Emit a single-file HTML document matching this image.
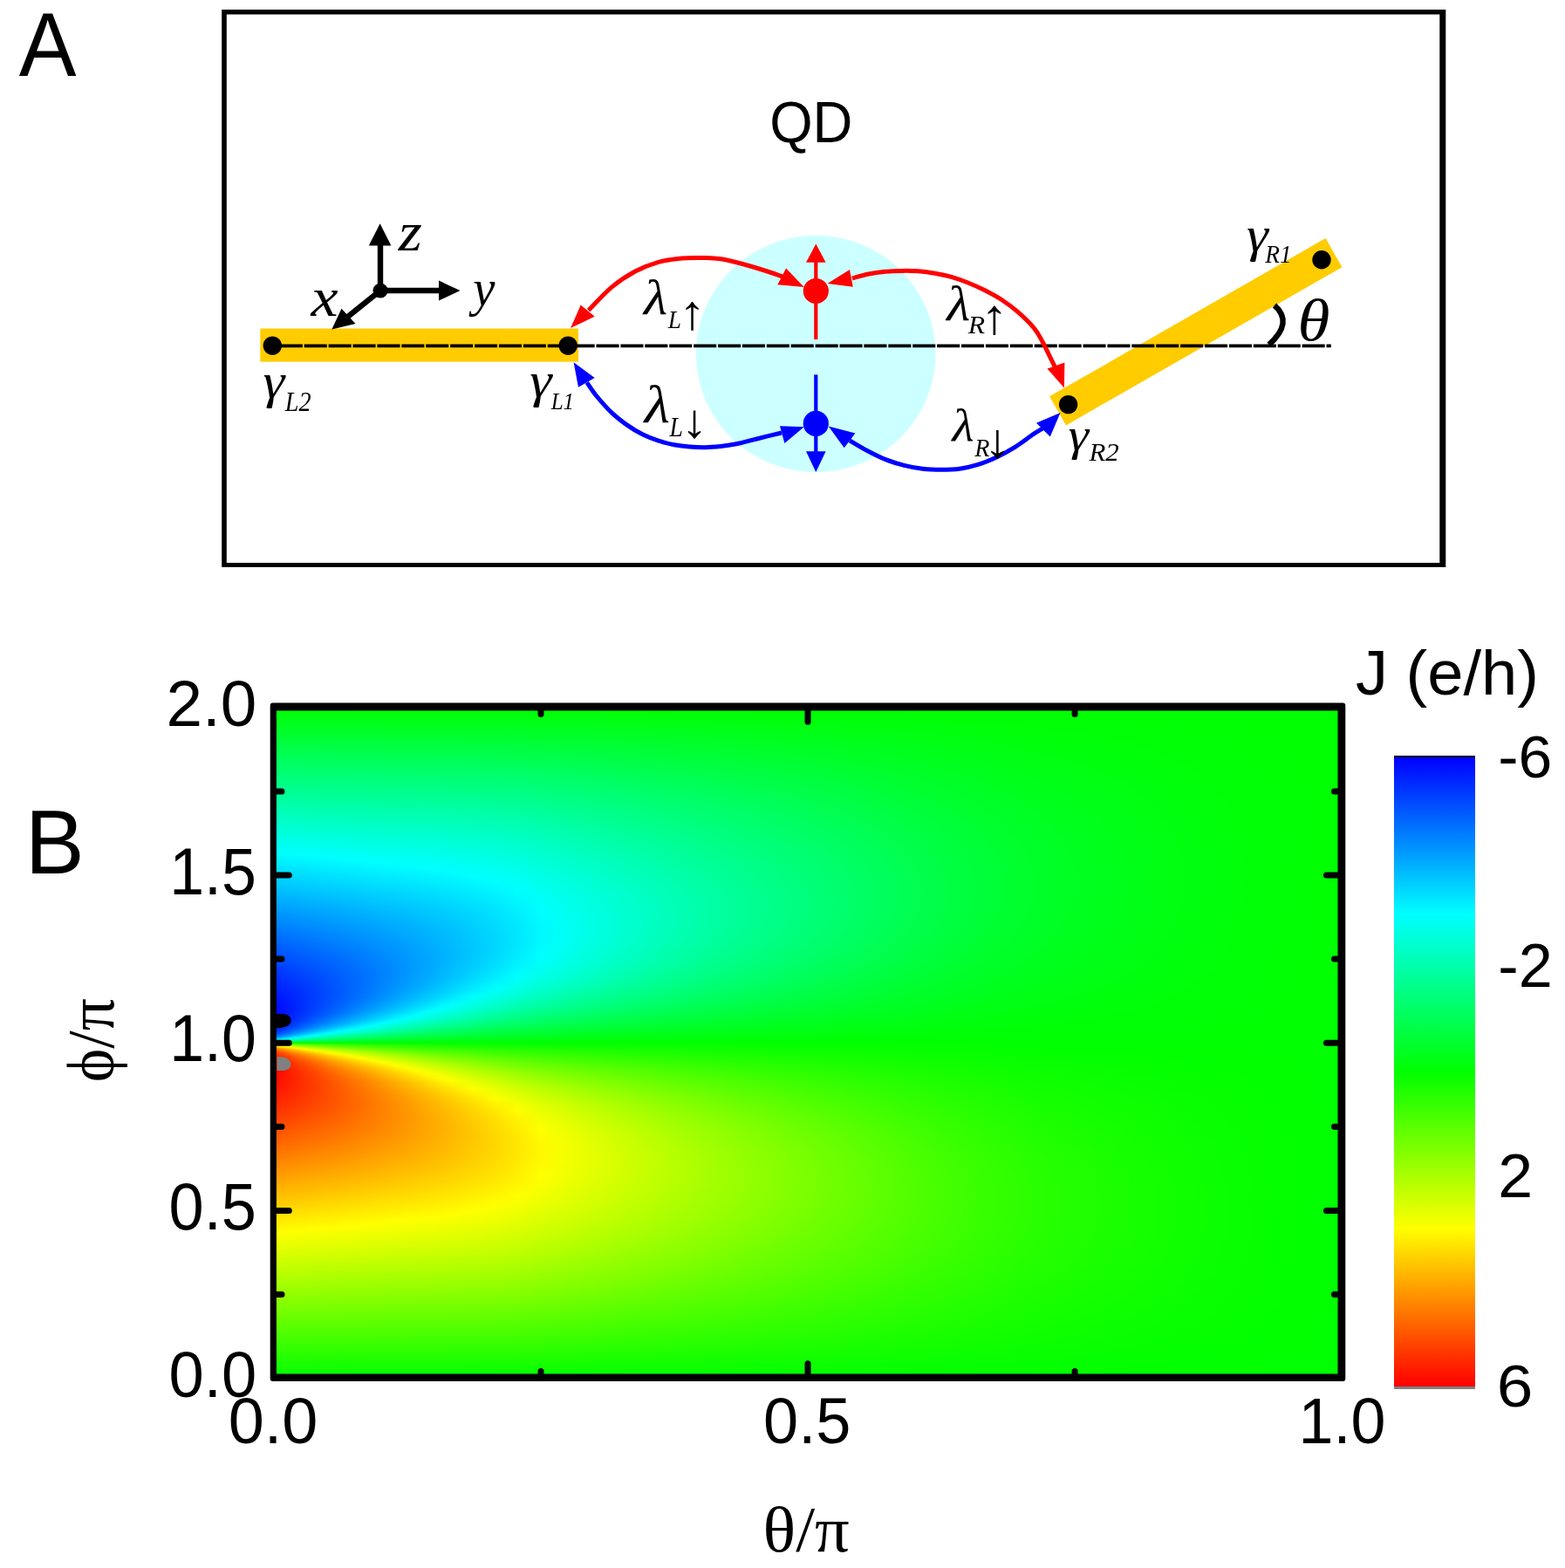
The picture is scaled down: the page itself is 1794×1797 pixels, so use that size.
<!DOCTYPE html>
<html lang="en"><head><meta charset="utf-8"><title>Figure</title>
<style>
html,body{margin:0;padding:0;background:#fff}
body{width:1794px;height:1797px;position:relative;overflow:hidden;font-family:"Liberation Sans",sans-serif}
#hm{position:absolute;overflow:hidden}
#hm i{display:block;width:100%}
#cb{position:absolute;left:1598px;top:866px;width:93px;height:726px;background:linear-gradient(180deg,#000 0,#000 2px,#0000ff 2px,#00ffff 182px,#00ff00 362px,#ffff00 542px,#ff0000 723px,#808080 723px,#808080 726px)}
svg{position:absolute;left:0;top:0}
text{font-family:"Liberation Sans",sans-serif;fill:#000}
.serif{font-family:"Liberation Serif",serif}
.si{font-family:"Liberation Serif",serif;font-style:italic}
</style></head>
<body>
<div id="hm" style="left:312px;top:810px;width:1228px;height:770px"><i style="height:3px;background:linear-gradient(90deg,#00ff01,#00ff01,#00ff01,#00ff01,#00ff01,#00ff01,#00ff01,#00ff01,#00ff01,#00ff01,#00ff01,#00ff01,#00ff01,#00ff01,#00ff01,#00ff01,#00ff01,#00ff01,#00ff01,#00ff01,#00ff01,#00ff01,#00ff01,#00ff01,#00ff01,#00ff01,#00ff00,#00ff00,#00ff00,#00ff00,#00ff00,#00ff00,#00ff00,#00ff00,#00ff00,#00ff00,#00ff00,#00ff00,#00ff00,#00ff00,#00ff00,#00ff00,#00ff00,#00ff00,#00ff00,#00ff00,#00ff00,#00ff00,#00ff00)"></i><i style="height:3px;background:linear-gradient(90deg,#00ff06,#00ff06,#00ff06,#00ff06,#00ff05,#00ff05,#00ff05,#00ff05,#00ff05,#00ff05,#00ff05,#00ff05,#00ff05,#00ff05,#00ff05,#00ff04,#00ff04,#00ff04,#00ff04,#00ff04,#00ff04,#00ff03,#00ff03,#00ff03,#00ff03,#00ff03,#00ff03,#00ff02,#00ff02,#00ff02,#00ff02,#00ff02,#00ff01,#00ff01,#00ff01,#00ff01,#00ff01,#00ff01,#00ff01,#00ff01,#00ff01,#00ff00,#00ff00,#00ff00,#00ff00,#00ff00,#00ff00,#00ff00,#00ff00)"></i><i style="height:3px;background:linear-gradient(90deg,#00ff0a,#00ff0a,#00ff0a,#00ff0a,#00ff0a,#00ff0a,#00ff0a,#00ff0a,#00ff0a,#00ff0a,#00ff09,#00ff09,#00ff09,#00ff09,#00ff08,#00ff08,#00ff08,#00ff07,#00ff07,#00ff07,#00ff06,#00ff06,#00ff06,#00ff06,#00ff05,#00ff05,#00ff05,#00ff04,#00ff04,#00ff04,#00ff03,#00ff03,#00ff03,#00ff02,#00ff02,#00ff02,#00ff02,#00ff02,#00ff01,#00ff01,#00ff01,#00ff01,#00ff01,#00ff00,#00ff00,#00ff00,#00ff00,#00ff00,#00ff00)"></i><i style="height:3px;background:linear-gradient(90deg,#00ff0f,#00ff0f,#00ff0f,#00ff0e,#00ff0e,#00ff0e,#00ff0e,#00ff0e,#00ff0e,#00ff0e,#00ff0e,#00ff0d,#00ff0d,#00ff0d,#00ff0c,#00ff0c,#00ff0b,#00ff0b,#00ff0a,#00ff0a,#00ff09,#00ff09,#00ff09,#00ff08,#00ff08,#00ff07,#00ff07,#00ff06,#00ff06,#00ff05,#00ff05,#00ff04,#00ff04,#00ff04,#00ff03,#00ff03,#00ff02,#00ff02,#00ff02,#00ff02,#00ff01,#00ff01,#00ff01,#00ff01,#00ff00,#00ff00,#00ff00,#00ff00,#00ff00)"></i><i style="height:3px;background:linear-gradient(90deg,#00ff14,#00ff13,#00ff13,#00ff13,#00ff13,#00ff13,#00ff13,#00ff12,#00ff12,#00ff12,#00ff12,#00ff12,#00ff11,#00ff10,#00ff10,#00ff0f,#00ff0f,#00ff0e,#00ff0d,#00ff0d,#00ff0c,#00ff0c,#00ff0b,#00ff0b,#00ff0a,#00ff09,#00ff09,#00ff08,#00ff08,#00ff07,#00ff06,#00ff06,#00ff05,#00ff05,#00ff04,#00ff04,#00ff03,#00ff03,#00ff03,#00ff02,#00ff02,#00ff02,#00ff01,#00ff01,#00ff01,#00ff00,#00ff00,#00ff00,#00ff00)"></i><i style="height:3px;background:linear-gradient(90deg,#00ff18,#00ff18,#00ff18,#00ff17,#00ff17,#00ff17,#00ff17,#00ff17,#00ff17,#00ff16,#00ff16,#00ff16,#00ff15,#00ff14,#00ff14,#00ff13,#00ff12,#00ff11,#00ff11,#00ff10,#00ff0f,#00ff0e,#00ff0e,#00ff0d,#00ff0c,#00ff0c,#00ff0b,#00ff0a,#00ff09,#00ff09,#00ff08,#00ff07,#00ff06,#00ff06,#00ff05,#00ff04,#00ff04,#00ff04,#00ff03,#00ff03,#00ff02,#00ff02,#00ff01,#00ff01,#00ff01,#00ff01,#00ff00,#00ff00,#00ff00)"></i><i style="height:3px;background:linear-gradient(90deg,#00ff1d,#00ff1c,#00ff1c,#00ff1c,#00ff1c,#00ff1b,#00ff1b,#00ff1b,#00ff1b,#00ff1b,#00ff1a,#00ff1a,#00ff19,#00ff18,#00ff17,#00ff16,#00ff16,#00ff15,#00ff14,#00ff13,#00ff12,#00ff11,#00ff10,#00ff10,#00ff0f,#00ff0e,#00ff0d,#00ff0c,#00ff0b,#00ff0a,#00ff09,#00ff08,#00ff08,#00ff07,#00ff06,#00ff05,#00ff05,#00ff04,#00ff04,#00ff03,#00ff03,#00ff02,#00ff02,#00ff01,#00ff01,#00ff01,#00ff00,#00ff00,#00ff00)"></i><i style="height:3px;background:linear-gradient(90deg,#00ff21,#00ff21,#00ff21,#00ff20,#00ff20,#00ff20,#00ff20,#00ff1f,#00ff1f,#00ff1f,#00ff1f,#00ff1e,#00ff1d,#00ff1c,#00ff1b,#00ff1a,#00ff19,#00ff18,#00ff17,#00ff16,#00ff15,#00ff14,#00ff13,#00ff12,#00ff11,#00ff10,#00ff0f,#00ff0e,#00ff0d,#00ff0c,#00ff0b,#00ff0a,#00ff09,#00ff08,#00ff07,#00ff06,#00ff06,#00ff05,#00ff04,#00ff04,#00ff03,#00ff03,#00ff02,#00ff02,#00ff01,#00ff01,#00ff00,#00ff00,#00ff00)"></i><i style="height:3px;background:linear-gradient(90deg,#00ff26,#00ff26,#00ff25,#00ff25,#00ff25,#00ff24,#00ff24,#00ff24,#00ff24,#00ff23,#00ff23,#00ff22,#00ff21,#00ff20,#00ff1f,#00ff1e,#00ff1c,#00ff1b,#00ff1a,#00ff19,#00ff18,#00ff17,#00ff16,#00ff15,#00ff13,#00ff12,#00ff11,#00ff10,#00ff0f,#00ff0d,#00ff0c,#00ff0b,#00ff0a,#00ff09,#00ff08,#00ff07,#00ff06,#00ff06,#00ff05,#00ff04,#00ff04,#00ff03,#00ff02,#00ff02,#00ff01,#00ff01,#00ff00,#00ff00,#00ff00)"></i><i style="height:3px;background:linear-gradient(90deg,#00ff2b,#00ff2a,#00ff2a,#00ff29,#00ff29,#00ff29,#00ff28,#00ff28,#00ff28,#00ff27,#00ff27,#00ff26,#00ff25,#00ff24,#00ff22,#00ff21,#00ff20,#00ff1f,#00ff1d,#00ff1c,#00ff1b,#00ff1a,#00ff18,#00ff17,#00ff16,#00ff14,#00ff13,#00ff12,#00ff10,#00ff0f,#00ff0e,#00ff0c,#00ff0b,#00ff0a,#00ff09,#00ff08,#00ff07,#00ff06,#00ff05,#00ff05,#00ff04,#00ff03,#00ff03,#00ff02,#00ff01,#00ff01,#00ff01,#00ff00,#00ff00)"></i><i style="height:3px;background:linear-gradient(90deg,#00ff2f,#00ff2f,#00ff2e,#00ff2e,#00ff2d,#00ff2d,#00ff2d,#00ff2c,#00ff2c,#00ff2c,#00ff2b,#00ff2a,#00ff29,#00ff28,#00ff26,#00ff25,#00ff23,#00ff22,#00ff20,#00ff1f,#00ff1e,#00ff1c,#00ff1b,#00ff19,#00ff18,#00ff17,#00ff15,#00ff14,#00ff12,#00ff11,#00ff0f,#00ff0e,#00ff0c,#00ff0b,#00ff0a,#00ff09,#00ff08,#00ff07,#00ff06,#00ff05,#00ff04,#00ff04,#00ff03,#00ff02,#00ff02,#00ff01,#00ff01,#00ff00,#00ff00)"></i><i style="height:3px;background:linear-gradient(90deg,#00ff34,#00ff33,#00ff33,#00ff32,#00ff32,#00ff31,#00ff31,#00ff31,#00ff30,#00ff30,#00ff2f,#00ff2e,#00ff2d,#00ff2b,#00ff2a,#00ff28,#00ff27,#00ff25,#00ff24,#00ff22,#00ff21,#00ff1f,#00ff1d,#00ff1c,#00ff1a,#00ff19,#00ff17,#00ff16,#00ff14,#00ff12,#00ff11,#00ff0f,#00ff0e,#00ff0c,#00ff0b,#00ff0a,#00ff09,#00ff08,#00ff07,#00ff06,#00ff05,#00ff04,#00ff03,#00ff02,#00ff02,#00ff01,#00ff01,#00ff00,#00ff00)"></i><i style="height:3px;background:linear-gradient(90deg,#00ff38,#00ff38,#00ff37,#00ff37,#00ff36,#00ff36,#00ff35,#00ff35,#00ff35,#00ff34,#00ff34,#00ff33,#00ff31,#00ff2f,#00ff2e,#00ff2c,#00ff2a,#00ff28,#00ff27,#00ff25,#00ff23,#00ff22,#00ff20,#00ff1e,#00ff1d,#00ff1b,#00ff19,#00ff17,#00ff16,#00ff14,#00ff12,#00ff10,#00ff0f,#00ff0d,#00ff0c,#00ff0a,#00ff09,#00ff08,#00ff07,#00ff06,#00ff05,#00ff04,#00ff03,#00ff03,#00ff02,#00ff01,#00ff01,#00ff00,#00ff00)"></i><i style="height:3px;background:linear-gradient(90deg,#00ff3d,#00ff3c,#00ff3c,#00ff3b,#00ff3b,#00ff3a,#00ff3a,#00ff39,#00ff39,#00ff38,#00ff38,#00ff37,#00ff35,#00ff33,#00ff31,#00ff2f,#00ff2e,#00ff2c,#00ff2a,#00ff28,#00ff26,#00ff24,#00ff23,#00ff21,#00ff1f,#00ff1d,#00ff1b,#00ff19,#00ff17,#00ff15,#00ff14,#00ff12,#00ff10,#00ff0e,#00ff0d,#00ff0b,#00ff0a,#00ff09,#00ff08,#00ff07,#00ff06,#00ff05,#00ff04,#00ff03,#00ff02,#00ff01,#00ff01,#00ff00,#00ff00)"></i><i style="height:3px;background:linear-gradient(90deg,#00ff42,#00ff41,#00ff40,#00ff40,#00ff3f,#00ff3f,#00ff3e,#00ff3e,#00ff3d,#00ff3d,#00ff3c,#00ff3b,#00ff39,#00ff37,#00ff35,#00ff33,#00ff31,#00ff2f,#00ff2d,#00ff2b,#00ff29,#00ff27,#00ff25,#00ff23,#00ff21,#00ff1f,#00ff1d,#00ff1b,#00ff19,#00ff17,#00ff15,#00ff13,#00ff11,#00ff0f,#00ff0e,#00ff0c,#00ff0b,#00ff0a,#00ff08,#00ff07,#00ff06,#00ff05,#00ff04,#00ff03,#00ff02,#00ff01,#00ff01,#00ff00,#00ff00)"></i><i style="height:3px;background:linear-gradient(90deg,#00ff46,#00ff46,#00ff45,#00ff44,#00ff44,#00ff43,#00ff43,#00ff42,#00ff42,#00ff41,#00ff40,#00ff3f,#00ff3d,#00ff3b,#00ff39,#00ff36,#00ff34,#00ff32,#00ff30,#00ff2e,#00ff2c,#00ff2a,#00ff28,#00ff26,#00ff24,#00ff22,#00ff1f,#00ff1d,#00ff1b,#00ff19,#00ff16,#00ff14,#00ff12,#00ff10,#00ff0e,#00ff0d,#00ff0b,#00ff0a,#00ff09,#00ff08,#00ff06,#00ff05,#00ff04,#00ff03,#00ff02,#00ff02,#00ff01,#00ff00,#00ff00)"></i><i style="height:3px;background:linear-gradient(90deg,#00ff4b,#00ff4a,#00ff49,#00ff49,#00ff48,#00ff47,#00ff47,#00ff46,#00ff46,#00ff45,#00ff44,#00ff43,#00ff41,#00ff3e,#00ff3c,#00ff3a,#00ff38,#00ff35,#00ff33,#00ff31,#00ff2f,#00ff2d,#00ff2a,#00ff28,#00ff26,#00ff24,#00ff21,#00ff1f,#00ff1d,#00ff1a,#00ff18,#00ff16,#00ff13,#00ff11,#00ff0f,#00ff0e,#00ff0c,#00ff0b,#00ff09,#00ff08,#00ff07,#00ff06,#00ff04,#00ff03,#00ff02,#00ff02,#00ff01,#00ff00,#00ff00)"></i><i style="height:3px;background:linear-gradient(90deg,#00ff50,#00ff4f,#00ff4e,#00ff4d,#00ff4c,#00ff4c,#00ff4b,#00ff4b,#00ff4a,#00ff49,#00ff49,#00ff47,#00ff45,#00ff42,#00ff40,#00ff3d,#00ff3b,#00ff39,#00ff36,#00ff34,#00ff32,#00ff2f,#00ff2d,#00ff2b,#00ff28,#00ff26,#00ff23,#00ff21,#00ff1e,#00ff1c,#00ff19,#00ff17,#00ff14,#00ff12,#00ff10,#00ff0e,#00ff0d,#00ff0b,#00ff0a,#00ff09,#00ff07,#00ff06,#00ff05,#00ff04,#00ff03,#00ff02,#00ff01,#00ff00,#00ff00)"></i><i style="height:3px;background:linear-gradient(90deg,#00ff54,#00ff53,#00ff52,#00ff52,#00ff51,#00ff50,#00ff50,#00ff4f,#00ff4e,#00ff4e,#00ff4d,#00ff4b,#00ff49,#00ff46,#00ff44,#00ff41,#00ff3e,#00ff3c,#00ff39,#00ff37,#00ff34,#00ff32,#00ff2f,#00ff2d,#00ff2a,#00ff28,#00ff25,#00ff23,#00ff20,#00ff1d,#00ff1b,#00ff18,#00ff16,#00ff13,#00ff11,#00ff0f,#00ff0e,#00ff0c,#00ff0b,#00ff09,#00ff08,#00ff06,#00ff05,#00ff04,#00ff03,#00ff02,#00ff01,#00ff00,#00ff00)"></i><i style="height:3px;background:linear-gradient(90deg,#00ff59,#00ff58,#00ff57,#00ff56,#00ff55,#00ff54,#00ff54,#00ff53,#00ff53,#00ff52,#00ff51,#00ff4f,#00ff4c,#00ff4a,#00ff47,#00ff44,#00ff42,#00ff3f,#00ff3c,#00ff3a,#00ff37,#00ff35,#00ff32,#00ff2f,#00ff2d,#00ff2a,#00ff27,#00ff24,#00ff22,#00ff1f,#00ff1c,#00ff19,#00ff17,#00ff14,#00ff12,#00ff10,#00ff0e,#00ff0d,#00ff0b,#00ff0a,#00ff08,#00ff07,#00ff05,#00ff04,#00ff03,#00ff02,#00ff01,#00ff00,#00ff00)"></i><i style="height:3px;background:linear-gradient(90deg,#00ff5d,#00ff5c,#00ff5b,#00ff5b,#00ff5a,#00ff59,#00ff58,#00ff58,#00ff57,#00ff56,#00ff55,#00ff53,#00ff50,#00ff4e,#00ff4b,#00ff48,#00ff45,#00ff42,#00ff40,#00ff3d,#00ff3a,#00ff37,#00ff34,#00ff32,#00ff2f,#00ff2c,#00ff29,#00ff26,#00ff23,#00ff20,#00ff1d,#00ff1b,#00ff18,#00ff15,#00ff13,#00ff11,#00ff0f,#00ff0d,#00ff0c,#00ff0a,#00ff08,#00ff07,#00ff06,#00ff04,#00ff03,#00ff02,#00ff01,#00ff00,#00ff00)"></i><i style="height:3px;background:linear-gradient(90deg,#00ff62,#00ff61,#00ff60,#00ff5f,#00ff5e,#00ff5d,#00ff5d,#00ff5c,#00ff5b,#00ff5a,#00ff59,#00ff57,#00ff54,#00ff51,#00ff4e,#00ff4b,#00ff48,#00ff46,#00ff43,#00ff40,#00ff3d,#00ff3a,#00ff37,#00ff34,#00ff31,#00ff2e,#00ff2b,#00ff28,#00ff25,#00ff22,#00ff1f,#00ff1c,#00ff19,#00ff16,#00ff14,#00ff12,#00ff10,#00ff0e,#00ff0c,#00ff0a,#00ff09,#00ff07,#00ff06,#00ff04,#00ff03,#00ff02,#00ff01,#00ff00,#00ff00)"></i><i style="height:3px;background:linear-gradient(90deg,#00ff67,#00ff65,#00ff64,#00ff63,#00ff63,#00ff62,#00ff61,#00ff60,#00ff5f,#00ff5e,#00ff5d,#00ff5b,#00ff58,#00ff55,#00ff52,#00ff4f,#00ff4c,#00ff49,#00ff46,#00ff43,#00ff3f,#00ff3c,#00ff39,#00ff36,#00ff33,#00ff30,#00ff2d,#00ff2a,#00ff27,#00ff23,#00ff20,#00ff1d,#00ff1a,#00ff17,#00ff15,#00ff12,#00ff10,#00ff0f,#00ff0d,#00ff0b,#00ff09,#00ff08,#00ff06,#00ff05,#00ff03,#00ff02,#00ff01,#00ff00,#00ff00)"></i><i style="height:3px;background:linear-gradient(90deg,#00ff6b,#00ff6a,#00ff69,#00ff68,#00ff67,#00ff66,#00ff65,#00ff65,#00ff64,#00ff63,#00ff61,#00ff5f,#00ff5c,#00ff59,#00ff56,#00ff52,#00ff4f,#00ff4c,#00ff49,#00ff45,#00ff42,#00ff3f,#00ff3c,#00ff39,#00ff36,#00ff32,#00ff2f,#00ff2c,#00ff28,#00ff25,#00ff21,#00ff1e,#00ff1b,#00ff18,#00ff16,#00ff13,#00ff11,#00ff0f,#00ff0d,#00ff0b,#00ff0a,#00ff08,#00ff06,#00ff05,#00ff03,#00ff02,#00ff01,#00ff00,#00ff00)"></i><i style="height:3px;background:linear-gradient(90deg,#00ff70,#00ff6f,#00ff6d,#00ff6c,#00ff6b,#00ff6a,#00ff6a,#00ff69,#00ff68,#00ff67,#00ff66,#00ff63,#00ff60,#00ff5d,#00ff59,#00ff56,#00ff52,#00ff4f,#00ff4c,#00ff48,#00ff45,#00ff42,#00ff3e,#00ff3b,#00ff38,#00ff34,#00ff31,#00ff2d,#00ff2a,#00ff26,#00ff23,#00ff1f,#00ff1c,#00ff19,#00ff16,#00ff14,#00ff12,#00ff10,#00ff0e,#00ff0c,#00ff0a,#00ff08,#00ff06,#00ff05,#00ff04,#00ff02,#00ff01,#00ff01,#00ff00)"></i><i style="height:3px;background:linear-gradient(90deg,#00ff74,#00ff73,#00ff72,#00ff71,#00ff70,#00ff6f,#00ff6e,#00ff6d,#00ff6c,#00ff6b,#00ff6a,#00ff67,#00ff64,#00ff60,#00ff5d,#00ff59,#00ff56,#00ff52,#00ff4f,#00ff4b,#00ff48,#00ff44,#00ff41,#00ff3d,#00ff3a,#00ff36,#00ff33,#00ff2f,#00ff2b,#00ff28,#00ff24,#00ff21,#00ff1d,#00ff1a,#00ff17,#00ff15,#00ff12,#00ff10,#00ff0e,#00ff0c,#00ff0a,#00ff08,#00ff07,#00ff05,#00ff04,#00ff02,#00ff01,#00ff01,#00ff00)"></i><i style="height:3px;background:linear-gradient(90deg,#00ff79,#00ff78,#00ff76,#00ff75,#00ff74,#00ff73,#00ff72,#00ff71,#00ff70,#00ff6f,#00ff6e,#00ff6b,#00ff68,#00ff64,#00ff60,#00ff5d,#00ff59,#00ff55,#00ff52,#00ff4e,#00ff4a,#00ff47,#00ff43,#00ff40,#00ff3c,#00ff38,#00ff35,#00ff31,#00ff2d,#00ff29,#00ff25,#00ff22,#00ff1e,#00ff1b,#00ff18,#00ff15,#00ff13,#00ff11,#00ff0f,#00ff0d,#00ff0b,#00ff09,#00ff07,#00ff05,#00ff04,#00ff02,#00ff01,#00ff01,#00ff00)"></i><i style="height:3px;background:linear-gradient(90deg,#00ff7e,#00ff7c,#00ff7b,#00ff7a,#00ff79,#00ff77,#00ff76,#00ff76,#00ff75,#00ff73,#00ff72,#00ff6f,#00ff6b,#00ff68,#00ff64,#00ff60,#00ff5c,#00ff58,#00ff55,#00ff51,#00ff4d,#00ff49,#00ff46,#00ff42,#00ff3e,#00ff3a,#00ff37,#00ff33,#00ff2f,#00ff2b,#00ff27,#00ff23,#00ff1f,#00ff1c,#00ff19,#00ff16,#00ff14,#00ff11,#00ff0f,#00ff0d,#00ff0b,#00ff09,#00ff07,#00ff05,#00ff04,#00ff03,#00ff01,#00ff01,#00ff00)"></i><i style="height:3px;background:linear-gradient(90deg,#00ff82,#00ff81,#00ff7f,#00ff7e,#00ff7d,#00ff7c,#00ff7b,#00ff7a,#00ff79,#00ff77,#00ff76,#00ff73,#00ff6f,#00ff6b,#00ff67,#00ff63,#00ff5f,#00ff5b,#00ff57,#00ff54,#00ff50,#00ff4c,#00ff48,#00ff44,#00ff40,#00ff3c,#00ff38,#00ff34,#00ff30,#00ff2c,#00ff28,#00ff24,#00ff20,#00ff1d,#00ff1a,#00ff17,#00ff14,#00ff12,#00ff10,#00ff0e,#00ff0b,#00ff09,#00ff07,#00ff06,#00ff04,#00ff03,#00ff01,#00ff01,#00ff00)"></i><i style="height:3px;background:linear-gradient(90deg,#00ff87,#00ff85,#00ff84,#00ff83,#00ff81,#00ff80,#00ff7f,#00ff7e,#00ff7d,#00ff7b,#00ff7a,#00ff77,#00ff73,#00ff6f,#00ff6b,#00ff67,#00ff63,#00ff5e,#00ff5a,#00ff56,#00ff52,#00ff4e,#00ff4a,#00ff46,#00ff42,#00ff3e,#00ff3a,#00ff36,#00ff32,#00ff2d,#00ff29,#00ff25,#00ff21,#00ff1e,#00ff1a,#00ff17,#00ff15,#00ff13,#00ff10,#00ff0e,#00ff0c,#00ff0a,#00ff08,#00ff06,#00ff04,#00ff03,#00ff02,#00ff01,#00ff00)"></i><i style="height:3px;background:linear-gradient(90deg,#00ff8c,#00ff8a,#00ff88,#00ff87,#00ff86,#00ff84,#00ff83,#00ff82,#00ff81,#00ff7f,#00ff7e,#00ff7b,#00ff77,#00ff72,#00ff6e,#00ff6a,#00ff66,#00ff61,#00ff5d,#00ff59,#00ff55,#00ff51,#00ff4d,#00ff48,#00ff44,#00ff40,#00ff3c,#00ff38,#00ff33,#00ff2f,#00ff2a,#00ff26,#00ff22,#00ff1f,#00ff1b,#00ff18,#00ff16,#00ff13,#00ff11,#00ff0e,#00ff0c,#00ff0a,#00ff08,#00ff06,#00ff04,#00ff03,#00ff02,#00ff01,#00ff00)"></i><i style="height:3px;background:linear-gradient(90deg,#00ff90,#00ff8e,#00ff8d,#00ff8c,#00ff8a,#00ff89,#00ff88,#00ff87,#00ff85,#00ff84,#00ff82,#00ff7f,#00ff7a,#00ff76,#00ff72,#00ff6d,#00ff69,#00ff65,#00ff60,#00ff5c,#00ff57,#00ff53,#00ff4f,#00ff4b,#00ff46,#00ff42,#00ff3e,#00ff39,#00ff35,#00ff30,#00ff2c,#00ff27,#00ff23,#00ff1f,#00ff1c,#00ff19,#00ff16,#00ff14,#00ff11,#00ff0f,#00ff0c,#00ff0a,#00ff08,#00ff06,#00ff04,#00ff03,#00ff02,#00ff01,#00ff00)"></i><i style="height:3px;background:linear-gradient(90deg,#00ff95,#00ff93,#00ff91,#00ff90,#00ff8e,#00ff8d,#00ff8c,#00ff8b,#00ff89,#00ff88,#00ff86,#00ff83,#00ff7e,#00ff7a,#00ff75,#00ff71,#00ff6c,#00ff67,#00ff63,#00ff5e,#00ff5a,#00ff56,#00ff51,#00ff4d,#00ff48,#00ff44,#00ff3f,#00ff3b,#00ff36,#00ff31,#00ff2d,#00ff28,#00ff24,#00ff20,#00ff1d,#00ff19,#00ff17,#00ff14,#00ff12,#00ff0f,#00ff0d,#00ff0a,#00ff08,#00ff06,#00ff04,#00ff03,#00ff02,#00ff01,#00ff00)"></i><i style="height:3px;background:linear-gradient(90deg,#00ff99,#00ff97,#00ff96,#00ff94,#00ff93,#00ff91,#00ff90,#00ff8f,#00ff8e,#00ff8c,#00ff8a,#00ff87,#00ff82,#00ff7d,#00ff79,#00ff74,#00ff6f,#00ff6a,#00ff66,#00ff61,#00ff5d,#00ff58,#00ff53,#00ff4f,#00ff4a,#00ff46,#00ff41,#00ff3c,#00ff38,#00ff33,#00ff2e,#00ff2a,#00ff25,#00ff21,#00ff1d,#00ff1a,#00ff17,#00ff15,#00ff12,#00ff0f,#00ff0d,#00ff0b,#00ff08,#00ff06,#00ff05,#00ff03,#00ff02,#00ff01,#00ff00)"></i><i style="height:3px;background:linear-gradient(90deg,#00ff9e,#00ff9c,#00ff9a,#00ff99,#00ff97,#00ff96,#00ff94,#00ff93,#00ff92,#00ff90,#00ff8e,#00ff8b,#00ff86,#00ff81,#00ff7c,#00ff77,#00ff72,#00ff6d,#00ff69,#00ff64,#00ff5f,#00ff5a,#00ff56,#00ff51,#00ff4c,#00ff48,#00ff43,#00ff3e,#00ff39,#00ff34,#00ff2f,#00ff2b,#00ff26,#00ff22,#00ff1e,#00ff1b,#00ff18,#00ff15,#00ff12,#00ff10,#00ff0d,#00ff0b,#00ff09,#00ff07,#00ff05,#00ff03,#00ff02,#00ff01,#00ff00)"></i><i style="height:3px;background:linear-gradient(90deg,#00ffa3,#00ffa1,#00ff9f,#00ff9d,#00ff9c,#00ff9a,#00ff99,#00ff97,#00ff96,#00ff94,#00ff92,#00ff8e,#00ff89,#00ff84,#00ff7f,#00ff7a,#00ff75,#00ff70,#00ff6b,#00ff66,#00ff62,#00ff5d,#00ff58,#00ff53,#00ff4e,#00ff49,#00ff45,#00ff3f,#00ff3a,#00ff35,#00ff30,#00ff2c,#00ff27,#00ff23,#00ff1f,#00ff1b,#00ff18,#00ff16,#00ff13,#00ff10,#00ff0e,#00ff0b,#00ff09,#00ff07,#00ff05,#00ff03,#00ff02,#00ff01,#00ff00)"></i><i style="height:3px;background:linear-gradient(90deg,#00ffa7,#00ffa5,#00ffa3,#00ffa2,#00ffa0,#00ff9e,#00ff9d,#00ff9c,#00ff9a,#00ff98,#00ff96,#00ff92,#00ff8d,#00ff88,#00ff83,#00ff7d,#00ff78,#00ff73,#00ff6e,#00ff69,#00ff64,#00ff5f,#00ff5a,#00ff55,#00ff50,#00ff4b,#00ff46,#00ff41,#00ff3c,#00ff37,#00ff31,#00ff2d,#00ff28,#00ff24,#00ff20,#00ff1c,#00ff19,#00ff16,#00ff13,#00ff11,#00ff0e,#00ff0b,#00ff09,#00ff07,#00ff05,#00ff03,#00ff02,#00ff01,#00ff00)"></i><i style="height:3px;background:linear-gradient(90deg,#00ffac,#00ffaa,#00ffa8,#00ffa6,#00ffa4,#00ffa2,#00ffa1,#00ffa0,#00ff9e,#00ff9c,#00ff9a,#00ff96,#00ff91,#00ff8b,#00ff86,#00ff81,#00ff7b,#00ff76,#00ff71,#00ff6c,#00ff66,#00ff61,#00ff5c,#00ff57,#00ff52,#00ff4d,#00ff48,#00ff42,#00ff3d,#00ff38,#00ff33,#00ff2e,#00ff29,#00ff24,#00ff20,#00ff1d,#00ff19,#00ff17,#00ff14,#00ff11,#00ff0e,#00ff0c,#00ff09,#00ff07,#00ff05,#00ff03,#00ff02,#00ff01,#00ff00)"></i><i style="height:3px;background:linear-gradient(90deg,#00ffb0,#00ffae,#00ffac,#00ffaa,#00ffa9,#00ffa7,#00ffa5,#00ffa4,#00ffa2,#00ffa0,#00ff9e,#00ff9a,#00ff94,#00ff8f,#00ff89,#00ff84,#00ff7e,#00ff79,#00ff74,#00ff6e,#00ff69,#00ff64,#00ff5e,#00ff59,#00ff54,#00ff4f,#00ff49,#00ff44,#00ff3e,#00ff39,#00ff34,#00ff2f,#00ff2a,#00ff25,#00ff21,#00ff1d,#00ff1a,#00ff17,#00ff14,#00ff11,#00ff0e,#00ff0c,#00ff09,#00ff07,#00ff05,#00ff03,#00ff02,#00ff01,#00ff00)"></i><i style="height:3px;background:linear-gradient(90deg,#00ffb5,#00ffb3,#00ffb1,#00ffaf,#00ffad,#00ffab,#00ffa9,#00ffa8,#00ffa6,#00ffa4,#00ffa2,#00ff9e,#00ff98,#00ff92,#00ff8d,#00ff87,#00ff81,#00ff7c,#00ff76,#00ff71,#00ff6b,#00ff66,#00ff60,#00ff5b,#00ff56,#00ff50,#00ff4b,#00ff45,#00ff40,#00ff3a,#00ff35,#00ff2f,#00ff2a,#00ff26,#00ff22,#00ff1e,#00ff1a,#00ff17,#00ff14,#00ff12,#00ff0f,#00ff0c,#00ff0a,#00ff07,#00ff05,#00ff03,#00ff02,#00ff01,#00ff00)"></i><i style="height:3px;background:linear-gradient(90deg,#00ffba,#00ffb7,#00ffb5,#00ffb3,#00ffb1,#00ffaf,#00ffae,#00ffac,#00ffaa,#00ffa8,#00ffa5,#00ffa1,#00ff9b,#00ff96,#00ff90,#00ff8a,#00ff84,#00ff7f,#00ff79,#00ff73,#00ff6e,#00ff68,#00ff62,#00ff5d,#00ff58,#00ff52,#00ff4c,#00ff47,#00ff41,#00ff3b,#00ff36,#00ff30,#00ff2b,#00ff27,#00ff22,#00ff1e,#00ff1b,#00ff18,#00ff15,#00ff12,#00ff0f,#00ff0c,#00ff0a,#00ff07,#00ff05,#00ff03,#00ff02,#00ff01,#00ff00)"></i><i style="height:3px;background:linear-gradient(90deg,#00ffbe,#00ffbc,#00ffba,#00ffb8,#00ffb6,#00ffb3,#00ffb2,#00ffb0,#00ffae,#00ffac,#00ffa9,#00ffa5,#00ff9f,#00ff99,#00ff93,#00ff8d,#00ff87,#00ff81,#00ff7b,#00ff76,#00ff70,#00ff6a,#00ff65,#00ff5f,#00ff59,#00ff54,#00ff4e,#00ff48,#00ff42,#00ff3c,#00ff37,#00ff31,#00ff2c,#00ff27,#00ff23,#00ff1f,#00ff1b,#00ff18,#00ff15,#00ff12,#00ff0f,#00ff0c,#00ff0a,#00ff08,#00ff05,#00ff04,#00ff02,#00ff01,#00ff00)"></i><i style="height:3px;background:linear-gradient(90deg,#00ffc3,#00ffc0,#00ffbe,#00ffbc,#00ffba,#00ffb8,#00ffb6,#00ffb4,#00ffb2,#00ffb0,#00ffad,#00ffa9,#00ffa2,#00ff9c,#00ff96,#00ff90,#00ff8a,#00ff84,#00ff7e,#00ff78,#00ff72,#00ff6c,#00ff67,#00ff61,#00ff5b,#00ff55,#00ff4f,#00ff49,#00ff43,#00ff3e,#00ff38,#00ff32,#00ff2d,#00ff28,#00ff23,#00ff1f,#00ff1c,#00ff19,#00ff16,#00ff12,#00ff0f,#00ff0d,#00ff0a,#00ff08,#00ff05,#00ff04,#00ff02,#00ff01,#00ff00)"></i><i style="height:3px;background:linear-gradient(90deg,#00ffc7,#00ffc5,#00ffc3,#00ffc0,#00ffbe,#00ffbc,#00ffba,#00ffb9,#00ffb6,#00ffb4,#00ffb1,#00ffac,#00ffa6,#00ffa0,#00ff99,#00ff93,#00ff8d,#00ff87,#00ff81,#00ff7a,#00ff74,#00ff6e,#00ff68,#00ff63,#00ff5d,#00ff57,#00ff51,#00ff4b,#00ff45,#00ff3f,#00ff39,#00ff33,#00ff2e,#00ff29,#00ff24,#00ff20,#00ff1c,#00ff19,#00ff16,#00ff13,#00ff10,#00ff0d,#00ff0a,#00ff08,#00ff06,#00ff04,#00ff02,#00ff01,#00ff00)"></i><i style="height:3px;background:linear-gradient(90deg,#00ffcc,#00ffc9,#00ffc7,#00ffc5,#00ffc3,#00ffc0,#00ffbe,#00ffbd,#00ffba,#00ffb7,#00ffb5,#00ffb0,#00ffa9,#00ffa3,#00ff9c,#00ff96,#00ff90,#00ff89,#00ff83,#00ff7d,#00ff77,#00ff70,#00ff6a,#00ff64,#00ff5f,#00ff59,#00ff52,#00ff4c,#00ff46,#00ff40,#00ff3a,#00ff34,#00ff2e,#00ff29,#00ff24,#00ff20,#00ff1d,#00ff19,#00ff16,#00ff13,#00ff10,#00ff0d,#00ff0a,#00ff08,#00ff06,#00ff04,#00ff02,#00ff01,#00ff00)"></i><i style="height:3px;background:linear-gradient(90deg,#00ffd0,#00ffce,#00ffcb,#00ffc9,#00ffc7,#00ffc4,#00ffc3,#00ffc1,#00ffbe,#00ffbb,#00ffb8,#00ffb4,#00ffad,#00ffa6,#00ffa0,#00ff99,#00ff92,#00ff8c,#00ff85,#00ff7f,#00ff79,#00ff73,#00ff6c,#00ff66,#00ff60,#00ff5a,#00ff54,#00ff4d,#00ff47,#00ff41,#00ff3b,#00ff35,#00ff2f,#00ff2a,#00ff25,#00ff21,#00ff1d,#00ff1a,#00ff16,#00ff13,#00ff10,#00ff0d,#00ff0a,#00ff08,#00ff06,#00ff04,#00ff02,#00ff01,#00ff00)"></i><i style="height:3px;background:linear-gradient(90deg,#00ffd5,#00ffd2,#00ffd0,#00ffce,#00ffcb,#00ffc9,#00ffc7,#00ffc5,#00ffc2,#00ffbf,#00ffbc,#00ffb7,#00ffb0,#00ffa9,#00ffa3,#00ff9c,#00ff95,#00ff8e,#00ff88,#00ff81,#00ff7b,#00ff74,#00ff6e,#00ff68,#00ff62,#00ff5b,#00ff55,#00ff4f,#00ff48,#00ff42,#00ff3b,#00ff35,#00ff30,#00ff2a,#00ff26,#00ff21,#00ff1d,#00ff1a,#00ff17,#00ff14,#00ff10,#00ff0d,#00ff0b,#00ff08,#00ff06,#00ff04,#00ff02,#00ff01,#00ff00)"></i><i style="height:3px;background:linear-gradient(90deg,#00ffda,#00ffd7,#00ffd4,#00ffd2,#00ffcf,#00ffcd,#00ffcb,#00ffc9,#00ffc6,#00ffc3,#00ffc0,#00ffbb,#00ffb3,#00ffac,#00ffa6,#00ff9f,#00ff98,#00ff91,#00ff8a,#00ff84,#00ff7d,#00ff76,#00ff70,#00ff6a,#00ff63,#00ff5d,#00ff56,#00ff50,#00ff49,#00ff43,#00ff3c,#00ff36,#00ff30,#00ff2b,#00ff26,#00ff22,#00ff1e,#00ff1a,#00ff17,#00ff14,#00ff11,#00ff0e,#00ff0b,#00ff08,#00ff06,#00ff04,#00ff02,#00ff01,#00ff00)"></i><i style="height:3px;background:linear-gradient(90deg,#00ffde,#00ffdb,#00ffd9,#00ffd6,#00ffd4,#00ffd1,#00ffcf,#00ffcd,#00ffca,#00ffc7,#00ffc3,#00ffbe,#00ffb7,#00ffb0,#00ffa9,#00ffa1,#00ff9a,#00ff94,#00ff8d,#00ff86,#00ff7f,#00ff78,#00ff72,#00ff6b,#00ff65,#00ff5e,#00ff58,#00ff51,#00ff4a,#00ff44,#00ff3d,#00ff37,#00ff31,#00ff2b,#00ff26,#00ff22,#00ff1e,#00ff1b,#00ff17,#00ff14,#00ff11,#00ff0e,#00ff0b,#00ff08,#00ff06,#00ff04,#00ff02,#00ff01,#00ff00)"></i><i style="height:3px;background:linear-gradient(90deg,#00ffe3,#00ffe0,#00ffdd,#00ffdb,#00ffd8,#00ffd5,#00ffd3,#00ffd1,#00ffce,#00ffca,#00ffc7,#00ffc2,#00ffba,#00ffb3,#00ffab,#00ffa4,#00ff9d,#00ff96,#00ff8f,#00ff88,#00ff81,#00ff7a,#00ff74,#00ff6d,#00ff66,#00ff60,#00ff59,#00ff52,#00ff4b,#00ff44,#00ff3e,#00ff38,#00ff32,#00ff2c,#00ff27,#00ff22,#00ff1f,#00ff1b,#00ff18,#00ff14,#00ff11,#00ff0e,#00ff0b,#00ff08,#00ff06,#00ff04,#00ff02,#00ff01,#00ff00)"></i><i style="height:3px;background:linear-gradient(90deg,#00ffe7,#00ffe4,#00ffe2,#00ffdf,#00ffdc,#00ffd9,#00ffd7,#00ffd5,#00ffd2,#00ffce,#00ffcb,#00ffc5,#00ffbd,#00ffb6,#00ffae,#00ffa7,#00ffa0,#00ff98,#00ff91,#00ff8a,#00ff83,#00ff7c,#00ff75,#00ff6e,#00ff68,#00ff61,#00ff5a,#00ff53,#00ff4c,#00ff45,#00ff3f,#00ff38,#00ff32,#00ff2d,#00ff27,#00ff23,#00ff1f,#00ff1b,#00ff18,#00ff14,#00ff11,#00ff0e,#00ff0b,#00ff08,#00ff06,#00ff04,#00ff02,#00ff01,#00ff00)"></i><i style="height:3px;background:linear-gradient(90deg,#00ffec,#00ffe9,#00ffe6,#00ffe3,#00ffe0,#00ffdd,#00ffdb,#00ffd9,#00ffd6,#00ffd2,#00ffce,#00ffc8,#00ffc0,#00ffb9,#00ffb1,#00ffaa,#00ffa2,#00ff9b,#00ff93,#00ff8c,#00ff85,#00ff7e,#00ff77,#00ff70,#00ff69,#00ff62,#00ff5b,#00ff54,#00ff4d,#00ff46,#00ff3f,#00ff39,#00ff33,#00ff2d,#00ff28,#00ff23,#00ff1f,#00ff1c,#00ff18,#00ff15,#00ff11,#00ff0e,#00ff0b,#00ff08,#00ff06,#00ff04,#00ff02,#00ff01,#00ff00)"></i><i style="height:3px;background:linear-gradient(90deg,#00fff1,#00ffed,#00ffea,#00ffe8,#00ffe5,#00ffe2,#00ffdf,#00ffdd,#00ffd9,#00ffd6,#00ffd2,#00ffcc,#00ffc4,#00ffbc,#00ffb4,#00ffac,#00ffa5,#00ff9d,#00ff96,#00ff8e,#00ff87,#00ff80,#00ff78,#00ff71,#00ff6b,#00ff64,#00ff5c,#00ff55,#00ff4e,#00ff47,#00ff40,#00ff39,#00ff33,#00ff2d,#00ff28,#00ff24,#00ff1f,#00ff1c,#00ff18,#00ff15,#00ff11,#00ff0e,#00ff0b,#00ff09,#00ff06,#00ff04,#00ff02,#00ff01,#00ff00)"></i><i style="height:3px;background:linear-gradient(90deg,#00fff5,#00fff2,#00ffef,#00ffec,#00ffe9,#00ffe6,#00ffe3,#00ffe0,#00ffdd,#00ffd9,#00ffd5,#00ffcf,#00ffc7,#00ffbf,#00ffb7,#00ffaf,#00ffa7,#00ff9f,#00ff98,#00ff90,#00ff89,#00ff81,#00ff7a,#00ff73,#00ff6c,#00ff65,#00ff5d,#00ff56,#00ff4f,#00ff48,#00ff41,#00ff3a,#00ff34,#00ff2e,#00ff29,#00ff24,#00ff20,#00ff1c,#00ff18,#00ff15,#00ff12,#00ff0e,#00ff0b,#00ff09,#00ff06,#00ff04,#00ff02,#00ff01,#00ff00)"></i><i style="height:3px;background:linear-gradient(90deg,#00fffa,#00fff6,#00fff3,#00fff0,#00ffed,#00ffea,#00ffe7,#00ffe4,#00ffe1,#00ffdd,#00ffd9,#00ffd2,#00ffca,#00ffc2,#00ffba,#00ffb1,#00ffa9,#00ffa2,#00ff9a,#00ff92,#00ff8a,#00ff83,#00ff7c,#00ff74,#00ff6d,#00ff66,#00ff5f,#00ff57,#00ff50,#00ff48,#00ff41,#00ff3b,#00ff34,#00ff2e,#00ff29,#00ff24,#00ff20,#00ff1c,#00ff19,#00ff15,#00ff12,#00ff0e,#00ff0b,#00ff09,#00ff06,#00ff04,#00ff02,#00ff01,#00ff00)"></i><i style="height:3px;background:linear-gradient(90deg,#00fffe,#00fffb,#00fff8,#00fff5,#00fff1,#00ffee,#00ffeb,#00ffe8,#00ffe5,#00ffe0,#00ffdc,#00ffd6,#00ffcd,#00ffc4,#00ffbc,#00ffb4,#00ffac,#00ffa4,#00ff9c,#00ff94,#00ff8c,#00ff85,#00ff7d,#00ff76,#00ff6e,#00ff67,#00ff60,#00ff58,#00ff50,#00ff49,#00ff42,#00ff3b,#00ff35,#00ff2f,#00ff29,#00ff24,#00ff20,#00ff1d,#00ff19,#00ff15,#00ff12,#00ff0f,#00ff0b,#00ff09,#00ff06,#00ff04,#00ff02,#00ff01,#00ff00)"></i><i style="height:3px;background:linear-gradient(90deg,#00fbff,#00ffff,#00fffc,#00fff9,#00fff5,#00fff2,#00ffef,#00ffec,#00ffe8,#00ffe4,#00ffdf,#00ffd9,#00ffd0,#00ffc7,#00ffbf,#00ffb6,#00ffae,#00ffa6,#00ff9e,#00ff96,#00ff8e,#00ff86,#00ff7e,#00ff77,#00ff70,#00ff68,#00ff60,#00ff59,#00ff51,#00ff4a,#00ff43,#00ff3c,#00ff35,#00ff2f,#00ff2a,#00ff25,#00ff20,#00ff1d,#00ff19,#00ff15,#00ff12,#00ff0f,#00ff0c,#00ff09,#00ff06,#00ff04,#00ff02,#00ff01,#00ff00)"></i><i style="height:3px;background:linear-gradient(90deg,#00f7ff,#00faff,#00feff,#00fffd,#00fffa,#00fff6,#00fff3,#00fff0,#00ffec,#00ffe7,#00ffe3,#00ffdc,#00ffd3,#00ffca,#00ffc1,#00ffb9,#00ffb0,#00ffa8,#00ffa0,#00ff97,#00ff8f,#00ff88,#00ff80,#00ff78,#00ff71,#00ff69,#00ff61,#00ff5a,#00ff52,#00ff4a,#00ff43,#00ff3c,#00ff35,#00ff2f,#00ff2a,#00ff25,#00ff21,#00ff1d,#00ff19,#00ff15,#00ff12,#00ff0f,#00ff0c,#00ff09,#00ff06,#00ff04,#00ff02,#00ff01,#00ff00)"></i><i style="height:3px;background:linear-gradient(90deg,#00f2ff,#00f6ff,#00f9ff,#00fdff,#00fffe,#00fffa,#00fff7,#00fff4,#00fff0,#00ffeb,#00ffe6,#00ffdf,#00ffd6,#00ffcd,#00ffc4,#00ffbb,#00ffb2,#00ffaa,#00ffa2,#00ff99,#00ff91,#00ff89,#00ff81,#00ff79,#00ff72,#00ff6a,#00ff62,#00ff5a,#00ff53,#00ff4b,#00ff44,#00ff3c,#00ff36,#00ff30,#00ff2a,#00ff25,#00ff21,#00ff1d,#00ff19,#00ff16,#00ff12,#00ff0f,#00ff0c,#00ff09,#00ff06,#00ff04,#00ff02,#00ff01,#00ff00)"></i><i style="height:3px;background:linear-gradient(90deg,#00edff,#00f1ff,#00f5ff,#00f8ff,#00fcff,#00fffe,#00fffb,#00fff7,#00fff3,#00ffee,#00ffe9,#00ffe2,#00ffd8,#00ffcf,#00ffc6,#00ffbd,#00ffb5,#00ffac,#00ffa3,#00ff9b,#00ff93,#00ff8a,#00ff82,#00ff7a,#00ff73,#00ff6b,#00ff63,#00ff5b,#00ff53,#00ff4b,#00ff44,#00ff3d,#00ff36,#00ff30,#00ff2a,#00ff25,#00ff21,#00ff1d,#00ff19,#00ff16,#00ff12,#00ff0f,#00ff0c,#00ff09,#00ff06,#00ff04,#00ff02,#00ff01,#00ff00)"></i><i style="height:3px;background:linear-gradient(90deg,#00e9ff,#00edff,#00f1ff,#00f4ff,#00f8ff,#00fcff,#00ffff,#00fffb,#00fff7,#00fff2,#00ffed,#00ffe5,#00ffdb,#00ffd2,#00ffc9,#00ffc0,#00ffb7,#00ffae,#00ffa5,#00ff9c,#00ff94,#00ff8c,#00ff84,#00ff7c,#00ff74,#00ff6c,#00ff64,#00ff5c,#00ff54,#00ff4c,#00ff44,#00ff3d,#00ff36,#00ff30,#00ff2a,#00ff25,#00ff21,#00ff1d,#00ff19,#00ff16,#00ff12,#00ff0f,#00ff0c,#00ff09,#00ff06,#00ff04,#00ff02,#00ff01,#00ff00)"></i><i style="height:3px;background:linear-gradient(90deg,#00e4ff,#00e8ff,#00ecff,#00f0ff,#00f4ff,#00f8ff,#00fcff,#00ffff,#00fffa,#00fff5,#00fff0,#00ffe8,#00ffde,#00ffd4,#00ffcb,#00ffc2,#00ffb9,#00ffb0,#00ffa7,#00ff9e,#00ff95,#00ff8d,#00ff85,#00ff7d,#00ff75,#00ff6d,#00ff65,#00ff5c,#00ff54,#00ff4c,#00ff45,#00ff3e,#00ff37,#00ff30,#00ff2b,#00ff26,#00ff21,#00ff1d,#00ff1a,#00ff16,#00ff12,#00ff0f,#00ff0c,#00ff09,#00ff06,#00ff04,#00ff02,#00ff01,#00ff00)"></i><i style="height:3px;background:linear-gradient(90deg,#00e0ff,#00e4ff,#00e8ff,#00ecff,#00f0ff,#00f4ff,#00f8ff,#00fcff,#00fffe,#00fff8,#00fff3,#00ffeb,#00ffe1,#00ffd7,#00ffcd,#00ffc4,#00ffbb,#00ffb1,#00ffa8,#00ff9f,#00ff97,#00ff8e,#00ff86,#00ff7e,#00ff75,#00ff6d,#00ff65,#00ff5d,#00ff55,#00ff4d,#00ff45,#00ff3e,#00ff37,#00ff31,#00ff2b,#00ff26,#00ff21,#00ff1d,#00ff1a,#00ff16,#00ff12,#00ff0f,#00ff0c,#00ff09,#00ff06,#00ff04,#00ff02,#00ff01,#00ff00)"></i><i style="height:3px;background:linear-gradient(90deg,#00dbff,#00dfff,#00e4ff,#00e7ff,#00ecff,#00f0ff,#00f4ff,#00f8ff,#00fdff,#00fffc,#00fff6,#00ffee,#00ffe3,#00ffd9,#00ffd0,#00ffc6,#00ffbc,#00ffb3,#00ffaa,#00ffa1,#00ff98,#00ff8f,#00ff87,#00ff7e,#00ff76,#00ff6e,#00ff66,#00ff5d,#00ff55,#00ff4d,#00ff45,#00ff3e,#00ff37,#00ff31,#00ff2b,#00ff26,#00ff22,#00ff1e,#00ff1a,#00ff16,#00ff12,#00ff0f,#00ff0c,#00ff09,#00ff06,#00ff04,#00ff02,#00ff01,#00ff00)"></i><i style="height:3px;background:linear-gradient(90deg,#00d7ff,#00dbff,#00dfff,#00e3ff,#00e8ff,#00ecff,#00f0ff,#00f4ff,#00f9ff,#00ffff,#00fff9,#00fff0,#00ffe6,#00ffdc,#00ffd2,#00ffc8,#00ffbe,#00ffb5,#00ffab,#00ffa2,#00ff99,#00ff90,#00ff88,#00ff7f,#00ff77,#00ff6f,#00ff66,#00ff5e,#00ff56,#00ff4e,#00ff46,#00ff3e,#00ff37,#00ff31,#00ff2b,#00ff26,#00ff22,#00ff1e,#00ff1a,#00ff16,#00ff12,#00ff0f,#00ff0c,#00ff09,#00ff06,#00ff04,#00ff02,#00ff01,#00ff00)"></i><i style="height:2px;background:linear-gradient(90deg,#00d3ff,#00d7ff,#00dcff,#00e0ff,#00e4ff,#00e9ff,#00edff,#00f1ff,#00f6ff,#00fdff,#00fffb,#00fff3,#00ffe8,#00ffdd,#00ffd3,#00ffc9,#00ffc0,#00ffb6,#00ffad,#00ffa3,#00ff9a,#00ff91,#00ff88,#00ff80,#00ff78,#00ff6f,#00ff67,#00ff5e,#00ff56,#00ff4e,#00ff46,#00ff3e,#00ff37,#00ff31,#00ff2b,#00ff26,#00ff22,#00ff1e,#00ff1a,#00ff16,#00ff12,#00ff0f,#00ff0c,#00ff09,#00ff06,#00ff04,#00ff02,#00ff01,#00ff00)"></i><i style="height:2px;background:linear-gradient(90deg,#00d0ff,#00d4ff,#00d9ff,#00ddff,#00e2ff,#00e6ff,#00ebff,#00efff,#00f4ff,#00faff,#00fffd,#00fff4,#00ffe9,#00ffdf,#00ffd5,#00ffcb,#00ffc1,#00ffb7,#00ffad,#00ffa4,#00ff9b,#00ff92,#00ff89,#00ff80,#00ff78,#00ff70,#00ff67,#00ff5f,#00ff56,#00ff4e,#00ff46,#00ff3f,#00ff38,#00ff31,#00ff2b,#00ff26,#00ff22,#00ff1e,#00ff1a,#00ff16,#00ff12,#00ff0f,#00ff0c,#00ff09,#00ff06,#00ff04,#00ff02,#00ff01,#00ff00)"></i><i style="height:2px;background:linear-gradient(90deg,#00cdff,#00d1ff,#00d6ff,#00daff,#00dfff,#00e4ff,#00e8ff,#00edff,#00f2ff,#00f8ff,#00ffff,#00fff6,#00ffeb,#00ffe0,#00ffd6,#00ffcc,#00ffc2,#00ffb8,#00ffae,#00ffa5,#00ff9c,#00ff92,#00ff8a,#00ff81,#00ff78,#00ff70,#00ff67,#00ff5f,#00ff56,#00ff4e,#00ff46,#00ff3f,#00ff38,#00ff31,#00ff2b,#00ff26,#00ff22,#00ff1e,#00ff1a,#00ff16,#00ff12,#00ff0f,#00ff0c,#00ff09,#00ff06,#00ff04,#00ff02,#00ff01,#00ff00)"></i><i style="height:2px;background:linear-gradient(90deg,#00caff,#00cfff,#00d3ff,#00d8ff,#00dcff,#00e1ff,#00e6ff,#00eaff,#00f0ff,#00f6ff,#00fdff,#00fff8,#00ffec,#00ffe2,#00ffd7,#00ffcd,#00ffc3,#00ffb9,#00ffaf,#00ffa6,#00ff9c,#00ff93,#00ff8a,#00ff81,#00ff79,#00ff70,#00ff68,#00ff5f,#00ff57,#00ff4e,#00ff46,#00ff3f,#00ff38,#00ff31,#00ff2b,#00ff26,#00ff22,#00ff1e,#00ff1a,#00ff16,#00ff12,#00ff0f,#00ff0c,#00ff09,#00ff06,#00ff04,#00ff02,#00ff01,#00ff00)"></i><i style="height:2px;background:linear-gradient(90deg,#00c7ff,#00ccff,#00d0ff,#00d5ff,#00daff,#00dfff,#00e3ff,#00e8ff,#00eeff,#00f4ff,#00fbff,#00fffa,#00ffee,#00ffe3,#00ffd9,#00ffce,#00ffc4,#00ffba,#00ffb0,#00ffa6,#00ff9d,#00ff94,#00ff8b,#00ff82,#00ff79,#00ff71,#00ff68,#00ff5f,#00ff57,#00ff4e,#00ff46,#00ff3f,#00ff38,#00ff31,#00ff2b,#00ff26,#00ff22,#00ff1e,#00ff1a,#00ff16,#00ff12,#00ff0f,#00ff0c,#00ff09,#00ff06,#00ff04,#00ff02,#00ff01,#00ff00)"></i><i style="height:2px;background:linear-gradient(90deg,#00c4ff,#00c9ff,#00cdff,#00d2ff,#00d7ff,#00dcff,#00e1ff,#00e6ff,#00ecff,#00f2ff,#00f9ff,#00fffb,#00ffef,#00ffe5,#00ffda,#00ffcf,#00ffc5,#00ffbb,#00ffb1,#00ffa7,#00ff9d,#00ff94,#00ff8b,#00ff82,#00ff79,#00ff71,#00ff68,#00ff5f,#00ff57,#00ff4e,#00ff46,#00ff3f,#00ff38,#00ff31,#00ff2b,#00ff26,#00ff22,#00ff1e,#00ff1a,#00ff16,#00ff12,#00ff0f,#00ff0c,#00ff09,#00ff06,#00ff04,#00ff02,#00ff01,#00ff00)"></i><i style="height:2px;background:linear-gradient(90deg,#00c1ff,#00c6ff,#00cbff,#00cfff,#00d4ff,#00daff,#00dfff,#00e4ff,#00e9ff,#00f0ff,#00f8ff,#00fffd,#00fff1,#00ffe6,#00ffdb,#00ffd0,#00ffc6,#00ffbc,#00ffb1,#00ffa8,#00ff9e,#00ff95,#00ff8b,#00ff82,#00ff7a,#00ff71,#00ff68,#00ff60,#00ff57,#00ff4f,#00ff46,#00ff3f,#00ff38,#00ff31,#00ff2b,#00ff26,#00ff22,#00ff1e,#00ff1a,#00ff16,#00ff12,#00ff0f,#00ff0c,#00ff09,#00ff06,#00ff04,#00ff02,#00ff01,#00ff00)"></i><i style="height:2px;background:linear-gradient(90deg,#00beff,#00c3ff,#00c8ff,#00cdff,#00d2ff,#00d7ff,#00dcff,#00e1ff,#00e7ff,#00efff,#00f6ff,#00fffe,#00fff2,#00ffe7,#00ffdc,#00ffd1,#00ffc7,#00ffbc,#00ffb2,#00ffa8,#00ff9e,#00ff95,#00ff8c,#00ff83,#00ff7a,#00ff71,#00ff68,#00ff60,#00ff57,#00ff4f,#00ff46,#00ff3f,#00ff38,#00ff31,#00ff2b,#00ff26,#00ff22,#00ff1e,#00ff1a,#00ff16,#00ff12,#00ff0f,#00ff0c,#00ff09,#00ff06,#00ff04,#00ff02,#00ff01,#00ff00)"></i><i style="height:2px;background:linear-gradient(90deg,#00bbff,#00c0ff,#00c5ff,#00caff,#00cfff,#00d5ff,#00daff,#00dfff,#00e5ff,#00edff,#00f4ff,#00feff,#00fff4,#00ffe8,#00ffdd,#00ffd2,#00ffc8,#00ffbd,#00ffb3,#00ffa9,#00ff9f,#00ff95,#00ff8c,#00ff83,#00ff7a,#00ff71,#00ff69,#00ff60,#00ff57,#00ff4f,#00ff47,#00ff3f,#00ff38,#00ff31,#00ff2b,#00ff26,#00ff22,#00ff1e,#00ff1a,#00ff16,#00ff12,#00ff0f,#00ff0c,#00ff09,#00ff06,#00ff04,#00ff02,#00ff01,#00ff00)"></i><i style="height:2px;background:linear-gradient(90deg,#00b8ff,#00bdff,#00c2ff,#00c7ff,#00cdff,#00d2ff,#00d7ff,#00ddff,#00e3ff,#00ebff,#00f2ff,#00fdff,#00fff5,#00ffe9,#00ffde,#00ffd3,#00ffc8,#00ffbe,#00ffb3,#00ffa9,#00ff9f,#00ff96,#00ff8c,#00ff83,#00ff7a,#00ff72,#00ff69,#00ff60,#00ff57,#00ff4f,#00ff46,#00ff3f,#00ff38,#00ff31,#00ff2b,#00ff26,#00ff22,#00ff1e,#00ff1a,#00ff16,#00ff12,#00ff0f,#00ff0c,#00ff09,#00ff06,#00ff04,#00ff02,#00ff01,#00ff00)"></i><i style="height:2px;background:linear-gradient(90deg,#00b5ff,#00baff,#00bfff,#00c4ff,#00caff,#00d0ff,#00d5ff,#00dbff,#00e1ff,#00e9ff,#00f1ff,#00fbff,#00fff6,#00ffeb,#00ffdf,#00ffd4,#00ffc9,#00ffbe,#00ffb4,#00ffaa,#00ffa0,#00ff96,#00ff8d,#00ff84,#00ff7b,#00ff72,#00ff69,#00ff60,#00ff57,#00ff4f,#00ff46,#00ff3f,#00ff38,#00ff31,#00ff2b,#00ff26,#00ff21,#00ff1d,#00ff1a,#00ff16,#00ff12,#00ff0f,#00ff0c,#00ff09,#00ff06,#00ff04,#00ff02,#00ff01,#00ff00)"></i><i style="height:2px;background:linear-gradient(90deg,#00b2ff,#00b7ff,#00bcff,#00c2ff,#00c7ff,#00cdff,#00d3ff,#00d9ff,#00dfff,#00e7ff,#00efff,#00faff,#00fff7,#00ffec,#00ffe0,#00ffd5,#00ffca,#00ffbf,#00ffb5,#00ffaa,#00ffa0,#00ff96,#00ff8d,#00ff84,#00ff7b,#00ff72,#00ff69,#00ff60,#00ff57,#00ff4f,#00ff46,#00ff3f,#00ff38,#00ff31,#00ff2b,#00ff26,#00ff21,#00ff1d,#00ff19,#00ff16,#00ff12,#00ff0f,#00ff0c,#00ff09,#00ff06,#00ff04,#00ff02,#00ff01,#00ff00)"></i><i style="height:2px;background:linear-gradient(90deg,#00afff,#00b4ff,#00baff,#00bfff,#00c5ff,#00cbff,#00d1ff,#00d6ff,#00ddff,#00e5ff,#00eeff,#00f8ff,#00fff9,#00ffed,#00ffe1,#00ffd6,#00ffcb,#00ffc0,#00ffb5,#00ffab,#00ffa1,#00ff97,#00ff8d,#00ff84,#00ff7b,#00ff72,#00ff69,#00ff60,#00ff57,#00ff4f,#00ff46,#00ff3f,#00ff37,#00ff31,#00ff2b,#00ff26,#00ff21,#00ff1d,#00ff19,#00ff16,#00ff12,#00ff0f,#00ff0c,#00ff09,#00ff06,#00ff04,#00ff02,#00ff01,#00ff00)"></i><i style="height:2px;background:linear-gradient(90deg,#00acff,#00b1ff,#00b7ff,#00bcff,#00c2ff,#00c9ff,#00ceff,#00d4ff,#00dbff,#00e4ff,#00ecff,#00f7ff,#00fffa,#00ffee,#00ffe2,#00ffd7,#00ffcb,#00ffc0,#00ffb5,#00ffab,#00ffa1,#00ff97,#00ff8d,#00ff84,#00ff7b,#00ff72,#00ff69,#00ff60,#00ff57,#00ff4e,#00ff46,#00ff3f,#00ff37,#00ff31,#00ff2b,#00ff26,#00ff21,#00ff1d,#00ff19,#00ff16,#00ff12,#00ff0f,#00ff0c,#00ff09,#00ff06,#00ff04,#00ff02,#00ff01,#00ff00)"></i><i style="height:2px;background:linear-gradient(90deg,#00a9ff,#00aeff,#00b4ff,#00baff,#00c0ff,#00c6ff,#00ccff,#00d2ff,#00daff,#00e2ff,#00ebff,#00f6ff,#00fffb,#00ffef,#00ffe3,#00ffd7,#00ffcc,#00ffc1,#00ffb6,#00ffab,#00ffa1,#00ff97,#00ff8d,#00ff84,#00ff7b,#00ff72,#00ff69,#00ff60,#00ff57,#00ff4e,#00ff46,#00ff3e,#00ff37,#00ff31,#00ff2b,#00ff26,#00ff21,#00ff1d,#00ff19,#00ff16,#00ff12,#00ff0f,#00ff0c,#00ff09,#00ff06,#00ff04,#00ff02,#00ff01,#00ff00)"></i><i style="height:2px;background:linear-gradient(90deg,#00a6ff,#00acff,#00b1ff,#00b7ff,#00bdff,#00c4ff,#00caff,#00d0ff,#00d8ff,#00e0ff,#00e9ff,#00f4ff,#00fffc,#00fff0,#00ffe4,#00ffd8,#00ffcc,#00ffc1,#00ffb6,#00ffac,#00ffa1,#00ff97,#00ff8e,#00ff84,#00ff7b,#00ff72,#00ff69,#00ff60,#00ff57,#00ff4e,#00ff46,#00ff3e,#00ff37,#00ff31,#00ff2b,#00ff25,#00ff21,#00ff1d,#00ff19,#00ff15,#00ff12,#00ff0f,#00ff0b,#00ff09,#00ff06,#00ff04,#00ff02,#00ff01,#00ff00)"></i><i style="height:2px;background:linear-gradient(90deg,#00a3ff,#00a9ff,#00afff,#00b4ff,#00bbff,#00c1ff,#00c8ff,#00ceff,#00d6ff,#00dfff,#00e8ff,#00f3ff,#00fffd,#00fff1,#00ffe4,#00ffd9,#00ffcd,#00ffc2,#00ffb7,#00ffac,#00ffa1,#00ff97,#00ff8e,#00ff84,#00ff7b,#00ff72,#00ff69,#00ff60,#00ff57,#00ff4e,#00ff46,#00ff3e,#00ff37,#00ff30,#00ff2a,#00ff25,#00ff21,#00ff1d,#00ff19,#00ff15,#00ff12,#00ff0f,#00ff0b,#00ff09,#00ff06,#00ff04,#00ff02,#00ff01,#00ff00)"></i><i style="height:2px;background:linear-gradient(90deg,#00a0ff,#00a6ff,#00acff,#00b2ff,#00b8ff,#00bfff,#00c6ff,#00ccff,#00d4ff,#00ddff,#00e6ff,#00f2ff,#00fffe,#00fff1,#00ffe5,#00ffd9,#00ffcd,#00ffc2,#00ffb7,#00ffac,#00ffa2,#00ff97,#00ff8e,#00ff84,#00ff7b,#00ff72,#00ff69,#00ff5f,#00ff57,#00ff4e,#00ff46,#00ff3e,#00ff37,#00ff30,#00ff2a,#00ff25,#00ff21,#00ff1d,#00ff19,#00ff15,#00ff12,#00ff0e,#00ff0b,#00ff09,#00ff06,#00ff04,#00ff02,#00ff01,#00ff00)"></i><i style="height:2px;background:linear-gradient(90deg,#009dff,#00a3ff,#00a9ff,#00afff,#00b6ff,#00bdff,#00c3ff,#00caff,#00d2ff,#00dcff,#00e5ff,#00f1ff,#00ffff,#00fff2,#00ffe6,#00ffda,#00ffce,#00ffc2,#00ffb7,#00ffac,#00ffa2,#00ff97,#00ff8e,#00ff84,#00ff7b,#00ff72,#00ff68,#00ff5f,#00ff56,#00ff4e,#00ff46,#00ff3e,#00ff37,#00ff30,#00ff2a,#00ff25,#00ff21,#00ff1d,#00ff19,#00ff15,#00ff12,#00ff0e,#00ff0b,#00ff09,#00ff06,#00ff04,#00ff02,#00ff01,#00ff00)"></i><i style="height:2px;background:linear-gradient(90deg,#009aff,#00a0ff,#00a6ff,#00adff,#00b3ff,#00bbff,#00c1ff,#00c8ff,#00d1ff,#00daff,#00e4ff,#00f0ff,#00feff,#00fff3,#00ffe6,#00ffda,#00ffce,#00ffc3,#00ffb7,#00ffac,#00ffa2,#00ff97,#00ff8e,#00ff84,#00ff7b,#00ff71,#00ff68,#00ff5f,#00ff56,#00ff4e,#00ff45,#00ff3e,#00ff36,#00ff30,#00ff2a,#00ff25,#00ff21,#00ff1d,#00ff19,#00ff15,#00ff12,#00ff0e,#00ff0b,#00ff09,#00ff06,#00ff04,#00ff02,#00ff01,#00ff00)"></i><i style="height:2px;background:linear-gradient(90deg,#0097ff,#009dff,#00a4ff,#00aaff,#00b1ff,#00b8ff,#00bfff,#00c7ff,#00cfff,#00d9ff,#00e2ff,#00efff,#00fdff,#00fff4,#00ffe7,#00ffdb,#00ffce,#00ffc3,#00ffb7,#00ffac,#00ffa2,#00ff97,#00ff8d,#00ff84,#00ff7a,#00ff71,#00ff68,#00ff5f,#00ff56,#00ff4d,#00ff45,#00ff3d,#00ff36,#00ff30,#00ff2a,#00ff25,#00ff20,#00ff1c,#00ff19,#00ff15,#00ff12,#00ff0e,#00ff0b,#00ff08,#00ff06,#00ff04,#00ff02,#00ff01,#00ff00)"></i><i style="height:2px;background:linear-gradient(90deg,#0094ff,#009aff,#00a1ff,#00a7ff,#00aeff,#00b6ff,#00bdff,#00c5ff,#00cdff,#00d7ff,#00e1ff,#00eeff,#00fdff,#00fff4,#00ffe7,#00ffdb,#00ffcf,#00ffc3,#00ffb7,#00ffac,#00ffa2,#00ff97,#00ff8d,#00ff84,#00ff7a,#00ff71,#00ff68,#00ff5f,#00ff56,#00ff4d,#00ff45,#00ff3d,#00ff36,#00ff2f,#00ff2a,#00ff25,#00ff20,#00ff1c,#00ff19,#00ff15,#00ff11,#00ff0e,#00ff0b,#00ff08,#00ff06,#00ff04,#00ff02,#00ff01,#00ff00)"></i><i style="height:2px;background:linear-gradient(90deg,#0091ff,#0097ff,#009eff,#00a5ff,#00acff,#00b4ff,#00bbff,#00c3ff,#00ccff,#00d6ff,#00e0ff,#00edff,#00fcff,#00fff5,#00ffe8,#00ffdb,#00ffcf,#00ffc3,#00ffb8,#00ffac,#00ffa2,#00ff97,#00ff8d,#00ff83,#00ff7a,#00ff71,#00ff67,#00ff5e,#00ff55,#00ff4d,#00ff45,#00ff3d,#00ff36,#00ff2f,#00ff29,#00ff24,#00ff20,#00ff1c,#00ff18,#00ff15,#00ff11,#00ff0e,#00ff0b,#00ff08,#00ff06,#00ff04,#00ff02,#00ff01,#00ff00)"></i><i style="height:2px;background:linear-gradient(90deg,#008eff,#0095ff,#009bff,#00a2ff,#00aaff,#00b2ff,#00b9ff,#00c1ff,#00caff,#00d4ff,#00dfff,#00ecff,#00fbff,#00fff5,#00ffe8,#00ffdc,#00ffcf,#00ffc3,#00ffb8,#00ffac,#00ffa1,#00ff97,#00ff8d,#00ff83,#00ff7a,#00ff70,#00ff67,#00ff5e,#00ff55,#00ff4c,#00ff44,#00ff3d,#00ff35,#00ff2f,#00ff29,#00ff24,#00ff20,#00ff1c,#00ff18,#00ff15,#00ff11,#00ff0e,#00ff0b,#00ff08,#00ff06,#00ff04,#00ff02,#00ff01,#00ff00)"></i><i style="height:2px;background:linear-gradient(90deg,#008bff,#0092ff,#0099ff,#00a0ff,#00a7ff,#00afff,#00b7ff,#00bfff,#00c9ff,#00d3ff,#00deff,#00ebff,#00fbff,#00fff6,#00ffe9,#00ffdc,#00ffcf,#00ffc3,#00ffb7,#00ffac,#00ffa1,#00ff97,#00ff8d,#00ff83,#00ff79,#00ff70,#00ff67,#00ff5e,#00ff55,#00ff4c,#00ff44,#00ff3c,#00ff35,#00ff2f,#00ff29,#00ff24,#00ff20,#00ff1c,#00ff18,#00ff14,#00ff11,#00ff0e,#00ff0b,#00ff08,#00ff06,#00ff04,#00ff02,#00ff01,#00ff00)"></i><i style="height:2px;background:linear-gradient(90deg,#0088ff,#008fff,#0096ff,#009dff,#00a5ff,#00adff,#00b5ff,#00beff,#00c7ff,#00d2ff,#00ddff,#00ebff,#00faff,#00fff6,#00ffe9,#00ffdc,#00ffcf,#00ffc3,#00ffb7,#00ffac,#00ffa1,#00ff96,#00ff8c,#00ff83,#00ff79,#00ff70,#00ff66,#00ff5d,#00ff54,#00ff4c,#00ff44,#00ff3c,#00ff35,#00ff2e,#00ff29,#00ff24,#00ff1f,#00ff1c,#00ff18,#00ff14,#00ff11,#00ff0e,#00ff0b,#00ff08,#00ff06,#00ff04,#00ff02,#00ff01,#00ff00)"></i><i style="height:2px;background:linear-gradient(90deg,#0085ff,#008cff,#0093ff,#009bff,#00a3ff,#00abff,#00b3ff,#00bcff,#00c6ff,#00d1ff,#00dcff,#00eaff,#00faff,#00fff6,#00ffe9,#00ffdc,#00ffcf,#00ffc3,#00ffb7,#00ffac,#00ffa1,#00ff96,#00ff8c,#00ff82,#00ff79,#00ff6f,#00ff66,#00ff5d,#00ff54,#00ff4b,#00ff43,#00ff3c,#00ff35,#00ff2e,#00ff28,#00ff23,#00ff1f,#00ff1b,#00ff18,#00ff14,#00ff11,#00ff0e,#00ff0b,#00ff08,#00ff06,#00ff04,#00ff02,#00ff01,#00ff00)"></i><i style="height:2px;background:linear-gradient(90deg,#0082ff,#0089ff,#0091ff,#0098ff,#00a0ff,#00a9ff,#00b1ff,#00baff,#00c4ff,#00d0ff,#00dbff,#00e9ff,#00f9ff,#00fff7,#00ffe9,#00ffdc,#00ffcf,#00ffc3,#00ffb7,#00ffab,#00ffa0,#00ff96,#00ff8c,#00ff82,#00ff78,#00ff6f,#00ff66,#00ff5c,#00ff54,#00ff4b,#00ff43,#00ff3b,#00ff34,#00ff2e,#00ff28,#00ff23,#00ff1f,#00ff1b,#00ff18,#00ff14,#00ff11,#00ff0e,#00ff0b,#00ff08,#00ff06,#00ff04,#00ff02,#00ff01,#00ff00)"></i><i style="height:2px;background:linear-gradient(90deg,#007fff,#0086ff,#008eff,#0096ff,#009eff,#00a7ff,#00b0ff,#00b9ff,#00c3ff,#00cfff,#00dbff,#00e9ff,#00f9ff,#00fff7,#00ffe9,#00ffdc,#00ffcf,#00ffc3,#00ffb7,#00ffab,#00ffa0,#00ff95,#00ff8b,#00ff81,#00ff78,#00ff6e,#00ff65,#00ff5c,#00ff53,#00ff4b,#00ff43,#00ff3b,#00ff34,#00ff2e,#00ff28,#00ff23,#00ff1f,#00ff1b,#00ff17,#00ff14,#00ff11,#00ff0d,#00ff0b,#00ff08,#00ff06,#00ff04,#00ff02,#00ff01,#00ff00)"></i><i style="height:2px;background:linear-gradient(90deg,#007cff,#0084ff,#008bff,#0093ff,#009cff,#00a5ff,#00aeff,#00b7ff,#00c2ff,#00ceff,#00daff,#00e8ff,#00f9ff,#00fff7,#00ffe9,#00ffdc,#00ffcf,#00ffc2,#00ffb6,#00ffab,#00ffa0,#00ff95,#00ff8b,#00ff81,#00ff77,#00ff6e,#00ff65,#00ff5c,#00ff53,#00ff4a,#00ff42,#00ff3b,#00ff34,#00ff2d,#00ff28,#00ff23,#00ff1f,#00ff1b,#00ff17,#00ff14,#00ff10,#00ff0d,#00ff0b,#00ff08,#00ff06,#00ff04,#00ff02,#00ff01,#00ff00)"></i><i style="height:2px;background:linear-gradient(90deg,#0079ff,#0081ff,#0089ff,#0091ff,#009aff,#00a3ff,#00acff,#00b6ff,#00c1ff,#00cdff,#00d9ff,#00e8ff,#00f8ff,#00fff7,#00ffe9,#00ffdc,#00ffcf,#00ffc2,#00ffb6,#00ffaa,#00ff9f,#00ff94,#00ff8a,#00ff80,#00ff77,#00ff6d,#00ff64,#00ff5b,#00ff52,#00ff4a,#00ff42,#00ff3a,#00ff33,#00ff2d,#00ff27,#00ff22,#00ff1e,#00ff1b,#00ff17,#00ff14,#00ff10,#00ff0d,#00ff0a,#00ff08,#00ff06,#00ff04,#00ff02,#00ff01,#00ff00)"></i><i style="height:2px;background:linear-gradient(90deg,#0076ff,#007eff,#0086ff,#008eff,#0097ff,#00a1ff,#00aaff,#00b4ff,#00c0ff,#00ccff,#00d9ff,#00e8ff,#00f8ff,#00fff7,#00ffe9,#00ffdb,#00ffce,#00ffc2,#00ffb5,#00ffaa,#00ff9f,#00ff94,#00ff89,#00ff80,#00ff76,#00ff6d,#00ff64,#00ff5a,#00ff52,#00ff49,#00ff41,#00ff3a,#00ff33,#00ff2d,#00ff27,#00ff22,#00ff1e,#00ff1a,#00ff17,#00ff13,#00ff10,#00ff0d,#00ff0a,#00ff08,#00ff06,#00ff04,#00ff02,#00ff01,#00ff00)"></i><i style="height:2px;background:linear-gradient(90deg,#0073ff,#007bff,#0084ff,#008cff,#0095ff,#009fff,#00a9ff,#00b3ff,#00beff,#00cbff,#00d8ff,#00e7ff,#00f8ff,#00fff7,#00ffe9,#00ffdb,#00ffce,#00ffc1,#00ffb5,#00ffa9,#00ff9e,#00ff93,#00ff89,#00ff7f,#00ff75,#00ff6c,#00ff63,#00ff5a,#00ff51,#00ff49,#00ff41,#00ff39,#00ff32,#00ff2c,#00ff27,#00ff22,#00ff1e,#00ff1a,#00ff17,#00ff13,#00ff10,#00ff0d,#00ff0a,#00ff08,#00ff05,#00ff04,#00ff02,#00ff01,#00ff00)"></i><i style="height:2px;background:linear-gradient(90deg,#0070ff,#0079ff,#0081ff,#008aff,#0093ff,#009dff,#00a7ff,#00b2ff,#00bdff,#00caff,#00d8ff,#00e7ff,#00f8ff,#00fff7,#00ffe8,#00ffdb,#00ffcd,#00ffc1,#00ffb4,#00ffa9,#00ff9d,#00ff93,#00ff88,#00ff7e,#00ff75,#00ff6c,#00ff62,#00ff59,#00ff51,#00ff48,#00ff40,#00ff39,#00ff32,#00ff2c,#00ff26,#00ff22,#00ff1e,#00ff1a,#00ff16,#00ff13,#00ff10,#00ff0d,#00ff0a,#00ff08,#00ff05,#00ff04,#00ff02,#00ff01,#00ff00)"></i><i style="height:2px;background:linear-gradient(90deg,#006dff,#0076ff,#007fff,#0087ff,#0091ff,#009bff,#00a6ff,#00b0ff,#00bcff,#00caff,#00d7ff,#00e7ff,#00f8ff,#00fff7,#00ffe8,#00ffda,#00ffcd,#00ffc0,#00ffb4,#00ffa8,#00ff9d,#00ff92,#00ff87,#00ff7e,#00ff74,#00ff6b,#00ff62,#00ff59,#00ff50,#00ff48,#00ff40,#00ff38,#00ff32,#00ff2b,#00ff26,#00ff21,#00ff1d,#00ff1a,#00ff16,#00ff13,#00ff10,#00ff0d,#00ff0a,#00ff08,#00ff05,#00ff03,#00ff02,#00ff01,#00ff00)"></i><i style="height:2px;background:linear-gradient(90deg,#006aff,#0073ff,#007cff,#0085ff,#008fff,#009aff,#00a4ff,#00afff,#00bcff,#00c9ff,#00d7ff,#00e7ff,#00f9ff,#00fff6,#00ffe8,#00ffda,#00ffcc,#00ffbf,#00ffb3,#00ffa7,#00ff9c,#00ff91,#00ff87,#00ff7d,#00ff73,#00ff6a,#00ff61,#00ff58,#00ff4f,#00ff47,#00ff3f,#00ff38,#00ff31,#00ff2b,#00ff26,#00ff21,#00ff1d,#00ff19,#00ff16,#00ff13,#00ff10,#00ff0d,#00ff0a,#00ff07,#00ff05,#00ff03,#00ff02,#00ff01,#00ff00)"></i><i style="height:2px;background:linear-gradient(90deg,#0068ff,#0070ff,#007aff,#0083ff,#008dff,#0098ff,#00a3ff,#00aeff,#00bbff,#00c9ff,#00d7ff,#00e7ff,#00f9ff,#00fff6,#00ffe7,#00ffd9,#00ffcc,#00ffbf,#00ffb2,#00ffa6,#00ff9b,#00ff90,#00ff86,#00ff7c,#00ff73,#00ff69,#00ff60,#00ff57,#00ff4f,#00ff46,#00ff3f,#00ff37,#00ff31,#00ff2b,#00ff25,#00ff21,#00ff1d,#00ff19,#00ff16,#00ff12,#00ff0f,#00ff0c,#00ff0a,#00ff07,#00ff05,#00ff03,#00ff02,#00ff01,#00ff00)"></i><i style="height:2px;background:linear-gradient(90deg,#0065ff,#006eff,#0077ff,#0081ff,#008bff,#0096ff,#00a1ff,#00adff,#00baff,#00c8ff,#00d7ff,#00e7ff,#00f9ff,#00fff5,#00ffe7,#00ffd8,#00ffcb,#00ffbe,#00ffb1,#00ffa5,#00ff9a,#00ff8f,#00ff85,#00ff7b,#00ff72,#00ff69,#00ff5f,#00ff57,#00ff4e,#00ff46,#00ff3e,#00ff37,#00ff30,#00ff2a,#00ff25,#00ff20,#00ff1c,#00ff19,#00ff16,#00ff12,#00ff0f,#00ff0c,#00ff0a,#00ff07,#00ff05,#00ff03,#00ff02,#00ff01,#00ff00)"></i><i style="height:2px;background:linear-gradient(90deg,#0062ff,#006bff,#0075ff,#007eff,#0089ff,#0094ff,#00a0ff,#00acff,#00b9ff,#00c8ff,#00d7ff,#00e8ff,#00faff,#00fff5,#00ffe6,#00ffd8,#00ffca,#00ffbd,#00ffb0,#00ffa5,#00ff99,#00ff8e,#00ff84,#00ff7a,#00ff71,#00ff68,#00ff5f,#00ff56,#00ff4d,#00ff45,#00ff3d,#00ff36,#00ff30,#00ff2a,#00ff25,#00ff20,#00ff1c,#00ff19,#00ff15,#00ff12,#00ff0f,#00ff0c,#00ff0a,#00ff07,#00ff05,#00ff03,#00ff02,#00ff01,#00ff00)"></i><i style="height:2px;background:linear-gradient(90deg,#005fff,#0068ff,#0072ff,#007cff,#0087ff,#0093ff,#009fff,#00abff,#00b9ff,#00c8ff,#00d7ff,#00e8ff,#00faff,#00fff4,#00ffe5,#00ffd7,#00ffc9,#00ffbc,#00ffaf,#00ffa4,#00ff98,#00ff8d,#00ff83,#00ff79,#00ff70,#00ff67,#00ff5e,#00ff55,#00ff4c,#00ff44,#00ff3d,#00ff36,#00ff2f,#00ff29,#00ff24,#00ff20,#00ff1c,#00ff18,#00ff15,#00ff12,#00ff0f,#00ff0c,#00ff09,#00ff07,#00ff05,#00ff03,#00ff02,#00ff01,#00ff00)"></i><i style="height:2px;background:linear-gradient(90deg,#005cff,#0066ff,#0070ff,#007aff,#0085ff,#0091ff,#009dff,#00aaff,#00b8ff,#00c8ff,#00d7ff,#00e9ff,#00fbff,#00fff3,#00ffe4,#00ffd6,#00ffc8,#00ffbb,#00ffae,#00ffa2,#00ff97,#00ff8c,#00ff82,#00ff78,#00ff6f,#00ff66,#00ff5d,#00ff54,#00ff4c,#00ff44,#00ff3c,#00ff35,#00ff2f,#00ff29,#00ff24,#00ff1f,#00ff1b,#00ff18,#00ff15,#00ff12,#00ff0f,#00ff0c,#00ff09,#00ff07,#00ff05,#00ff03,#00ff02,#00ff01,#00ff00)"></i><i style="height:2px;background:linear-gradient(90deg,#0059ff,#0063ff,#006dff,#0078ff,#0083ff,#0090ff,#009cff,#00a9ff,#00b8ff,#00c7ff,#00d7ff,#00e9ff,#00fcff,#00fff2,#00ffe3,#00ffd5,#00ffc7,#00ffba,#00ffad,#00ffa1,#00ff96,#00ff8b,#00ff81,#00ff77,#00ff6e,#00ff65,#00ff5c,#00ff53,#00ff4b,#00ff43,#00ff3b,#00ff35,#00ff2e,#00ff28,#00ff23,#00ff1f,#00ff1b,#00ff18,#00ff15,#00ff11,#00ff0f,#00ff0c,#00ff09,#00ff07,#00ff05,#00ff03,#00ff02,#00ff01,#00ff00)"></i><i style="height:2px;background:linear-gradient(90deg,#0056ff,#0060ff,#006bff,#0076ff,#0082ff,#008eff,#009bff,#00a9ff,#00b8ff,#00c7ff,#00d8ff,#00eaff,#00fcff,#00fff2,#00ffe2,#00ffd4,#00ffc6,#00ffb9,#00ffac,#00ffa0,#00ff95,#00ff8a,#00ff80,#00ff76,#00ff6d,#00ff64,#00ff5b,#00ff52,#00ff4a,#00ff42,#00ff3b,#00ff34,#00ff2e,#00ff28,#00ff23,#00ff1e,#00ff1b,#00ff17,#00ff14,#00ff11,#00ff0e,#00ff0c,#00ff09,#00ff07,#00ff05,#00ff03,#00ff02,#00ff01,#00ff00)"></i><i style="height:2px;background:linear-gradient(90deg,#0053ff,#005eff,#0069ff,#0074ff,#0080ff,#008dff,#009aff,#00a8ff,#00b7ff,#00c8ff,#00d8ff,#00eaff,#00fdff,#00fff0,#00ffe1,#00ffd2,#00ffc5,#00ffb7,#00ffab,#00ff9f,#00ff94,#00ff89,#00ff7f,#00ff75,#00ff6c,#00ff63,#00ff5a,#00ff52,#00ff49,#00ff41,#00ff3a,#00ff33,#00ff2d,#00ff27,#00ff22,#00ff1e,#00ff1a,#00ff17,#00ff14,#00ff11,#00ff0e,#00ff0b,#00ff09,#00ff07,#00ff05,#00ff03,#00ff02,#00ff01,#00ff00)"></i><i style="height:2px;background:linear-gradient(90deg,#0051ff,#005bff,#0066ff,#0072ff,#007eff,#008cff,#0099ff,#00a8ff,#00b7ff,#00c8ff,#00d9ff,#00ebff,#00feff,#00ffef,#00ffe0,#00ffd1,#00ffc3,#00ffb6,#00ffa9,#00ff9e,#00ff92,#00ff88,#00ff7d,#00ff74,#00ff6b,#00ff62,#00ff59,#00ff51,#00ff48,#00ff41,#00ff39,#00ff33,#00ff2c,#00ff27,#00ff22,#00ff1e,#00ff1a,#00ff17,#00ff14,#00ff11,#00ff0e,#00ff0b,#00ff09,#00ff07,#00ff05,#00ff03,#00ff02,#00ff01,#00ff00)"></i><i style="height:2px;background:linear-gradient(90deg,#004eff,#0059ff,#0064ff,#0070ff,#007dff,#008aff,#0098ff,#00a7ff,#00b7ff,#00c8ff,#00d9ff,#00ecff,#00fffe,#00ffee,#00ffdf,#00ffd0,#00ffc2,#00ffb5,#00ffa8,#00ff9c,#00ff91,#00ff86,#00ff7c,#00ff73,#00ff69,#00ff61,#00ff58,#00ff50,#00ff48,#00ff40,#00ff39,#00ff32,#00ff2c,#00ff26,#00ff21,#00ff1d,#00ff1a,#00ff16,#00ff13,#00ff10,#00ff0e,#00ff0b,#00ff09,#00ff07,#00ff05,#00ff03,#00ff02,#00ff01,#00ff00)"></i><i style="height:2px;background:linear-gradient(90deg,#004bff,#0056ff,#0062ff,#006eff,#007bff,#0089ff,#0098ff,#00a7ff,#00b7ff,#00c9ff,#00daff,#00edff,#00fffd,#00ffed,#00ffdd,#00ffce,#00ffc0,#00ffb3,#00ffa6,#00ff9b,#00ff8f,#00ff85,#00ff7b,#00ff71,#00ff68,#00ff60,#00ff57,#00ff4f,#00ff47,#00ff3f,#00ff38,#00ff31,#00ff2b,#00ff26,#00ff21,#00ff1d,#00ff19,#00ff16,#00ff13,#00ff10,#00ff0e,#00ff0b,#00ff09,#00ff06,#00ff05,#00ff03,#00ff02,#00ff01,#00ff00)"></i><i style="height:2px;background:linear-gradient(90deg,#0048ff,#0054ff,#0060ff,#006cff,#007aff,#0088ff,#0097ff,#00a7ff,#00b8ff,#00c9ff,#00dbff,#00efff,#00fffc,#00ffeb,#00ffdc,#00ffcd,#00ffbf,#00ffb1,#00ffa5,#00ff99,#00ff8e,#00ff83,#00ff79,#00ff70,#00ff67,#00ff5e,#00ff56,#00ff4e,#00ff46,#00ff3e,#00ff37,#00ff31,#00ff2b,#00ff25,#00ff20,#00ff1c,#00ff19,#00ff16,#00ff13,#00ff10,#00ff0d,#00ff0b,#00ff08,#00ff06,#00ff05,#00ff03,#00ff02,#00ff01,#00ff00)"></i><i style="height:2px;background:linear-gradient(90deg,#0045ff,#0051ff,#005dff,#006aff,#0078ff,#0087ff,#0096ff,#00a7ff,#00b8ff,#00caff,#00dcff,#00f0ff,#00fffa,#00ffea,#00ffda,#00ffcb,#00ffbd,#00ffb0,#00ffa3,#00ff97,#00ff8c,#00ff82,#00ff78,#00ff6f,#00ff66,#00ff5d,#00ff55,#00ff4c,#00ff45,#00ff3d,#00ff36,#00ff30,#00ff2a,#00ff25,#00ff20,#00ff1c,#00ff19,#00ff15,#00ff13,#00ff10,#00ff0d,#00ff0b,#00ff08,#00ff06,#00ff04,#00ff03,#00ff02,#00ff01,#00ff00)"></i><i style="height:2px;background:linear-gradient(90deg,#0043ff,#004fff,#005bff,#0068ff,#0077ff,#0086ff,#0096ff,#00a7ff,#00b8ff,#00cbff,#00deff,#00f2ff,#00fff9,#00ffe8,#00ffd8,#00ffc9,#00ffbb,#00ffae,#00ffa2,#00ff96,#00ff8b,#00ff80,#00ff76,#00ff6d,#00ff64,#00ff5c,#00ff53,#00ff4b,#00ff44,#00ff3c,#00ff35,#00ff2f,#00ff29,#00ff24,#00ff1f,#00ff1b,#00ff18,#00ff15,#00ff12,#00ff0f,#00ff0d,#00ff0a,#00ff08,#00ff06,#00ff04,#00ff03,#00ff02,#00ff01,#00ff00)"></i><i style="height:2px;background:linear-gradient(90deg,#0040ff,#004cff,#0059ff,#0067ff,#0076ff,#0085ff,#0096ff,#00a7ff,#00b9ff,#00ccff,#00dfff,#00f3ff,#00fff7,#00ffe6,#00ffd6,#00ffc7,#00ffb9,#00ffac,#00ffa0,#00ff94,#00ff89,#00ff7f,#00ff75,#00ff6c,#00ff63,#00ff5b,#00ff52,#00ff4a,#00ff43,#00ff3b,#00ff35,#00ff2e,#00ff29,#00ff23,#00ff1f,#00ff1b,#00ff18,#00ff15,#00ff12,#00ff0f,#00ff0d,#00ff0a,#00ff08,#00ff06,#00ff04,#00ff03,#00ff02,#00ff01,#00ff00)"></i><i style="height:2px;background:linear-gradient(90deg,#003dff,#004aff,#0057ff,#0065ff,#0074ff,#0085ff,#0095ff,#00a7ff,#00baff,#00cdff,#00e0ff,#00f5ff,#00fff5,#00ffe4,#00ffd4,#00ffc5,#00ffb7,#00ffaa,#00ff9e,#00ff92,#00ff87,#00ff7d,#00ff73,#00ff6a,#00ff62,#00ff59,#00ff51,#00ff49,#00ff42,#00ff3a,#00ff34,#00ff2e,#00ff28,#00ff23,#00ff1e,#00ff1b,#00ff17,#00ff14,#00ff12,#00ff0f,#00ff0c,#00ff0a,#00ff08,#00ff06,#00ff04,#00ff03,#00ff02,#00ff01,#00ff00)"></i><i style="height:2px;background:linear-gradient(90deg,#003aff,#0047ff,#0055ff,#0064ff,#0073ff,#0084ff,#0095ff,#00a7ff,#00bbff,#00ceff,#00e2ff,#00f7ff,#00fff3,#00ffe2,#00ffd2,#00ffc3,#00ffb5,#00ffa8,#00ff9c,#00ff90,#00ff85,#00ff7b,#00ff72,#00ff69,#00ff60,#00ff58,#00ff50,#00ff48,#00ff40,#00ff39,#00ff33,#00ff2d,#00ff27,#00ff22,#00ff1e,#00ff1a,#00ff17,#00ff14,#00ff11,#00ff0f,#00ff0c,#00ff0a,#00ff08,#00ff06,#00ff04,#00ff03,#00ff01,#00ff01,#00ff00)"></i><i style="height:2px;background:linear-gradient(90deg,#0038ff,#0045ff,#0053ff,#0062ff,#0072ff,#0084ff,#0095ff,#00a8ff,#00bcff,#00d0ff,#00e4ff,#00f9ff,#00fff1,#00ffe0,#00ffd0,#00ffc1,#00ffb3,#00ffa6,#00ff9a,#00ff8e,#00ff84,#00ff79,#00ff70,#00ff67,#00ff5e,#00ff56,#00ff4e,#00ff47,#00ff3f,#00ff38,#00ff32,#00ff2c,#00ff27,#00ff22,#00ff1d,#00ff1a,#00ff16,#00ff14,#00ff11,#00ff0e,#00ff0c,#00ff0a,#00ff08,#00ff06,#00ff04,#00ff03,#00ff01,#00ff01,#00ff00)"></i><i style="height:2px;background:linear-gradient(90deg,#0035ff,#0043ff,#0051ff,#0061ff,#0071ff,#0083ff,#0095ff,#00a9ff,#00bdff,#00d1ff,#00e6ff,#00fbff,#00ffee,#00ffdd,#00ffcd,#00ffbf,#00ffb1,#00ffa4,#00ff98,#00ff8c,#00ff82,#00ff78,#00ff6e,#00ff65,#00ff5d,#00ff55,#00ff4d,#00ff45,#00ff3e,#00ff37,#00ff31,#00ff2b,#00ff26,#00ff21,#00ff1d,#00ff19,#00ff16,#00ff13,#00ff11,#00ff0e,#00ff0c,#00ff09,#00ff07,#00ff06,#00ff04,#00ff03,#00ff01,#00ff01,#00ff00)"></i><i style="height:2px;background:linear-gradient(90deg,#0032ff,#0040ff,#004fff,#005fff,#0071ff,#0083ff,#0096ff,#00aaff,#00beff,#00d3ff,#00e8ff,#00feff,#00ffec,#00ffdb,#00ffcb,#00ffbc,#00ffae,#00ffa1,#00ff95,#00ff8a,#00ff7f,#00ff76,#00ff6c,#00ff64,#00ff5b,#00ff53,#00ff4c,#00ff44,#00ff3d,#00ff36,#00ff30,#00ff2a,#00ff25,#00ff20,#00ff1c,#00ff19,#00ff16,#00ff13,#00ff10,#00ff0e,#00ff0b,#00ff09,#00ff07,#00ff05,#00ff04,#00ff03,#00ff01,#00ff01,#00ff00)"></i><i style="height:2px;background:linear-gradient(90deg,#0030ff,#003eff,#004eff,#005eff,#0070ff,#0083ff,#0096ff,#00abff,#00c0ff,#00d5ff,#00eaff,#00fffe,#00ffe9,#00ffd8,#00ffc8,#00ffba,#00ffac,#00ff9f,#00ff93,#00ff88,#00ff7d,#00ff74,#00ff6a,#00ff62,#00ff5a,#00ff52,#00ff4a,#00ff43,#00ff3c,#00ff35,#00ff2f,#00ff29,#00ff24,#00ff20,#00ff1c,#00ff18,#00ff15,#00ff12,#00ff10,#00ff0d,#00ff0b,#00ff09,#00ff07,#00ff05,#00ff04,#00ff02,#00ff01,#00ff01,#00ff00)"></i><i style="height:2px;background:linear-gradient(90deg,#002dff,#003cff,#004cff,#005dff,#006fff,#0083ff,#0097ff,#00acff,#00c1ff,#00d7ff,#00edff,#00fffb,#00ffe7,#00ffd5,#00ffc6,#00ffb7,#00ffa9,#00ff9d,#00ff91,#00ff86,#00ff7b,#00ff72,#00ff68,#00ff60,#00ff58,#00ff50,#00ff49,#00ff42,#00ff3b,#00ff34,#00ff2e,#00ff29,#00ff24,#00ff1f,#00ff1b,#00ff18,#00ff15,#00ff12,#00ff10,#00ff0d,#00ff0b,#00ff09,#00ff07,#00ff05,#00ff04,#00ff02,#00ff01,#00ff01,#00ff00)"></i><i style="height:2px;background:linear-gradient(90deg,#002aff,#003aff,#004aff,#005cff,#006fff,#0083ff,#0098ff,#00adff,#00c3ff,#00daff,#00f0ff,#00fff8,#00ffe4,#00ffd3,#00ffc3,#00ffb4,#00ffa7,#00ff9a,#00ff8e,#00ff83,#00ff79,#00ff6f,#00ff66,#00ff5e,#00ff56,#00ff4f,#00ff47,#00ff40,#00ff39,#00ff33,#00ff2d,#00ff28,#00ff23,#00ff1e,#00ff1a,#00ff17,#00ff14,#00ff12,#00ff0f,#00ff0d,#00ff0b,#00ff09,#00ff07,#00ff05,#00ff04,#00ff02,#00ff01,#00ff01,#00ff00)"></i><i style="height:2px;background:linear-gradient(90deg,#0028ff,#0038ff,#0049ff,#005bff,#006eff,#0083ff,#0099ff,#00afff,#00c6ff,#00dcff,#00f2ff,#00fff5,#00ffe1,#00ffcf,#00ffc0,#00ffb1,#00ffa4,#00ff97,#00ff8c,#00ff81,#00ff77,#00ff6d,#00ff64,#00ff5c,#00ff54,#00ff4d,#00ff46,#00ff3f,#00ff38,#00ff32,#00ff2c,#00ff27,#00ff22,#00ff1e,#00ff1a,#00ff16,#00ff14,#00ff11,#00ff0f,#00ff0d,#00ff0a,#00ff08,#00ff07,#00ff05,#00ff04,#00ff02,#00ff01,#00ff00,#00ff00)"></i><i style="height:2px;background:linear-gradient(90deg,#0025ff,#0036ff,#0047ff,#005aff,#006eff,#0084ff,#009aff,#00b1ff,#00c8ff,#00dfff,#00f6ff,#00fff2,#00ffdd,#00ffcc,#00ffbd,#00ffae,#00ffa1,#00ff94,#00ff89,#00ff7e,#00ff74,#00ff6b,#00ff62,#00ff5a,#00ff53,#00ff4b,#00ff44,#00ff3d,#00ff37,#00ff31,#00ff2b,#00ff26,#00ff21,#00ff1d,#00ff19,#00ff16,#00ff13,#00ff11,#00ff0e,#00ff0c,#00ff0a,#00ff08,#00ff06,#00ff05,#00ff03,#00ff02,#00ff01,#00ff00,#00ff00)"></i><i style="height:2px;background:linear-gradient(90deg,#0023ff,#0034ff,#0046ff,#005aff,#006eff,#0085ff,#009bff,#00b3ff,#00cbff,#00e2ff,#00f9ff,#00ffef,#00ffda,#00ffc9,#00ffb9,#00ffab,#00ff9e,#00ff92,#00ff86,#00ff7c,#00ff72,#00ff69,#00ff60,#00ff58,#00ff51,#00ff4a,#00ff43,#00ff3c,#00ff36,#00ff30,#00ff2a,#00ff25,#00ff20,#00ff1c,#00ff19,#00ff15,#00ff13,#00ff10,#00ff0e,#00ff0c,#00ff0a,#00ff08,#00ff06,#00ff05,#00ff03,#00ff02,#00ff01,#00ff00,#00ff00)"></i><i style="height:2px;background:linear-gradient(90deg,#0020ff,#0032ff,#0045ff,#0059ff,#006fff,#0085ff,#009dff,#00b5ff,#00cdff,#00e5ff,#00fcff,#00ffeb,#00ffd6,#00ffc5,#00ffb6,#00ffa8,#00ff9b,#00ff8f,#00ff83,#00ff79,#00ff6f,#00ff66,#00ff5e,#00ff56,#00ff4f,#00ff48,#00ff41,#00ff3a,#00ff34,#00ff2e,#00ff29,#00ff24,#00ff20,#00ff1b,#00ff18,#00ff15,#00ff12,#00ff10,#00ff0e,#00ff0c,#00ff0a,#00ff08,#00ff06,#00ff05,#00ff03,#00ff02,#00ff01,#00ff00,#00ff00)"></i><i style="height:2px;background:linear-gradient(90deg,#001eff,#0030ff,#0044ff,#0059ff,#006fff,#0087ff,#009fff,#00b8ff,#00d0ff,#00e9ff,#00fffe,#00ffe7,#00ffd2,#00ffc2,#00ffb2,#00ffa4,#00ff97,#00ff8b,#00ff80,#00ff76,#00ff6d,#00ff64,#00ff5c,#00ff54,#00ff4d,#00ff46,#00ff3f,#00ff39,#00ff33,#00ff2d,#00ff28,#00ff23,#00ff1f,#00ff1b,#00ff17,#00ff14,#00ff12,#00ff10,#00ff0d,#00ff0b,#00ff09,#00ff08,#00ff06,#00ff04,#00ff03,#00ff02,#00ff01,#00ff00,#00ff00)"></i><i style="height:2px;background:linear-gradient(90deg,#001cff,#002eff,#0043ff,#0058ff,#006fff,#0088ff,#00a1ff,#00baff,#00d4ff,#00ecff,#00fffa,#00ffe3,#00ffce,#00ffbe,#00ffaf,#00ffa1,#00ff94,#00ff88,#00ff7d,#00ff73,#00ff6a,#00ff61,#00ff59,#00ff52,#00ff4b,#00ff44,#00ff3e,#00ff37,#00ff32,#00ff2c,#00ff27,#00ff22,#00ff1e,#00ff1a,#00ff17,#00ff14,#00ff11,#00ff0f,#00ff0d,#00ff0b,#00ff09,#00ff07,#00ff06,#00ff04,#00ff03,#00ff02,#00ff01,#00ff00,#00ff00)"></i><i style="height:2px;background:linear-gradient(90deg,#0019ff,#002dff,#0042ff,#0058ff,#0070ff,#008aff,#00a3ff,#00beff,#00d7ff,#00f0ff,#00fff6,#00ffdf,#00ffca,#00ffba,#00ffab,#00ff9d,#00ff91,#00ff85,#00ff7a,#00ff70,#00ff67,#00ff5f,#00ff57,#00ff50,#00ff49,#00ff42,#00ff3c,#00ff36,#00ff30,#00ff2b,#00ff26,#00ff21,#00ff1d,#00ff19,#00ff16,#00ff13,#00ff11,#00ff0f,#00ff0d,#00ff0b,#00ff09,#00ff07,#00ff06,#00ff04,#00ff03,#00ff02,#00ff01,#00ff00,#00ff00)"></i><i style="height:2px;background:linear-gradient(90deg,#0017ff,#002bff,#0041ff,#0059ff,#0071ff,#008cff,#00a6ff,#00c1ff,#00dbff,#00f5ff,#00fff1,#00ffda,#00ffc6,#00ffb6,#00ffa7,#00ff99,#00ff8d,#00ff82,#00ff77,#00ff6e,#00ff65,#00ff5c,#00ff55,#00ff4d,#00ff47,#00ff40,#00ff3a,#00ff34,#00ff2f,#00ff29,#00ff25,#00ff20,#00ff1c,#00ff18,#00ff15,#00ff13,#00ff10,#00ff0e,#00ff0c,#00ff0a,#00ff09,#00ff07,#00ff05,#00ff04,#00ff03,#00ff02,#00ff01,#00ff00,#00ff00)"></i><i style="height:2px;background:linear-gradient(90deg,#0015ff,#002aff,#0041ff,#0059ff,#0073ff,#008eff,#00a9ff,#00c5ff,#00e0ff,#00f9ff,#00ffed,#00ffd6,#00ffc1,#00ffb1,#00ffa3,#00ff95,#00ff89,#00ff7e,#00ff74,#00ff6a,#00ff62,#00ff5a,#00ff52,#00ff4b,#00ff45,#00ff3e,#00ff38,#00ff33,#00ff2d,#00ff28,#00ff23,#00ff1f,#00ff1b,#00ff18,#00ff15,#00ff12,#00ff10,#00ff0e,#00ff0c,#00ff0a,#00ff08,#00ff07,#00ff05,#00ff04,#00ff03,#00ff02,#00ff01,#00ff00,#00ff00)"></i><i style="height:2px;background:linear-gradient(90deg,#0013ff,#0028ff,#0040ff,#005aff,#0074ff,#0090ff,#00adff,#00c9ff,#00e4ff,#00feff,#00ffe8,#00ffd1,#00ffbd,#00ffad,#00ff9f,#00ff91,#00ff86,#00ff7b,#00ff71,#00ff67,#00ff5f,#00ff57,#00ff50,#00ff49,#00ff43,#00ff3d,#00ff37,#00ff31,#00ff2c,#00ff27,#00ff22,#00ff1e,#00ff1a,#00ff17,#00ff14,#00ff11,#00ff0f,#00ff0d,#00ff0b,#00ff0a,#00ff08,#00ff07,#00ff05,#00ff04,#00ff03,#00ff02,#00ff01,#00ff00,#00ff00)"></i><i style="height:2px;background:linear-gradient(90deg,#0011ff,#0027ff,#0040ff,#005aff,#0076ff,#0093ff,#00b0ff,#00cdff,#00e9ff,#00fffb,#00ffe2,#00ffcc,#00ffb8,#00ffa8,#00ff9a,#00ff8d,#00ff82,#00ff77,#00ff6d,#00ff64,#00ff5c,#00ff54,#00ff4d,#00ff47,#00ff40,#00ff3b,#00ff35,#00ff2f,#00ff2a,#00ff26,#00ff21,#00ff1d,#00ff19,#00ff16,#00ff13,#00ff11,#00ff0f,#00ff0d,#00ff0b,#00ff09,#00ff08,#00ff06,#00ff05,#00ff04,#00ff03,#00ff02,#00ff01,#00ff00,#00ff00)"></i><i style="height:2px;background:linear-gradient(90deg,#000fff,#0026ff,#0040ff,#005cff,#0079ff,#0096ff,#00b5ff,#00d2ff,#00efff,#00fff5,#00ffdd,#00ffc6,#00ffb3,#00ffa3,#00ff96,#00ff89,#00ff7e,#00ff73,#00ff6a,#00ff61,#00ff59,#00ff51,#00ff4a,#00ff44,#00ff3e,#00ff38,#00ff33,#00ff2e,#00ff29,#00ff24,#00ff20,#00ff1c,#00ff18,#00ff15,#00ff13,#00ff10,#00ff0e,#00ff0c,#00ff0b,#00ff09,#00ff07,#00ff06,#00ff05,#00ff04,#00ff03,#00ff02,#00ff01,#00ff00,#00ff00)"></i><i style="height:2px;background:linear-gradient(90deg,#000dff,#0025ff,#0041ff,#005dff,#007bff,#009aff,#00b9ff,#00d7ff,#00f4ff,#00ffef,#00ffd7,#00ffc1,#00ffad,#00ff9e,#00ff91,#00ff85,#00ff79,#00ff6f,#00ff66,#00ff5e,#00ff56,#00ff4f,#00ff48,#00ff42,#00ff3c,#00ff36,#00ff31,#00ff2c,#00ff27,#00ff23,#00ff1f,#00ff1b,#00ff18,#00ff15,#00ff12,#00ff10,#00ff0e,#00ff0c,#00ff0a,#00ff09,#00ff07,#00ff06,#00ff05,#00ff03,#00ff02,#00ff02,#00ff01,#00ff00,#00ff00)"></i><i style="height:1px;background:linear-gradient(90deg,#000bff,#0017ff,#0025ff,#0033ff,#0041ff,#0050ff,#005fff,#006eff,#007eff,#008dff,#009dff,#00adff,#00bdff,#00cdff,#00dcff,#00eaff,#00f9ff,#00fff8,#00ffeb,#00ffde,#00ffd2,#00ffc7,#00ffbc,#00ffb2,#00ffa9,#00ffa2,#00ff9a,#00ff94,#00ff8d,#00ff87,#00ff81,#00ff7c,#00ff76,#00ff71,#00ff6c,#00ff68,#00ff63,#00ff5f,#00ff5b,#00ff57,#00ff53,#00ff50,#00ff4c,#00ff49,#00ff46,#00ff43,#00ff40,#00ff3d,#00ff3a,#00ff38,#00ff35,#00ff32,#00ff30,#00ff2d,#00ff2b,#00ff28,#00ff26,#00ff24,#00ff22,#00ff20,#00ff1e,#00ff1c,#00ff1a,#00ff18,#00ff17,#00ff15,#00ff14,#00ff13,#00ff11,#00ff10,#00ff0f,#00ff0e,#00ff0d,#00ff0c,#00ff0c,#00ff0b,#00ff0a,#00ff09,#00ff08,#00ff08,#00ff07,#00ff06,#00ff06,#00ff05,#00ff04,#00ff04,#00ff03,#00ff03,#00ff02,#00ff02,#00ff02,#00ff01,#00ff01,#00ff01,#00ff00,#00ff00,#00ff00)"></i><i style="height:1px;background:linear-gradient(90deg,#000bff,#0016ff,#0024ff,#0033ff,#0041ff,#0050ff,#0060ff,#006fff,#007fff,#008fff,#00a0ff,#00b0ff,#00c0ff,#00cfff,#00dfff,#00eeff,#00fcff,#00fff5,#00ffe8,#00ffdb,#00ffcf,#00ffc4,#00ffb9,#00ffaf,#00ffa7,#00ff9f,#00ff98,#00ff91,#00ff8b,#00ff85,#00ff7f,#00ff79,#00ff74,#00ff6f,#00ff6a,#00ff66,#00ff61,#00ff5d,#00ff59,#00ff55,#00ff52,#00ff4e,#00ff4b,#00ff48,#00ff44,#00ff41,#00ff3f,#00ff3c,#00ff39,#00ff36,#00ff34,#00ff31,#00ff2f,#00ff2c,#00ff2a,#00ff28,#00ff25,#00ff23,#00ff21,#00ff1f,#00ff1d,#00ff1b,#00ff1a,#00ff18,#00ff16,#00ff15,#00ff13,#00ff12,#00ff11,#00ff10,#00ff0f,#00ff0e,#00ff0d,#00ff0c,#00ff0b,#00ff0a,#00ff0a,#00ff09,#00ff08,#00ff08,#00ff07,#00ff06,#00ff06,#00ff05,#00ff04,#00ff04,#00ff03,#00ff03,#00ff02,#00ff02,#00ff01,#00ff01,#00ff01,#00ff01,#00ff00,#00ff00,#00ff00)"></i><i style="height:1px;background:linear-gradient(90deg,#000aff,#0016ff,#0024ff,#0033ff,#0042ff,#0051ff,#0061ff,#0071ff,#0081ff,#0091ff,#00a2ff,#00b2ff,#00c2ff,#00d2ff,#00e2ff,#00f1ff,#00ffff,#00fff1,#00ffe4,#00ffd8,#00ffcc,#00ffc1,#00ffb6,#00ffac,#00ffa4,#00ff9c,#00ff95,#00ff8f,#00ff88,#00ff82,#00ff7d,#00ff77,#00ff72,#00ff6d,#00ff68,#00ff64,#00ff60,#00ff5b,#00ff58,#00ff54,#00ff50,#00ff4d,#00ff49,#00ff46,#00ff43,#00ff40,#00ff3d,#00ff3b,#00ff38,#00ff35,#00ff33,#00ff30,#00ff2e,#00ff2b,#00ff29,#00ff27,#00ff25,#00ff23,#00ff20,#00ff1f,#00ff1d,#00ff1b,#00ff19,#00ff17,#00ff16,#00ff14,#00ff13,#00ff12,#00ff11,#00ff0f,#00ff0e,#00ff0d,#00ff0d,#00ff0c,#00ff0b,#00ff0a,#00ff0a,#00ff09,#00ff08,#00ff07,#00ff07,#00ff06,#00ff05,#00ff05,#00ff04,#00ff04,#00ff03,#00ff03,#00ff02,#00ff02,#00ff01,#00ff01,#00ff01,#00ff01,#00ff00,#00ff00,#00ff00)"></i><i style="height:1px;background:linear-gradient(90deg,#0009ff,#0015ff,#0024ff,#0033ff,#0043ff,#0052ff,#0062ff,#0072ff,#0083ff,#0094ff,#00a4ff,#00b5ff,#00c5ff,#00d5ff,#00e5ff,#00f4ff,#00fffc,#00ffee,#00ffe1,#00ffd5,#00ffc9,#00ffbe,#00ffb3,#00ffa9,#00ffa1,#00ff99,#00ff92,#00ff8c,#00ff86,#00ff80,#00ff7a,#00ff75,#00ff70,#00ff6b,#00ff66,#00ff62,#00ff5e,#00ff5a,#00ff56,#00ff52,#00ff4f,#00ff4b,#00ff48,#00ff45,#00ff42,#00ff3f,#00ff3c,#00ff39,#00ff37,#00ff34,#00ff32,#00ff2f,#00ff2d,#00ff2b,#00ff28,#00ff26,#00ff24,#00ff22,#00ff20,#00ff1e,#00ff1c,#00ff1a,#00ff19,#00ff17,#00ff15,#00ff14,#00ff13,#00ff11,#00ff10,#00ff0f,#00ff0e,#00ff0d,#00ff0c,#00ff0c,#00ff0b,#00ff0a,#00ff09,#00ff09,#00ff08,#00ff07,#00ff07,#00ff06,#00ff05,#00ff05,#00ff04,#00ff04,#00ff03,#00ff03,#00ff02,#00ff02,#00ff01,#00ff01,#00ff01,#00ff01,#00ff00,#00ff00,#00ff00)"></i><i style="height:1px;background:linear-gradient(90deg,#0008ff,#0015ff,#0024ff,#0033ff,#0043ff,#0053ff,#0064ff,#0074ff,#0085ff,#0096ff,#00a7ff,#00b8ff,#00c8ff,#00d9ff,#00e8ff,#00f7ff,#00fff8,#00ffea,#00ffde,#00ffd1,#00ffc6,#00ffba,#00ffb0,#00ffa6,#00ff9e,#00ff97,#00ff90,#00ff89,#00ff83,#00ff7d,#00ff78,#00ff73,#00ff6e,#00ff69,#00ff64,#00ff60,#00ff5c,#00ff58,#00ff54,#00ff50,#00ff4d,#00ff4a,#00ff46,#00ff43,#00ff40,#00ff3e,#00ff3b,#00ff38,#00ff36,#00ff33,#00ff31,#00ff2e,#00ff2c,#00ff2a,#00ff27,#00ff25,#00ff23,#00ff21,#00ff1f,#00ff1d,#00ff1b,#00ff1a,#00ff18,#00ff16,#00ff15,#00ff14,#00ff12,#00ff11,#00ff10,#00ff0f,#00ff0e,#00ff0d,#00ff0c,#00ff0b,#00ff0b,#00ff0a,#00ff09,#00ff08,#00ff08,#00ff07,#00ff06,#00ff06,#00ff05,#00ff05,#00ff04,#00ff04,#00ff03,#00ff03,#00ff02,#00ff02,#00ff01,#00ff01,#00ff01,#00ff01,#00ff00,#00ff00,#00ff00)"></i><i style="height:1px;background:linear-gradient(90deg,#0007ff,#0014ff,#0024ff,#0034ff,#0044ff,#0054ff,#0065ff,#0076ff,#0087ff,#0099ff,#00aaff,#00bbff,#00ccff,#00dcff,#00ecff,#00fbff,#00fff5,#00ffe7,#00ffda,#00ffce,#00ffc2,#00ffb7,#00ffad,#00ffa3,#00ff9b,#00ff94,#00ff8d,#00ff87,#00ff81,#00ff7b,#00ff75,#00ff70,#00ff6b,#00ff67,#00ff62,#00ff5e,#00ff5a,#00ff56,#00ff52,#00ff4f,#00ff4b,#00ff48,#00ff45,#00ff42,#00ff3f,#00ff3c,#00ff39,#00ff37,#00ff34,#00ff32,#00ff30,#00ff2d,#00ff2b,#00ff29,#00ff26,#00ff24,#00ff22,#00ff20,#00ff1e,#00ff1d,#00ff1b,#00ff19,#00ff17,#00ff16,#00ff15,#00ff13,#00ff12,#00ff11,#00ff0f,#00ff0e,#00ff0d,#00ff0d,#00ff0c,#00ff0b,#00ff0a,#00ff0a,#00ff09,#00ff08,#00ff08,#00ff07,#00ff06,#00ff06,#00ff05,#00ff04,#00ff04,#00ff03,#00ff03,#00ff03,#00ff02,#00ff02,#00ff01,#00ff01,#00ff01,#00ff01,#00ff00,#00ff00,#00ff00)"></i><i style="height:1px;background:linear-gradient(90deg,#0007ff,#0014ff,#0024ff,#0034ff,#0045ff,#0056ff,#0067ff,#0078ff,#008aff,#009bff,#00adff,#00beff,#00cfff,#00e0ff,#00efff,#00ffff,#00fff1,#00ffe3,#00ffd6,#00ffca,#00ffbf,#00ffb4,#00ffaa,#00ffa0,#00ff98,#00ff91,#00ff8a,#00ff84,#00ff7e,#00ff78,#00ff73,#00ff6e,#00ff69,#00ff64,#00ff60,#00ff5c,#00ff58,#00ff54,#00ff50,#00ff4d,#00ff4a,#00ff46,#00ff43,#00ff40,#00ff3e,#00ff3b,#00ff38,#00ff36,#00ff33,#00ff31,#00ff2e,#00ff2c,#00ff2a,#00ff28,#00ff26,#00ff24,#00ff22,#00ff20,#00ff1e,#00ff1c,#00ff1a,#00ff19,#00ff17,#00ff15,#00ff14,#00ff13,#00ff11,#00ff10,#00ff0f,#00ff0e,#00ff0d,#00ff0c,#00ff0c,#00ff0b,#00ff0a,#00ff09,#00ff09,#00ff08,#00ff07,#00ff07,#00ff06,#00ff06,#00ff05,#00ff04,#00ff04,#00ff03,#00ff03,#00ff02,#00ff02,#00ff02,#00ff01,#00ff01,#00ff01,#00ff00,#00ff00,#00ff00,#00ff00)"></i><i style="height:1px;background:linear-gradient(90deg,#0006ff,#0014ff,#0024ff,#0035ff,#0046ff,#0057ff,#0069ff,#007aff,#008cff,#009eff,#00b0ff,#00c1ff,#00d3ff,#00e3ff,#00f3ff,#00fffc,#00ffed,#00ffe0,#00ffd3,#00ffc7,#00ffbb,#00ffb0,#00ffa6,#00ff9d,#00ff95,#00ff8e,#00ff87,#00ff81,#00ff7b,#00ff76,#00ff70,#00ff6b,#00ff67,#00ff62,#00ff5e,#00ff5a,#00ff56,#00ff52,#00ff4f,#00ff4b,#00ff48,#00ff45,#00ff42,#00ff3f,#00ff3c,#00ff39,#00ff37,#00ff34,#00ff32,#00ff30,#00ff2d,#00ff2b,#00ff29,#00ff27,#00ff25,#00ff23,#00ff21,#00ff1f,#00ff1d,#00ff1b,#00ff1a,#00ff18,#00ff16,#00ff15,#00ff14,#00ff12,#00ff11,#00ff10,#00ff0f,#00ff0e,#00ff0d,#00ff0c,#00ff0b,#00ff0b,#00ff0a,#00ff09,#00ff08,#00ff08,#00ff07,#00ff07,#00ff06,#00ff05,#00ff05,#00ff04,#00ff04,#00ff03,#00ff03,#00ff02,#00ff02,#00ff02,#00ff01,#00ff01,#00ff01,#00ff00,#00ff00,#00ff00,#00ff00)"></i><i style="height:1px;background:linear-gradient(90deg,#0005ff,#0014ff,#0024ff,#0036ff,#0047ff,#0059ff,#006bff,#007dff,#008fff,#00a1ff,#00b3ff,#00c5ff,#00d6ff,#00e7ff,#00f7ff,#00fff8,#00ffe9,#00ffdc,#00ffcf,#00ffc3,#00ffb8,#00ffad,#00ffa3,#00ff9a,#00ff92,#00ff8b,#00ff84,#00ff7e,#00ff79,#00ff73,#00ff6e,#00ff69,#00ff64,#00ff60,#00ff5c,#00ff58,#00ff54,#00ff50,#00ff4d,#00ff49,#00ff46,#00ff43,#00ff40,#00ff3d,#00ff3b,#00ff38,#00ff36,#00ff33,#00ff31,#00ff2f,#00ff2c,#00ff2a,#00ff28,#00ff26,#00ff24,#00ff22,#00ff20,#00ff1e,#00ff1c,#00ff1b,#00ff19,#00ff17,#00ff16,#00ff14,#00ff13,#00ff12,#00ff11,#00ff0f,#00ff0e,#00ff0d,#00ff0d,#00ff0c,#00ff0b,#00ff0a,#00ff0a,#00ff09,#00ff08,#00ff08,#00ff07,#00ff06,#00ff06,#00ff05,#00ff05,#00ff04,#00ff04,#00ff03,#00ff03,#00ff02,#00ff02,#00ff02,#00ff01,#00ff01,#00ff01,#00ff00,#00ff00,#00ff00,#00ff00)"></i><i style="height:1px;background:linear-gradient(90deg,#0005ff,#0013ff,#0025ff,#0036ff,#0048ff,#005aff,#006dff,#007fff,#0092ff,#00a4ff,#00b7ff,#00c9ff,#00daff,#00ebff,#00fbff,#00fff4,#00ffe5,#00ffd8,#00ffcb,#00ffbf,#00ffb4,#00ffa9,#00ff9f,#00ff96,#00ff8e,#00ff88,#00ff81,#00ff7b,#00ff76,#00ff70,#00ff6b,#00ff67,#00ff62,#00ff5e,#00ff5a,#00ff56,#00ff52,#00ff4e,#00ff4b,#00ff48,#00ff45,#00ff42,#00ff3f,#00ff3c,#00ff39,#00ff37,#00ff34,#00ff32,#00ff30,#00ff2d,#00ff2b,#00ff29,#00ff27,#00ff25,#00ff23,#00ff21,#00ff1f,#00ff1d,#00ff1c,#00ff1a,#00ff18,#00ff17,#00ff15,#00ff14,#00ff13,#00ff11,#00ff10,#00ff0f,#00ff0e,#00ff0d,#00ff0c,#00ff0b,#00ff0b,#00ff0a,#00ff09,#00ff09,#00ff08,#00ff07,#00ff07,#00ff06,#00ff06,#00ff05,#00ff05,#00ff04,#00ff04,#00ff03,#00ff03,#00ff02,#00ff02,#00ff02,#00ff01,#00ff01,#00ff01,#00ff00,#00ff00,#00ff00,#00ff00)"></i><i style="height:1px;background:linear-gradient(90deg,#0004ff,#0013ff,#0025ff,#0037ff,#004aff,#005cff,#006fff,#0082ff,#0095ff,#00a8ff,#00baff,#00ccff,#00deff,#00efff,#00ffff,#00ffef,#00ffe1,#00ffd4,#00ffc7,#00ffbb,#00ffb0,#00ffa6,#00ff9c,#00ff93,#00ff8b,#00ff85,#00ff7e,#00ff79,#00ff73,#00ff6e,#00ff69,#00ff64,#00ff60,#00ff5b,#00ff57,#00ff54,#00ff50,#00ff4c,#00ff49,#00ff46,#00ff43,#00ff40,#00ff3d,#00ff3a,#00ff38,#00ff35,#00ff33,#00ff31,#00ff2e,#00ff2c,#00ff2a,#00ff28,#00ff26,#00ff24,#00ff22,#00ff20,#00ff1e,#00ff1d,#00ff1b,#00ff19,#00ff18,#00ff16,#00ff15,#00ff13,#00ff12,#00ff11,#00ff10,#00ff0f,#00ff0e,#00ff0d,#00ff0c,#00ff0b,#00ff0a,#00ff0a,#00ff09,#00ff08,#00ff08,#00ff07,#00ff07,#00ff06,#00ff06,#00ff05,#00ff04,#00ff04,#00ff03,#00ff03,#00ff03,#00ff02,#00ff02,#00ff02,#00ff01,#00ff01,#00ff01,#00ff00,#00ff00,#00ff00,#00ff00)"></i><i style="height:1px;background:linear-gradient(90deg,#0004ff,#0013ff,#0026ff,#0038ff,#004bff,#005eff,#0071ff,#0085ff,#0098ff,#00abff,#00beff,#00d0ff,#00e2ff,#00f3ff,#00fffa,#00ffeb,#00ffdd,#00ffcf,#00ffc3,#00ffb7,#00ffac,#00ffa2,#00ff98,#00ff90,#00ff88,#00ff81,#00ff7b,#00ff76,#00ff70,#00ff6b,#00ff66,#00ff62,#00ff5d,#00ff59,#00ff55,#00ff51,#00ff4e,#00ff4a,#00ff47,#00ff44,#00ff41,#00ff3e,#00ff3c,#00ff39,#00ff36,#00ff34,#00ff32,#00ff2f,#00ff2d,#00ff2b,#00ff29,#00ff27,#00ff25,#00ff23,#00ff21,#00ff1f,#00ff1e,#00ff1c,#00ff1a,#00ff19,#00ff17,#00ff16,#00ff14,#00ff13,#00ff12,#00ff10,#00ff0f,#00ff0e,#00ff0d,#00ff0c,#00ff0c,#00ff0b,#00ff0a,#00ff09,#00ff09,#00ff08,#00ff08,#00ff07,#00ff06,#00ff06,#00ff05,#00ff05,#00ff04,#00ff04,#00ff03,#00ff03,#00ff03,#00ff02,#00ff02,#00ff01,#00ff01,#00ff01,#00ff01,#00ff00,#00ff00,#00ff00,#00ff00)"></i><i style="height:1px;background:linear-gradient(90deg,#0004ff,#0013ff,#0026ff,#0039ff,#004dff,#0060ff,#0074ff,#0088ff,#009cff,#00afff,#00c2ff,#00d5ff,#00e7ff,#00f8ff,#00fff6,#00ffe7,#00ffd8,#00ffcb,#00ffbf,#00ffb3,#00ffa8,#00ff9e,#00ff95,#00ff8c,#00ff85,#00ff7e,#00ff78,#00ff73,#00ff6d,#00ff68,#00ff64,#00ff5f,#00ff5b,#00ff57,#00ff53,#00ff4f,#00ff4c,#00ff49,#00ff45,#00ff42,#00ff3f,#00ff3d,#00ff3a,#00ff37,#00ff35,#00ff33,#00ff30,#00ff2e,#00ff2c,#00ff2a,#00ff28,#00ff26,#00ff24,#00ff22,#00ff20,#00ff1e,#00ff1d,#00ff1b,#00ff19,#00ff18,#00ff16,#00ff15,#00ff14,#00ff12,#00ff11,#00ff10,#00ff0f,#00ff0e,#00ff0d,#00ff0c,#00ff0b,#00ff0b,#00ff0a,#00ff09,#00ff09,#00ff08,#00ff07,#00ff07,#00ff06,#00ff06,#00ff05,#00ff05,#00ff04,#00ff04,#00ff03,#00ff03,#00ff02,#00ff02,#00ff02,#00ff01,#00ff01,#00ff01,#00ff01,#00ff00,#00ff00,#00ff00,#00ff00)"></i><i style="height:1px;background:linear-gradient(90deg,#0003ff,#0014ff,#0027ff,#003bff,#004fff,#0063ff,#0077ff,#008bff,#009fff,#00b3ff,#00c6ff,#00d9ff,#00ebff,#00fcff,#00fff1,#00ffe2,#00ffd4,#00ffc7,#00ffba,#00ffaf,#00ffa4,#00ff9a,#00ff91,#00ff89,#00ff81,#00ff7b,#00ff75,#00ff70,#00ff6b,#00ff66,#00ff61,#00ff5d,#00ff58,#00ff55,#00ff51,#00ff4d,#00ff4a,#00ff47,#00ff43,#00ff40,#00ff3e,#00ff3b,#00ff38,#00ff36,#00ff33,#00ff31,#00ff2f,#00ff2d,#00ff2b,#00ff29,#00ff27,#00ff25,#00ff23,#00ff21,#00ff1f,#00ff1e,#00ff1c,#00ff1a,#00ff19,#00ff17,#00ff16,#00ff14,#00ff13,#00ff12,#00ff11,#00ff10,#00ff0e,#00ff0d,#00ff0d,#00ff0c,#00ff0b,#00ff0a,#00ff0a,#00ff09,#00ff08,#00ff08,#00ff07,#00ff07,#00ff06,#00ff06,#00ff05,#00ff05,#00ff04,#00ff04,#00ff03,#00ff03,#00ff02,#00ff02,#00ff02,#00ff01,#00ff01,#00ff01,#00ff01,#00ff00,#00ff00,#00ff00,#00ff00)"></i><i style="height:1px;background:linear-gradient(90deg,#0003ff,#0014ff,#0028ff,#003cff,#0051ff,#0065ff,#007aff,#008fff,#00a3ff,#00b7ff,#00cbff,#00deff,#00f0ff,#00fffd,#00ffec,#00ffdd,#00ffcf,#00ffc2,#00ffb6,#00ffab,#00ffa0,#00ff96,#00ff8d,#00ff85,#00ff7e,#00ff78,#00ff72,#00ff6d,#00ff68,#00ff63,#00ff5e,#00ff5a,#00ff56,#00ff52,#00ff4f,#00ff4b,#00ff48,#00ff45,#00ff42,#00ff3f,#00ff3c,#00ff39,#00ff37,#00ff34,#00ff32,#00ff30,#00ff2e,#00ff2b,#00ff29,#00ff28,#00ff26,#00ff24,#00ff22,#00ff20,#00ff1e,#00ff1d,#00ff1b,#00ff19,#00ff18,#00ff17,#00ff15,#00ff14,#00ff12,#00ff11,#00ff10,#00ff0f,#00ff0e,#00ff0d,#00ff0c,#00ff0b,#00ff0b,#00ff0a,#00ff09,#00ff09,#00ff08,#00ff08,#00ff07,#00ff06,#00ff06,#00ff05,#00ff05,#00ff04,#00ff04,#00ff04,#00ff03,#00ff03,#00ff02,#00ff02,#00ff02,#00ff01,#00ff01,#00ff01,#00ff01,#00ff00,#00ff00,#00ff00,#00ff00)"></i><i style="height:1px;background:linear-gradient(90deg,#0003ff,#0014ff,#0029ff,#003eff,#0053ff,#0068ff,#007eff,#0093ff,#00a7ff,#00bcff,#00cfff,#00e3ff,#00f5ff,#00fff8,#00ffe8,#00ffd8,#00ffca,#00ffbe,#00ffb2,#00ffa6,#00ff9c,#00ff92,#00ff89,#00ff81,#00ff7a,#00ff74,#00ff6f,#00ff6a,#00ff65,#00ff60,#00ff5c,#00ff57,#00ff54,#00ff50,#00ff4c,#00ff49,#00ff46,#00ff43,#00ff40,#00ff3d,#00ff3a,#00ff38,#00ff35,#00ff33,#00ff30,#00ff2e,#00ff2c,#00ff2a,#00ff28,#00ff26,#00ff24,#00ff23,#00ff21,#00ff1f,#00ff1d,#00ff1c,#00ff1a,#00ff19,#00ff17,#00ff16,#00ff14,#00ff13,#00ff12,#00ff11,#00ff10,#00ff0f,#00ff0e,#00ff0d,#00ff0c,#00ff0b,#00ff0a,#00ff0a,#00ff09,#00ff08,#00ff08,#00ff07,#00ff07,#00ff06,#00ff06,#00ff05,#00ff05,#00ff04,#00ff04,#00ff03,#00ff03,#00ff03,#00ff02,#00ff02,#00ff02,#00ff01,#00ff01,#00ff01,#00ff01,#00ff00,#00ff00,#00ff00,#00ff00)"></i><i style="height:1px;background:linear-gradient(90deg,#0003ff,#0015ff,#002aff,#0040ff,#0056ff,#006bff,#0081ff,#0097ff,#00acff,#00c0ff,#00d4ff,#00e8ff,#00faff,#00fff3,#00ffe2,#00ffd3,#00ffc5,#00ffb9,#00ffad,#00ffa2,#00ff98,#00ff8e,#00ff86,#00ff7e,#00ff77,#00ff71,#00ff6c,#00ff67,#00ff62,#00ff5d,#00ff59,#00ff55,#00ff51,#00ff4d,#00ff4a,#00ff47,#00ff43,#00ff41,#00ff3e,#00ff3b,#00ff38,#00ff36,#00ff33,#00ff31,#00ff2f,#00ff2d,#00ff2b,#00ff29,#00ff27,#00ff25,#00ff23,#00ff22,#00ff20,#00ff1e,#00ff1d,#00ff1b,#00ff19,#00ff18,#00ff17,#00ff15,#00ff14,#00ff13,#00ff11,#00ff10,#00ff0f,#00ff0e,#00ff0d,#00ff0c,#00ff0b,#00ff0b,#00ff0a,#00ff09,#00ff09,#00ff08,#00ff08,#00ff07,#00ff07,#00ff06,#00ff06,#00ff05,#00ff05,#00ff04,#00ff04,#00ff03,#00ff03,#00ff03,#00ff02,#00ff02,#00ff02,#00ff01,#00ff01,#00ff01,#00ff01,#00ff00,#00ff00,#00ff00,#00ff00)"></i><i style="height:1px;background:linear-gradient(90deg,#0003ff,#0016ff,#002cff,#0042ff,#0058ff,#006fff,#0085ff,#009bff,#00b1ff,#00c5ff,#00daff,#00edff,#00ffff,#00ffed,#00ffdd,#00ffce,#00ffc0,#00ffb4,#00ffa8,#00ff9e,#00ff94,#00ff8a,#00ff82,#00ff7a,#00ff73,#00ff6e,#00ff68,#00ff63,#00ff5f,#00ff5a,#00ff56,#00ff52,#00ff4f,#00ff4b,#00ff48,#00ff44,#00ff41,#00ff3e,#00ff3c,#00ff39,#00ff37,#00ff34,#00ff32,#00ff30,#00ff2d,#00ff2b,#00ff29,#00ff28,#00ff26,#00ff24,#00ff22,#00ff21,#00ff1f,#00ff1d,#00ff1c,#00ff1a,#00ff19,#00ff17,#00ff16,#00ff14,#00ff13,#00ff12,#00ff11,#00ff10,#00ff0f,#00ff0e,#00ff0d,#00ff0c,#00ff0b,#00ff0a,#00ff0a,#00ff09,#00ff08,#00ff08,#00ff07,#00ff07,#00ff06,#00ff06,#00ff05,#00ff05,#00ff04,#00ff04,#00ff04,#00ff03,#00ff03,#00ff02,#00ff02,#00ff02,#00ff02,#00ff01,#00ff01,#00ff01,#00ff01,#00ff00,#00ff00,#00ff00,#00ff00)"></i><i style="height:1px;background:linear-gradient(90deg,#0003ff,#0016ff,#002dff,#0044ff,#005bff,#0073ff,#0089ff,#00a0ff,#00b6ff,#00cbff,#00dfff,#00f3ff,#00fff9,#00ffe8,#00ffd8,#00ffc9,#00ffbb,#00ffaf,#00ffa4,#00ff99,#00ff8f,#00ff86,#00ff7e,#00ff76,#00ff70,#00ff6a,#00ff65,#00ff60,#00ff5c,#00ff57,#00ff53,#00ff50,#00ff4c,#00ff49,#00ff45,#00ff42,#00ff3f,#00ff3c,#00ff3a,#00ff37,#00ff35,#00ff32,#00ff30,#00ff2e,#00ff2c,#00ff2a,#00ff28,#00ff26,#00ff24,#00ff23,#00ff21,#00ff1f,#00ff1e,#00ff1c,#00ff1b,#00ff19,#00ff18,#00ff16,#00ff15,#00ff14,#00ff13,#00ff11,#00ff10,#00ff0f,#00ff0e,#00ff0d,#00ff0c,#00ff0b,#00ff0b,#00ff0a,#00ff09,#00ff09,#00ff08,#00ff08,#00ff07,#00ff07,#00ff06,#00ff06,#00ff05,#00ff05,#00ff04,#00ff04,#00ff03,#00ff03,#00ff03,#00ff02,#00ff02,#00ff02,#00ff01,#00ff01,#00ff01,#00ff01,#00ff01,#00ff00,#00ff00,#00ff00,#00ff00)"></i><i style="height:1px;background:linear-gradient(90deg,#0004ff,#0017ff,#002fff,#0047ff,#005fff,#0077ff,#008eff,#00a5ff,#00bbff,#00d0ff,#00e5ff,#00f9ff,#00fff3,#00ffe2,#00ffd2,#00ffc3,#00ffb6,#00ffaa,#00ff9f,#00ff94,#00ff8b,#00ff82,#00ff7a,#00ff72,#00ff6c,#00ff67,#00ff62,#00ff5d,#00ff59,#00ff55,#00ff51,#00ff4d,#00ff49,#00ff46,#00ff43,#00ff40,#00ff3d,#00ff3a,#00ff38,#00ff35,#00ff33,#00ff31,#00ff2e,#00ff2c,#00ff2a,#00ff29,#00ff27,#00ff25,#00ff23,#00ff22,#00ff20,#00ff1e,#00ff1d,#00ff1b,#00ff1a,#00ff18,#00ff17,#00ff16,#00ff14,#00ff13,#00ff12,#00ff11,#00ff10,#00ff0f,#00ff0e,#00ff0d,#00ff0c,#00ff0b,#00ff0a,#00ff0a,#00ff09,#00ff08,#00ff08,#00ff07,#00ff07,#00ff06,#00ff06,#00ff05,#00ff05,#00ff05,#00ff04,#00ff04,#00ff03,#00ff03,#00ff03,#00ff02,#00ff02,#00ff02,#00ff01,#00ff01,#00ff01,#00ff01,#00ff01,#00ff00,#00ff00,#00ff00,#00ff00)"></i><i style="height:1px;background:linear-gradient(90deg,#0004ff,#0019ff,#0031ff,#004aff,#0063ff,#007bff,#0093ff,#00aaff,#00c1ff,#00d6ff,#00ebff,#00ffff,#00ffed,#00ffdc,#00ffcc,#00ffbe,#00ffb1,#00ffa5,#00ff9a,#00ff90,#00ff86,#00ff7e,#00ff76,#00ff6f,#00ff68,#00ff63,#00ff5e,#00ff5a,#00ff56,#00ff52,#00ff4e,#00ff4a,#00ff47,#00ff44,#00ff41,#00ff3e,#00ff3b,#00ff38,#00ff36,#00ff33,#00ff31,#00ff2f,#00ff2d,#00ff2b,#00ff29,#00ff27,#00ff25,#00ff24,#00ff22,#00ff20,#00ff1f,#00ff1d,#00ff1c,#00ff1a,#00ff19,#00ff17,#00ff16,#00ff15,#00ff14,#00ff12,#00ff11,#00ff10,#00ff0f,#00ff0e,#00ff0d,#00ff0c,#00ff0b,#00ff0b,#00ff0a,#00ff09,#00ff09,#00ff08,#00ff08,#00ff07,#00ff07,#00ff06,#00ff06,#00ff05,#00ff05,#00ff04,#00ff04,#00ff04,#00ff03,#00ff03,#00ff03,#00ff02,#00ff02,#00ff02,#00ff01,#00ff01,#00ff01,#00ff01,#00ff00,#00ff00,#00ff00,#00ff00,#00ff00)"></i><i style="height:1px;background:linear-gradient(90deg,#0005ff,#001aff,#0034ff,#004dff,#0067ff,#0080ff,#0098ff,#00b0ff,#00c7ff,#00ddff,#00f1ff,#00fff9,#00ffe7,#00ffd6,#00ffc6,#00ffb8,#00ffab,#00ff9f,#00ff95,#00ff8b,#00ff82,#00ff79,#00ff72,#00ff6b,#00ff65,#00ff60,#00ff5b,#00ff57,#00ff53,#00ff4f,#00ff4b,#00ff48,#00ff44,#00ff41,#00ff3e,#00ff3b,#00ff39,#00ff36,#00ff34,#00ff31,#00ff2f,#00ff2d,#00ff2b,#00ff29,#00ff27,#00ff26,#00ff24,#00ff22,#00ff21,#00ff1f,#00ff1e,#00ff1c,#00ff1b,#00ff19,#00ff18,#00ff17,#00ff15,#00ff14,#00ff13,#00ff12,#00ff11,#00ff10,#00ff0f,#00ff0e,#00ff0d,#00ff0c,#00ff0b,#00ff0a,#00ff0a,#00ff09,#00ff08,#00ff08,#00ff07,#00ff07,#00ff06,#00ff06,#00ff05,#00ff05,#00ff05,#00ff04,#00ff04,#00ff03,#00ff03,#00ff03,#00ff02,#00ff02,#00ff02,#00ff02,#00ff01,#00ff01,#00ff01,#00ff01,#00ff00,#00ff00,#00ff00,#00ff00,#00ff00)"></i><i style="height:1px;background:linear-gradient(90deg,#0006ff,#001cff,#0036ff,#0051ff,#006bff,#0085ff,#009eff,#00b6ff,#00cdff,#00e3ff,#00f8ff,#00fff2,#00ffe0,#00ffcf,#00ffc0,#00ffb2,#00ffa5,#00ff9a,#00ff8f,#00ff86,#00ff7d,#00ff75,#00ff6d,#00ff67,#00ff61,#00ff5c,#00ff58,#00ff53,#00ff4f,#00ff4c,#00ff48,#00ff45,#00ff42,#00ff3f,#00ff3c,#00ff39,#00ff37,#00ff34,#00ff32,#00ff30,#00ff2d,#00ff2b,#00ff29,#00ff28,#00ff26,#00ff24,#00ff22,#00ff21,#00ff1f,#00ff1e,#00ff1c,#00ff1b,#00ff1a,#00ff18,#00ff17,#00ff16,#00ff14,#00ff13,#00ff12,#00ff11,#00ff10,#00ff0f,#00ff0e,#00ff0d,#00ff0c,#00ff0b,#00ff0b,#00ff0a,#00ff09,#00ff09,#00ff08,#00ff07,#00ff07,#00ff07,#00ff06,#00ff06,#00ff05,#00ff05,#00ff04,#00ff04,#00ff04,#00ff03,#00ff03,#00ff03,#00ff02,#00ff02,#00ff02,#00ff01,#00ff01,#00ff01,#00ff01,#00ff01,#00ff00,#00ff00,#00ff00,#00ff00,#00ff00)"></i><i style="height:1px;background:linear-gradient(90deg,#0007ff,#001eff,#0039ff,#0055ff,#0070ff,#008aff,#00a4ff,#00bdff,#00d4ff,#00eaff,#00ffff,#00ffeb,#00ffd9,#00ffc9,#00ffba,#00ffac,#00ffa0,#00ff94,#00ff8a,#00ff81,#00ff78,#00ff70,#00ff69,#00ff63,#00ff5d,#00ff58,#00ff54,#00ff50,#00ff4c,#00ff49,#00ff45,#00ff42,#00ff3f,#00ff3c,#00ff39,#00ff37,#00ff34,#00ff32,#00ff30,#00ff2e,#00ff2c,#00ff2a,#00ff28,#00ff26,#00ff24,#00ff23,#00ff21,#00ff20,#00ff1e,#00ff1d,#00ff1b,#00ff1a,#00ff19,#00ff17,#00ff16,#00ff15,#00ff14,#00ff12,#00ff11,#00ff10,#00ff0f,#00ff0e,#00ff0d,#00ff0c,#00ff0c,#00ff0b,#00ff0a,#00ff09,#00ff09,#00ff08,#00ff08,#00ff07,#00ff07,#00ff06,#00ff06,#00ff05,#00ff05,#00ff05,#00ff04,#00ff04,#00ff04,#00ff03,#00ff03,#00ff03,#00ff02,#00ff02,#00ff02,#00ff01,#00ff01,#00ff01,#00ff01,#00ff01,#00ff00,#00ff00,#00ff00,#00ff00,#00ff00)"></i><i style="height:1px;background:linear-gradient(90deg,#0008ff,#0020ff,#003dff,#0059ff,#0075ff,#0090ff,#00abff,#00c4ff,#00dbff,#00f2ff,#00fff8,#00ffe4,#00ffd2,#00ffc2,#00ffb3,#00ffa6,#00ff9a,#00ff8f,#00ff85,#00ff7c,#00ff73,#00ff6c,#00ff65,#00ff5f,#00ff59,#00ff55,#00ff51,#00ff4d,#00ff49,#00ff46,#00ff42,#00ff3f,#00ff3c,#00ff3a,#00ff37,#00ff34,#00ff32,#00ff30,#00ff2e,#00ff2c,#00ff2a,#00ff28,#00ff26,#00ff24,#00ff23,#00ff21,#00ff20,#00ff1e,#00ff1d,#00ff1b,#00ff1a,#00ff19,#00ff17,#00ff16,#00ff15,#00ff14,#00ff13,#00ff12,#00ff11,#00ff10,#00ff0f,#00ff0e,#00ff0d,#00ff0c,#00ff0b,#00ff0a,#00ff0a,#00ff09,#00ff08,#00ff08,#00ff07,#00ff07,#00ff06,#00ff06,#00ff06,#00ff05,#00ff05,#00ff04,#00ff04,#00ff04,#00ff03,#00ff03,#00ff03,#00ff02,#00ff02,#00ff02,#00ff02,#00ff01,#00ff01,#00ff01,#00ff01,#00ff01,#00ff00,#00ff00,#00ff00,#00ff00,#00ff00)"></i><i style="height:1px;background:linear-gradient(90deg,#0009ff,#0023ff,#0040ff,#005eff,#007bff,#0097ff,#00b2ff,#00cbff,#00e3ff,#00f9ff,#00fff0,#00ffdd,#00ffcb,#00ffbb,#00ffac,#00ff9f,#00ff94,#00ff89,#00ff7f,#00ff77,#00ff6f,#00ff67,#00ff61,#00ff5b,#00ff56,#00ff51,#00ff4d,#00ff49,#00ff46,#00ff43,#00ff3f,#00ff3c,#00ff3a,#00ff37,#00ff35,#00ff32,#00ff30,#00ff2e,#00ff2c,#00ff2a,#00ff28,#00ff26,#00ff24,#00ff23,#00ff21,#00ff20,#00ff1e,#00ff1d,#00ff1b,#00ff1a,#00ff19,#00ff18,#00ff16,#00ff15,#00ff14,#00ff13,#00ff12,#00ff11,#00ff10,#00ff0f,#00ff0e,#00ff0d,#00ff0c,#00ff0b,#00ff0b,#00ff0a,#00ff09,#00ff09,#00ff08,#00ff07,#00ff07,#00ff07,#00ff06,#00ff06,#00ff05,#00ff05,#00ff05,#00ff04,#00ff04,#00ff04,#00ff03,#00ff03,#00ff03,#00ff02,#00ff02,#00ff02,#00ff02,#00ff01,#00ff01,#00ff01,#00ff01,#00ff01,#00ff00,#00ff00,#00ff00,#00ff00,#00ff00)"></i><i style="height:1px;background:linear-gradient(90deg,#000bff,#0026ff,#0045ff,#0064ff,#0081ff,#009eff,#00baff,#00d3ff,#00ebff,#00fffd,#00ffe8,#00ffd5,#00ffc3,#00ffb4,#00ffa5,#00ff99,#00ff8d,#00ff83,#00ff7a,#00ff71,#00ff6a,#00ff63,#00ff5c,#00ff56,#00ff52,#00ff4d,#00ff4a,#00ff46,#00ff43,#00ff3f,#00ff3c,#00ff3a,#00ff37,#00ff34,#00ff32,#00ff30,#00ff2e,#00ff2c,#00ff2a,#00ff28,#00ff26,#00ff24,#00ff23,#00ff21,#00ff20,#00ff1e,#00ff1d,#00ff1b,#00ff1a,#00ff19,#00ff18,#00ff17,#00ff15,#00ff14,#00ff13,#00ff12,#00ff11,#00ff10,#00ff0f,#00ff0e,#00ff0d,#00ff0c,#00ff0c,#00ff0b,#00ff0a,#00ff09,#00ff09,#00ff08,#00ff08,#00ff07,#00ff07,#00ff06,#00ff06,#00ff05,#00ff05,#00ff05,#00ff04,#00ff04,#00ff04,#00ff03,#00ff03,#00ff03,#00ff02,#00ff02,#00ff02,#00ff02,#00ff01,#00ff01,#00ff01,#00ff01,#00ff01,#00ff01,#00ff00,#00ff00,#00ff00,#00ff00,#00ff00)"></i><i style="height:1px;background:linear-gradient(90deg,#000dff,#0029ff,#004aff,#006aff,#0089ff,#00a6ff,#00c2ff,#00dcff,#00f4ff,#00fff4,#00ffdf,#00ffcd,#00ffbc,#00ffac,#00ff9e,#00ff92,#00ff87,#00ff7d,#00ff74,#00ff6c,#00ff65,#00ff5e,#00ff58,#00ff52,#00ff4e,#00ff4a,#00ff46,#00ff43,#00ff3f,#00ff3c,#00ff3a,#00ff37,#00ff34,#00ff32,#00ff30,#00ff2d,#00ff2b,#00ff29,#00ff28,#00ff26,#00ff24,#00ff22,#00ff21,#00ff1f,#00ff1e,#00ff1d,#00ff1b,#00ff1a,#00ff19,#00ff18,#00ff17,#00ff15,#00ff14,#00ff13,#00ff12,#00ff11,#00ff10,#00ff0f,#00ff0e,#00ff0d,#00ff0d,#00ff0c,#00ff0b,#00ff0a,#00ff0a,#00ff09,#00ff08,#00ff08,#00ff07,#00ff07,#00ff06,#00ff06,#00ff06,#00ff05,#00ff05,#00ff04,#00ff04,#00ff04,#00ff04,#00ff03,#00ff03,#00ff03,#00ff02,#00ff02,#00ff02,#00ff02,#00ff01,#00ff01,#00ff01,#00ff01,#00ff01,#00ff00,#00ff00,#00ff00,#00ff00,#00ff00,#00ff00)"></i><i style="height:1px;background:linear-gradient(90deg,#0010ff,#002dff,#004fff,#0070ff,#0090ff,#00afff,#00cbff,#00e5ff,#00fdff,#00ffeb,#00ffd7,#00ffc4,#00ffb3,#00ffa4,#00ff97,#00ff8b,#00ff81,#00ff77,#00ff6f,#00ff67,#00ff60,#00ff59,#00ff53,#00ff4e,#00ff4a,#00ff46,#00ff42,#00ff3f,#00ff3c,#00ff39,#00ff37,#00ff34,#00ff32,#00ff2f,#00ff2d,#00ff2b,#00ff29,#00ff27,#00ff25,#00ff24,#00ff22,#00ff21,#00ff1f,#00ff1e,#00ff1c,#00ff1b,#00ff1a,#00ff19,#00ff18,#00ff16,#00ff15,#00ff14,#00ff13,#00ff12,#00ff11,#00ff10,#00ff0f,#00ff0e,#00ff0e,#00ff0d,#00ff0c,#00ff0b,#00ff0a,#00ff0a,#00ff09,#00ff08,#00ff08,#00ff07,#00ff07,#00ff06,#00ff06,#00ff06,#00ff05,#00ff05,#00ff05,#00ff04,#00ff04,#00ff04,#00ff03,#00ff03,#00ff03,#00ff02,#00ff02,#00ff02,#00ff02,#00ff02,#00ff01,#00ff01,#00ff01,#00ff01,#00ff01,#00ff00,#00ff00,#00ff00,#00ff00,#00ff00,#00ff00)"></i><i style="height:1px;background:linear-gradient(90deg,#0013ff,#0032ff,#0055ff,#0078ff,#0099ff,#00b8ff,#00d5ff,#00efff,#00fff7,#00ffe1,#00ffcd,#00ffbb,#00ffab,#00ff9d,#00ff90,#00ff84,#00ff7a,#00ff71,#00ff69,#00ff61,#00ff5b,#00ff54,#00ff4f,#00ff4a,#00ff46,#00ff42,#00ff3f,#00ff3c,#00ff39,#00ff36,#00ff34,#00ff31,#00ff2f,#00ff2d,#00ff2b,#00ff29,#00ff27,#00ff25,#00ff23,#00ff22,#00ff20,#00ff1f,#00ff1d,#00ff1c,#00ff1b,#00ff1a,#00ff18,#00ff17,#00ff16,#00ff15,#00ff14,#00ff13,#00ff12,#00ff11,#00ff10,#00ff0f,#00ff0e,#00ff0e,#00ff0d,#00ff0c,#00ff0b,#00ff0b,#00ff0a,#00ff09,#00ff09,#00ff08,#00ff07,#00ff07,#00ff06,#00ff06,#00ff06,#00ff05,#00ff05,#00ff05,#00ff04,#00ff04,#00ff04,#00ff03,#00ff03,#00ff03,#00ff03,#00ff02,#00ff02,#00ff02,#00ff02,#00ff01,#00ff01,#00ff01,#00ff01,#00ff01,#00ff01,#00ff00,#00ff00,#00ff00,#00ff00,#00ff00,#00ff00)"></i><i style="height:1px;background:linear-gradient(90deg,#0017ff,#0037ff,#005cff,#0080ff,#00a2ff,#00c2ff,#00dfff,#00f9ff,#00ffed,#00ffd7,#00ffc4,#00ffb2,#00ffa2,#00ff94,#00ff88,#00ff7d,#00ff73,#00ff6b,#00ff63,#00ff5c,#00ff55,#00ff50,#00ff4a,#00ff46,#00ff42,#00ff3e,#00ff3b,#00ff38,#00ff36,#00ff33,#00ff31,#00ff2e,#00ff2c,#00ff2a,#00ff28,#00ff26,#00ff25,#00ff23,#00ff21,#00ff20,#00ff1e,#00ff1d,#00ff1c,#00ff1a,#00ff19,#00ff18,#00ff17,#00ff16,#00ff15,#00ff14,#00ff13,#00ff12,#00ff11,#00ff10,#00ff0f,#00ff0e,#00ff0e,#00ff0d,#00ff0c,#00ff0b,#00ff0b,#00ff0a,#00ff09,#00ff09,#00ff08,#00ff08,#00ff07,#00ff07,#00ff06,#00ff06,#00ff05,#00ff05,#00ff05,#00ff04,#00ff04,#00ff04,#00ff03,#00ff03,#00ff03,#00ff03,#00ff02,#00ff02,#00ff02,#00ff02,#00ff02,#00ff01,#00ff01,#00ff01,#00ff01,#00ff01,#00ff01,#00ff00,#00ff00,#00ff00,#00ff00,#00ff00,#00ff00)"></i><i style="height:1px;background:linear-gradient(90deg,#001bff,#003dff,#0064ff,#008aff,#00adff,#00cdff,#00eaff,#00fff9,#00ffe2,#00ffcd,#00ffba,#00ffa9,#00ff9a,#00ff8c,#00ff80,#00ff76,#00ff6d,#00ff64,#00ff5d,#00ff56,#00ff50,#00ff4b,#00ff46,#00ff41,#00ff3e,#00ff3a,#00ff38,#00ff35,#00ff32,#00ff30,#00ff2e,#00ff2b,#00ff29,#00ff27,#00ff26,#00ff24,#00ff22,#00ff21,#00ff1f,#00ff1e,#00ff1c,#00ff1b,#00ff1a,#00ff19,#00ff18,#00ff17,#00ff16,#00ff15,#00ff14,#00ff13,#00ff12,#00ff11,#00ff10,#00ff0f,#00ff0e,#00ff0e,#00ff0d,#00ff0c,#00ff0b,#00ff0b,#00ff0a,#00ff09,#00ff09,#00ff08,#00ff08,#00ff07,#00ff07,#00ff06,#00ff06,#00ff05,#00ff05,#00ff05,#00ff04,#00ff04,#00ff04,#00ff04,#00ff03,#00ff03,#00ff03,#00ff03,#00ff02,#00ff02,#00ff02,#00ff02,#00ff01,#00ff01,#00ff01,#00ff01,#00ff01,#00ff01,#00ff01,#00ff00,#00ff00,#00ff00,#00ff00,#00ff00,#00ff00)"></i><i style="height:1px;background:linear-gradient(90deg,#0020ff,#0044ff,#006eff,#0095ff,#00b9ff,#00d9ff,#00f7ff,#00ffed,#00ffd6,#00ffc2,#00ffaf,#00ff9f,#00ff90,#00ff84,#00ff78,#00ff6e,#00ff66,#00ff5e,#00ff57,#00ff51,#00ff4b,#00ff46,#00ff41,#00ff3d,#00ff3a,#00ff37,#00ff34,#00ff31,#00ff2f,#00ff2d,#00ff2a,#00ff28,#00ff27,#00ff25,#00ff23,#00ff22,#00ff20,#00ff1f,#00ff1d,#00ff1c,#00ff1b,#00ff19,#00ff18,#00ff17,#00ff16,#00ff15,#00ff14,#00ff13,#00ff12,#00ff11,#00ff11,#00ff10,#00ff0f,#00ff0e,#00ff0d,#00ff0d,#00ff0c,#00ff0b,#00ff0b,#00ff0a,#00ff09,#00ff09,#00ff08,#00ff08,#00ff07,#00ff07,#00ff06,#00ff06,#00ff05,#00ff05,#00ff05,#00ff04,#00ff04,#00ff04,#00ff04,#00ff03,#00ff03,#00ff03,#00ff03,#00ff02,#00ff02,#00ff02,#00ff02,#00ff02,#00ff01,#00ff01,#00ff01,#00ff01,#00ff01,#00ff01,#00ff00,#00ff00,#00ff00,#00ff00,#00ff00,#00ff00,#00ff00)"></i><i style="height:1px;background:linear-gradient(90deg,#0026ff,#004cff,#0078ff,#00a0ff,#00c5ff,#00e6ff,#00fffa,#00ffe1,#00ffca,#00ffb6,#00ffa5,#00ff95,#00ff87,#00ff7b,#00ff70,#00ff67,#00ff5f,#00ff57,#00ff51,#00ff4b,#00ff46,#00ff41,#00ff3d,#00ff39,#00ff35,#00ff33,#00ff30,#00ff2e,#00ff2c,#00ff29,#00ff27,#00ff26,#00ff24,#00ff22,#00ff21,#00ff1f,#00ff1e,#00ff1c,#00ff1b,#00ff1a,#00ff19,#00ff18,#00ff16,#00ff15,#00ff14,#00ff14,#00ff13,#00ff12,#00ff11,#00ff10,#00ff0f,#00ff0f,#00ff0e,#00ff0d,#00ff0c,#00ff0c,#00ff0b,#00ff0a,#00ff0a,#00ff09,#00ff09,#00ff08,#00ff08,#00ff07,#00ff07,#00ff06,#00ff06,#00ff05,#00ff05,#00ff05,#00ff04,#00ff04,#00ff04,#00ff04,#00ff03,#00ff03,#00ff03,#00ff03,#00ff02,#00ff02,#00ff02,#00ff02,#00ff02,#00ff01,#00ff01,#00ff01,#00ff01,#00ff01,#00ff01,#00ff01,#00ff00,#00ff00,#00ff00,#00ff00,#00ff00,#00ff00,#00ff00)"></i><i style="height:1px;background:linear-gradient(90deg,#002dff,#0056ff,#0084ff,#00aeff,#00d4ff,#00f5ff,#00ffec,#00ffd3,#00ffbd,#00ffaa,#00ff99,#00ff8b,#00ff7d,#00ff72,#00ff68,#00ff5f,#00ff58,#00ff51,#00ff4b,#00ff45,#00ff40,#00ff3c,#00ff38,#00ff34,#00ff31,#00ff2f,#00ff2c,#00ff2a,#00ff28,#00ff26,#00ff24,#00ff23,#00ff21,#00ff20,#00ff1e,#00ff1d,#00ff1b,#00ff1a,#00ff19,#00ff18,#00ff17,#00ff16,#00ff15,#00ff14,#00ff13,#00ff12,#00ff11,#00ff10,#00ff10,#00ff0f,#00ff0e,#00ff0d,#00ff0d,#00ff0c,#00ff0b,#00ff0b,#00ff0a,#00ff0a,#00ff09,#00ff08,#00ff08,#00ff07,#00ff07,#00ff06,#00ff06,#00ff06,#00ff05,#00ff05,#00ff05,#00ff04,#00ff04,#00ff04,#00ff03,#00ff03,#00ff03,#00ff03,#00ff03,#00ff02,#00ff02,#00ff02,#00ff02,#00ff02,#00ff01,#00ff01,#00ff01,#00ff01,#00ff01,#00ff01,#00ff01,#00ff01,#00ff00,#00ff00,#00ff00,#00ff00,#00ff00,#00ff00,#00ff00)"></i><i style="height:1px;background:linear-gradient(90deg,#0036ff,#0062ff,#0092ff,#00bdff,#00e3ff,#00fffa,#00ffdd,#00ffc5,#00ffb0,#00ff9e,#00ff8e,#00ff80,#00ff74,#00ff69,#00ff60,#00ff58,#00ff50,#00ff4a,#00ff45,#00ff40,#00ff3b,#00ff37,#00ff33,#00ff30,#00ff2d,#00ff2b,#00ff29,#00ff27,#00ff25,#00ff23,#00ff21,#00ff20,#00ff1e,#00ff1d,#00ff1c,#00ff1a,#00ff19,#00ff18,#00ff17,#00ff16,#00ff15,#00ff14,#00ff13,#00ff12,#00ff11,#00ff11,#00ff10,#00ff0f,#00ff0e,#00ff0e,#00ff0d,#00ff0c,#00ff0c,#00ff0b,#00ff0a,#00ff0a,#00ff09,#00ff09,#00ff08,#00ff08,#00ff07,#00ff07,#00ff06,#00ff06,#00ff06,#00ff05,#00ff05,#00ff04,#00ff04,#00ff04,#00ff04,#00ff03,#00ff03,#00ff03,#00ff03,#00ff03,#00ff02,#00ff02,#00ff02,#00ff02,#00ff02,#00ff02,#00ff01,#00ff01,#00ff01,#00ff01,#00ff01,#00ff01,#00ff01,#00ff00,#00ff00,#00ff00,#00ff00,#00ff00,#00ff00,#00ff00,#00ff00)"></i><i style="height:1px;background:linear-gradient(90deg,#0041ff,#006fff,#00a2ff,#00ceff,#00f5ff,#00ffe9,#00ffcd,#00ffb6,#00ffa2,#00ff91,#00ff82,#00ff75,#00ff6a,#00ff60,#00ff57,#00ff50,#00ff49,#00ff44,#00ff3e,#00ff3a,#00ff36,#00ff32,#00ff2f,#00ff2c,#00ff29,#00ff27,#00ff25,#00ff23,#00ff21,#00ff20,#00ff1e,#00ff1d,#00ff1b,#00ff1a,#00ff19,#00ff18,#00ff17,#00ff16,#00ff15,#00ff14,#00ff13,#00ff12,#00ff11,#00ff10,#00ff10,#00ff0f,#00ff0e,#00ff0e,#00ff0d,#00ff0c,#00ff0c,#00ff0b,#00ff0b,#00ff0a,#00ff09,#00ff09,#00ff08,#00ff08,#00ff07,#00ff07,#00ff07,#00ff06,#00ff06,#00ff05,#00ff05,#00ff05,#00ff04,#00ff04,#00ff04,#00ff04,#00ff03,#00ff03,#00ff03,#00ff03,#00ff03,#00ff02,#00ff02,#00ff02,#00ff02,#00ff02,#00ff02,#00ff01,#00ff01,#00ff01,#00ff01,#00ff01,#00ff01,#00ff01,#00ff01,#00ff00,#00ff00,#00ff00,#00ff00,#00ff00,#00ff00,#00ff00,#00ff00)"></i><i style="height:1px;background:linear-gradient(90deg,#004eff,#007fff,#00b4ff,#00e2ff,#00fff6,#00ffd7,#00ffbc,#00ffa6,#00ff93,#00ff83,#00ff76,#00ff6a,#00ff5f,#00ff56,#00ff4f,#00ff48,#00ff42,#00ff3d,#00ff38,#00ff34,#00ff30,#00ff2d,#00ff2a,#00ff27,#00ff25,#00ff23,#00ff21,#00ff20,#00ff1e,#00ff1d,#00ff1b,#00ff1a,#00ff19,#00ff17,#00ff16,#00ff15,#00ff14,#00ff13,#00ff13,#00ff12,#00ff11,#00ff10,#00ff0f,#00ff0f,#00ff0e,#00ff0d,#00ff0d,#00ff0c,#00ff0c,#00ff0b,#00ff0b,#00ff0a,#00ff0a,#00ff09,#00ff09,#00ff08,#00ff08,#00ff07,#00ff07,#00ff06,#00ff06,#00ff06,#00ff05,#00ff05,#00ff04,#00ff04,#00ff04,#00ff04,#00ff03,#00ff03,#00ff03,#00ff03,#00ff03,#00ff02,#00ff02,#00ff02,#00ff02,#00ff02,#00ff02,#00ff01,#00ff01,#00ff01,#00ff01,#00ff01,#00ff01,#00ff01,#00ff01,#00ff01,#00ff00,#00ff00,#00ff00,#00ff00,#00ff00,#00ff00,#00ff00,#00ff00,#00ff00)"></i><i style="height:1px;background:linear-gradient(90deg,#005eff,#0093ff,#00caff,#00f7ff,#00ffe1,#00ffc3,#00ffaa,#00ff95,#00ff84,#00ff76,#00ff69,#00ff5e,#00ff55,#00ff4d,#00ff46,#00ff40,#00ff3a,#00ff36,#00ff32,#00ff2e,#00ff2b,#00ff28,#00ff25,#00ff23,#00ff21,#00ff1f,#00ff1d,#00ff1c,#00ff1b,#00ff19,#00ff18,#00ff17,#00ff16,#00ff15,#00ff14,#00ff13,#00ff12,#00ff11,#00ff10,#00ff10,#00ff0f,#00ff0e,#00ff0e,#00ff0d,#00ff0c,#00ff0c,#00ff0b,#00ff0b,#00ff0a,#00ff0a,#00ff09,#00ff09,#00ff08,#00ff08,#00ff08,#00ff07,#00ff07,#00ff06,#00ff06,#00ff06,#00ff05,#00ff05,#00ff05,#00ff04,#00ff04,#00ff04,#00ff03,#00ff03,#00ff03,#00ff03,#00ff03,#00ff02,#00ff02,#00ff02,#00ff02,#00ff02,#00ff02,#00ff02,#00ff01,#00ff01,#00ff01,#00ff01,#00ff01,#00ff01,#00ff01,#00ff01,#00ff01,#00ff00,#00ff00,#00ff00,#00ff00,#00ff00,#00ff00,#00ff00,#00ff00,#00ff00,#00ff00)"></i><i style="height:1px;background:linear-gradient(90deg,#0072ff,#00abff,#00e3ff,#00ffee,#00ffca,#00ffae,#00ff97,#00ff84,#00ff74,#00ff67,#00ff5c,#00ff52,#00ff4a,#00ff43,#00ff3d,#00ff38,#00ff33,#00ff2f,#00ff2b,#00ff28,#00ff25,#00ff23,#00ff20,#00ff1e,#00ff1c,#00ff1b,#00ff1a,#00ff18,#00ff17,#00ff16,#00ff15,#00ff14,#00ff13,#00ff12,#00ff11,#00ff10,#00ff10,#00ff0f,#00ff0e,#00ff0e,#00ff0d,#00ff0c,#00ff0c,#00ff0b,#00ff0b,#00ff0a,#00ff0a,#00ff09,#00ff09,#00ff09,#00ff08,#00ff08,#00ff07,#00ff07,#00ff07,#00ff06,#00ff06,#00ff05,#00ff05,#00ff05,#00ff05,#00ff04,#00ff04,#00ff04,#00ff03,#00ff03,#00ff03,#00ff03,#00ff03,#00ff02,#00ff02,#00ff02,#00ff02,#00ff02,#00ff02,#00ff02,#00ff01,#00ff01,#00ff01,#00ff01,#00ff01,#00ff01,#00ff01,#00ff01,#00ff01,#00ff01,#00ff00,#00ff00,#00ff00,#00ff00,#00ff00,#00ff00,#00ff00,#00ff00,#00ff00,#00ff00,#00ff00)"></i><i style="height:1px;background:linear-gradient(90deg,#008cff,#00c7ff,#00fffe,#00ffd2,#00ffb1,#00ff97,#00ff82,#00ff72,#00ff64,#00ff59,#00ff4f,#00ff47,#00ff3f,#00ff39,#00ff34,#00ff2f,#00ff2c,#00ff28,#00ff25,#00ff22,#00ff20,#00ff1e,#00ff1c,#00ff1a,#00ff18,#00ff17,#00ff16,#00ff15,#00ff14,#00ff13,#00ff12,#00ff11,#00ff10,#00ff0f,#00ff0f,#00ff0e,#00ff0d,#00ff0d,#00ff0c,#00ff0c,#00ff0b,#00ff0b,#00ff0a,#00ff0a,#00ff09,#00ff09,#00ff08,#00ff08,#00ff08,#00ff07,#00ff07,#00ff07,#00ff06,#00ff06,#00ff06,#00ff05,#00ff05,#00ff05,#00ff04,#00ff04,#00ff04,#00ff04,#00ff03,#00ff03,#00ff03,#00ff03,#00ff03,#00ff02,#00ff02,#00ff02,#00ff02,#00ff02,#00ff02,#00ff02,#00ff01,#00ff01,#00ff01,#00ff01,#00ff01,#00ff01,#00ff01,#00ff01,#00ff01,#00ff01,#00ff01,#00ff00,#00ff00,#00ff00,#00ff00,#00ff00,#00ff00,#00ff00,#00ff00,#00ff00,#00ff00,#00ff00,#00ff00)"></i><i style="height:1px;background:linear-gradient(90deg,#00adff,#00ebff,#00ffdc,#00ffb4,#00ff96,#00ff7f,#00ff6d,#00ff5f,#00ff53,#00ff4a,#00ff41,#00ff3a,#00ff34,#00ff2f,#00ff2b,#00ff27,#00ff24,#00ff21,#00ff1f,#00ff1c,#00ff1a,#00ff18,#00ff17,#00ff15,#00ff14,#00ff13,#00ff12,#00ff11,#00ff10,#00ff0f,#00ff0f,#00ff0e,#00ff0d,#00ff0d,#00ff0c,#00ff0c,#00ff0b,#00ff0b,#00ff0a,#00ff0a,#00ff09,#00ff09,#00ff08,#00ff08,#00ff08,#00ff07,#00ff07,#00ff07,#00ff06,#00ff06,#00ff06,#00ff05,#00ff05,#00ff05,#00ff05,#00ff04,#00ff04,#00ff04,#00ff04,#00ff03,#00ff03,#00ff03,#00ff03,#00ff03,#00ff02,#00ff02,#00ff02,#00ff02,#00ff02,#00ff02,#00ff02,#00ff01,#00ff01,#00ff01,#00ff01,#00ff01,#00ff01,#00ff01,#00ff01,#00ff01,#00ff01,#00ff01,#00ff01,#00ff01,#00ff00,#00ff00,#00ff00,#00ff00,#00ff00,#00ff00,#00ff00,#00ff00,#00ff00,#00ff00,#00ff00,#00ff00,#00ff00)"></i><i style="height:1px;background:linear-gradient(90deg,#00d9ff,#00ffe8,#00ffb5,#00ff92,#00ff78,#00ff65,#00ff57,#00ff4b,#00ff42,#00ff3a,#00ff34,#00ff2e,#00ff29,#00ff25,#00ff22,#00ff1f,#00ff1c,#00ff1a,#00ff18,#00ff16,#00ff15,#00ff13,#00ff12,#00ff11,#00ff10,#00ff0f,#00ff0e,#00ff0d,#00ff0d,#00ff0c,#00ff0c,#00ff0b,#00ff0b,#00ff0a,#00ff0a,#00ff09,#00ff09,#00ff08,#00ff08,#00ff08,#00ff07,#00ff07,#00ff07,#00ff06,#00ff06,#00ff06,#00ff05,#00ff05,#00ff05,#00ff05,#00ff04,#00ff04,#00ff04,#00ff04,#00ff04,#00ff03,#00ff03,#00ff03,#00ff03,#00ff03,#00ff03,#00ff02,#00ff02,#00ff02,#00ff02,#00ff02,#00ff02,#00ff02,#00ff01,#00ff01,#00ff01,#00ff01,#00ff01,#00ff01,#00ff01,#00ff01,#00ff01,#00ff01,#00ff01,#00ff01,#00ff01,#00ff01,#00ff00,#00ff00,#00ff00,#00ff00,#00ff00,#00ff00,#00ff00,#00ff00,#00ff00,#00ff00,#00ff00,#00ff00,#00ff00,#00ff00,#00ff00)"></i><i style="height:1px;background:linear-gradient(90deg,#00ffec,#00ffb4,#00ff89,#00ff6d,#00ff59,#00ff4b,#00ff40,#00ff37,#00ff30,#00ff2b,#00ff26,#00ff22,#00ff1e,#00ff1b,#00ff19,#00ff17,#00ff15,#00ff13,#00ff12,#00ff10,#00ff0f,#00ff0e,#00ff0d,#00ff0c,#00ff0c,#00ff0b,#00ff0a,#00ff0a,#00ff09,#00ff09,#00ff08,#00ff08,#00ff08,#00ff07,#00ff07,#00ff07,#00ff06,#00ff06,#00ff06,#00ff06,#00ff05,#00ff05,#00ff05,#00ff05,#00ff04,#00ff04,#00ff04,#00ff04,#00ff04,#00ff03,#00ff03,#00ff03,#00ff03,#00ff03,#00ff03,#00ff02,#00ff02,#00ff02,#00ff02,#00ff02,#00ff02,#00ff02,#00ff02,#00ff01,#00ff01,#00ff01,#00ff01,#00ff01,#00ff01,#00ff01,#00ff01,#00ff01,#00ff01,#00ff01,#00ff01,#00ff01,#00ff01,#00ff01,#00ff01,#00ff00,#00ff00,#00ff00,#00ff00,#00ff00,#00ff00,#00ff00,#00ff00,#00ff00,#00ff00,#00ff00,#00ff00,#00ff00,#00ff00,#00ff00,#00ff00,#00ff00,#00ff00)"></i><i style="height:1px;background:linear-gradient(90deg,#00ffa1,#00ff77,#00ff59,#00ff46,#00ff39,#00ff30,#00ff29,#00ff23,#00ff1f,#00ff1b,#00ff18,#00ff15,#00ff13,#00ff11,#00ff10,#00ff0e,#00ff0d,#00ff0c,#00ff0b,#00ff0a,#00ff09,#00ff09,#00ff08,#00ff08,#00ff07,#00ff07,#00ff07,#00ff06,#00ff06,#00ff06,#00ff05,#00ff05,#00ff05,#00ff05,#00ff04,#00ff04,#00ff04,#00ff04,#00ff04,#00ff03,#00ff03,#00ff03,#00ff03,#00ff03,#00ff03,#00ff03,#00ff03,#00ff02,#00ff02,#00ff02,#00ff02,#00ff02,#00ff02,#00ff02,#00ff02,#00ff02,#00ff01,#00ff01,#00ff01,#00ff01,#00ff01,#00ff01,#00ff01,#00ff01,#00ff01,#00ff01,#00ff01,#00ff01,#00ff01,#00ff01,#00ff01,#00ff01,#00ff01,#00ff00,#00ff00,#00ff00,#00ff00,#00ff00,#00ff00,#00ff00,#00ff00,#00ff00,#00ff00,#00ff00,#00ff00,#00ff00,#00ff00,#00ff00,#00ff00,#00ff00,#00ff00,#00ff00,#00ff00,#00ff00,#00ff00,#00ff00,#00ff00)"></i><i style="height:1px;background:linear-gradient(90deg,#00ff46,#00ff32,#00ff25,#00ff1d,#00ff18,#00ff14,#00ff11,#00ff0e,#00ff0d,#00ff0b,#00ff0a,#00ff09,#00ff08,#00ff07,#00ff06,#00ff06,#00ff05,#00ff05,#00ff05,#00ff04,#00ff04,#00ff04,#00ff03,#00ff03,#00ff03,#00ff03,#00ff03,#00ff03,#00ff02,#00ff02,#00ff02,#00ff02,#00ff02,#00ff02,#00ff02,#00ff02,#00ff02,#00ff02,#00ff01,#00ff01,#00ff01,#00ff01,#00ff01,#00ff01,#00ff01,#00ff01,#00ff01,#00ff01,#00ff01,#00ff01,#00ff01,#00ff01,#00ff01,#00ff01,#00ff01,#00ff01,#00ff01,#00ff01,#00ff01,#00ff01,#00ff00,#00ff00,#00ff00,#00ff00,#00ff00,#00ff00,#00ff00,#00ff00,#00ff00,#00ff00,#00ff00,#00ff00,#00ff00,#00ff00,#00ff00,#00ff00,#00ff00,#00ff00,#00ff00,#00ff00,#00ff00,#00ff00,#00ff00,#00ff00,#00ff00,#00ff00,#00ff00,#00ff00,#00ff00,#00ff00,#00ff00,#00ff00,#00ff00,#00ff00,#00ff00,#00ff00,#00ff00)"></i><i style="height:1px;background:linear-gradient(90deg,#1eff00,#16ff00,#10ff00,#0dff00,#0aff00,#08ff00,#07ff00,#06ff00,#05ff00,#05ff00,#04ff00,#04ff00,#03ff00,#03ff00,#03ff00,#03ff00,#02ff00,#02ff00,#02ff00,#02ff00,#02ff00,#02ff00,#01ff00,#01ff00,#01ff00,#01ff00,#01ff00,#01ff00,#01ff00,#01ff00,#01ff00,#01ff00,#01ff00,#01ff00,#01ff00,#01ff00,#01ff00,#01ff00,#01ff00,#01ff00,#01ff00,#01ff00,#01ff00,#01ff00,#00ff00,#00ff00,#00ff00,#00ff00,#00ff00,#00ff00,#00ff00,#00ff00,#00ff00,#00ff00,#00ff00,#00ff00,#00ff00,#00ff00,#00ff00,#00ff00,#00ff00,#00ff00,#00ff00,#00ff00,#00ff00,#00ff00,#00ff00,#00ff00,#00ff00,#00ff00,#00ff00,#00ff00,#00ff00,#00ff00,#00ff00,#00ff00,#00ff00,#00ff00,#00ff00,#00ff00,#00ff00,#00ff00,#00ff00,#00ff00,#00ff00,#00ff00,#00ff00,#00ff00,#00ff00,#00ff00,#00ff00,#00ff00,#00ff00,#00ff00,#00ff00,#00ff00,#00ff00)"></i><i style="height:1px;background:linear-gradient(90deg,#7eff00,#5cff00,#45ff00,#36ff00,#2cff00,#24ff00,#1fff00,#1bff00,#17ff00,#15ff00,#12ff00,#10ff00,#0fff00,#0dff00,#0cff00,#0bff00,#0aff00,#09ff00,#08ff00,#08ff00,#07ff00,#07ff00,#06ff00,#06ff00,#06ff00,#05ff00,#05ff00,#05ff00,#04ff00,#04ff00,#04ff00,#04ff00,#04ff00,#04ff00,#03ff00,#03ff00,#03ff00,#03ff00,#03ff00,#03ff00,#03ff00,#02ff00,#02ff00,#02ff00,#02ff00,#02ff00,#02ff00,#02ff00,#02ff00,#02ff00,#02ff00,#02ff00,#01ff00,#01ff00,#01ff00,#01ff00,#01ff00,#01ff00,#01ff00,#01ff00,#01ff00,#01ff00,#01ff00,#01ff00,#01ff00,#01ff00,#01ff00,#01ff00,#01ff00,#00ff00,#00ff00,#00ff00,#00ff00,#00ff00,#00ff00,#00ff00,#00ff00,#00ff00,#00ff00,#00ff00,#00ff00,#00ff00,#00ff00,#00ff00,#00ff00,#00ff00,#00ff00,#00ff00,#00ff00,#00ff00,#00ff00,#00ff00,#00ff00,#00ff00,#00ff00,#00ff00,#00ff00)"></i><i style="height:1px;background:linear-gradient(90deg,#d0ff00,#9dff00,#77ff00,#5eff00,#4dff00,#40ff00,#37ff00,#2fff00,#29ff00,#24ff00,#20ff00,#1dff00,#1aff00,#17ff00,#15ff00,#13ff00,#12ff00,#10ff00,#0fff00,#0eff00,#0dff00,#0cff00,#0bff00,#0aff00,#0aff00,#09ff00,#09ff00,#08ff00,#08ff00,#08ff00,#07ff00,#07ff00,#07ff00,#06ff00,#06ff00,#06ff00,#05ff00,#05ff00,#05ff00,#05ff00,#04ff00,#04ff00,#04ff00,#04ff00,#04ff00,#04ff00,#03ff00,#03ff00,#03ff00,#03ff00,#03ff00,#03ff00,#03ff00,#02ff00,#02ff00,#02ff00,#02ff00,#02ff00,#02ff00,#02ff00,#02ff00,#01ff00,#01ff00,#01ff00,#01ff00,#01ff00,#01ff00,#01ff00,#01ff00,#01ff00,#01ff00,#01ff00,#01ff00,#01ff00,#01ff00,#01ff00,#01ff00,#00ff00,#00ff00,#00ff00,#00ff00,#00ff00,#00ff00,#00ff00,#00ff00,#00ff00,#00ff00,#00ff00,#00ff00,#00ff00,#00ff00,#00ff00,#00ff00,#00ff00,#00ff00,#00ff00,#00ff00)"></i><i style="height:1px;background:linear-gradient(90deg,#ffee00,#d4ff00,#a4ff00,#84ff00,#6cff00,#5bff00,#4eff00,#43ff00,#3bff00,#34ff00,#2eff00,#29ff00,#25ff00,#21ff00,#1eff00,#1cff00,#19ff00,#17ff00,#15ff00,#14ff00,#12ff00,#11ff00,#10ff00,#0fff00,#0eff00,#0dff00,#0dff00,#0cff00,#0bff00,#0bff00,#0aff00,#0aff00,#09ff00,#09ff00,#09ff00,#08ff00,#08ff00,#07ff00,#07ff00,#07ff00,#06ff00,#06ff00,#06ff00,#06ff00,#05ff00,#05ff00,#05ff00,#05ff00,#04ff00,#04ff00,#04ff00,#04ff00,#04ff00,#03ff00,#03ff00,#03ff00,#03ff00,#03ff00,#03ff00,#02ff00,#02ff00,#02ff00,#02ff00,#02ff00,#02ff00,#02ff00,#01ff00,#01ff00,#01ff00,#01ff00,#01ff00,#01ff00,#01ff00,#01ff00,#01ff00,#01ff00,#01ff00,#01ff00,#01ff00,#01ff00,#01ff00,#00ff00,#00ff00,#00ff00,#00ff00,#00ff00,#00ff00,#00ff00,#00ff00,#00ff00,#00ff00,#00ff00,#00ff00,#00ff00,#00ff00,#00ff00,#00ff00)"></i><i style="height:1px;background:linear-gradient(90deg,#ffbd00,#fffb00,#cdff00,#a7ff00,#8aff00,#75ff00,#64ff00,#57ff00,#4cff00,#43ff00,#3cff00,#36ff00,#30ff00,#2bff00,#27ff00,#24ff00,#21ff00,#1eff00,#1cff00,#1aff00,#18ff00,#16ff00,#15ff00,#13ff00,#12ff00,#11ff00,#10ff00,#10ff00,#0fff00,#0eff00,#0dff00,#0dff00,#0cff00,#0cff00,#0bff00,#0bff00,#0aff00,#0aff00,#09ff00,#09ff00,#08ff00,#08ff00,#08ff00,#07ff00,#07ff00,#07ff00,#06ff00,#06ff00,#06ff00,#05ff00,#05ff00,#05ff00,#05ff00,#04ff00,#04ff00,#04ff00,#04ff00,#04ff00,#03ff00,#03ff00,#03ff00,#03ff00,#03ff00,#02ff00,#02ff00,#02ff00,#02ff00,#02ff00,#02ff00,#02ff00,#01ff00,#01ff00,#01ff00,#01ff00,#01ff00,#01ff00,#01ff00,#01ff00,#01ff00,#01ff00,#01ff00,#01ff00,#01ff00,#00ff00,#00ff00,#00ff00,#00ff00,#00ff00,#00ff00,#00ff00,#00ff00,#00ff00,#00ff00,#00ff00,#00ff00,#00ff00,#00ff00)"></i><i style="height:1px;background:linear-gradient(90deg,#ff9800,#ffd500,#f1ff00,#c7ff00,#a6ff00,#8dff00,#7aff00,#6aff00,#5dff00,#53ff00,#49ff00,#42ff00,#3bff00,#35ff00,#30ff00,#2cff00,#28ff00,#25ff00,#22ff00,#20ff00,#1eff00,#1bff00,#1aff00,#18ff00,#17ff00,#15ff00,#14ff00,#13ff00,#12ff00,#11ff00,#11ff00,#10ff00,#0fff00,#0eff00,#0eff00,#0dff00,#0cff00,#0cff00,#0bff00,#0bff00,#0aff00,#0aff00,#09ff00,#09ff00,#09ff00,#08ff00,#08ff00,#07ff00,#07ff00,#07ff00,#06ff00,#06ff00,#06ff00,#05ff00,#05ff00,#05ff00,#05ff00,#04ff00,#04ff00,#04ff00,#04ff00,#03ff00,#03ff00,#03ff00,#03ff00,#03ff00,#02ff00,#02ff00,#02ff00,#02ff00,#02ff00,#02ff00,#02ff00,#01ff00,#01ff00,#01ff00,#01ff00,#01ff00,#01ff00,#01ff00,#01ff00,#01ff00,#01ff00,#01ff00,#01ff00,#00ff00,#00ff00,#00ff00,#00ff00,#00ff00,#00ff00,#00ff00,#00ff00,#00ff00,#00ff00,#00ff00,#00ff00)"></i><i style="height:1px;background:linear-gradient(90deg,#ff7b00,#ffb500,#ffee00,#e3ff00,#c0ff00,#a5ff00,#8fff00,#7dff00,#6eff00,#61ff00,#57ff00,#4eff00,#46ff00,#3fff00,#39ff00,#34ff00,#30ff00,#2cff00,#29ff00,#26ff00,#23ff00,#21ff00,#1eff00,#1cff00,#1bff00,#19ff00,#18ff00,#17ff00,#16ff00,#15ff00,#14ff00,#13ff00,#12ff00,#11ff00,#10ff00,#10ff00,#0fff00,#0eff00,#0dff00,#0dff00,#0cff00,#0cff00,#0bff00,#0bff00,#0aff00,#0aff00,#09ff00,#09ff00,#08ff00,#08ff00,#08ff00,#07ff00,#07ff00,#07ff00,#06ff00,#06ff00,#05ff00,#05ff00,#05ff00,#05ff00,#04ff00,#04ff00,#04ff00,#03ff00,#03ff00,#03ff00,#03ff00,#03ff00,#02ff00,#02ff00,#02ff00,#02ff00,#02ff00,#02ff00,#02ff00,#02ff00,#01ff00,#01ff00,#01ff00,#01ff00,#01ff00,#01ff00,#01ff00,#01ff00,#01ff00,#01ff00,#00ff00,#00ff00,#00ff00,#00ff00,#00ff00,#00ff00,#00ff00,#00ff00,#00ff00,#00ff00,#00ff00)"></i><i style="height:1px;background:linear-gradient(90deg,#ff6500,#ff9c00,#ffd300,#fdff00,#d8ff00,#bbff00,#a2ff00,#8eff00,#7eff00,#70ff00,#64ff00,#5aff00,#51ff00,#49ff00,#42ff00,#3dff00,#38ff00,#33ff00,#2fff00,#2cff00,#29ff00,#26ff00,#23ff00,#21ff00,#1fff00,#1dff00,#1cff00,#1aff00,#19ff00,#18ff00,#17ff00,#16ff00,#15ff00,#14ff00,#13ff00,#12ff00,#11ff00,#10ff00,#10ff00,#0fff00,#0eff00,#0eff00,#0dff00,#0cff00,#0cff00,#0bff00,#0bff00,#0aff00,#0aff00,#09ff00,#09ff00,#08ff00,#08ff00,#08ff00,#07ff00,#07ff00,#06ff00,#06ff00,#06ff00,#05ff00,#05ff00,#05ff00,#04ff00,#04ff00,#04ff00,#04ff00,#03ff00,#03ff00,#03ff00,#03ff00,#02ff00,#02ff00,#02ff00,#02ff00,#02ff00,#02ff00,#02ff00,#02ff00,#01ff00,#01ff00,#01ff00,#01ff00,#01ff00,#01ff00,#01ff00,#01ff00,#01ff00,#00ff00,#00ff00,#00ff00,#00ff00,#00ff00,#00ff00,#00ff00,#00ff00,#00ff00,#00ff00)"></i><i style="height:1px;background:linear-gradient(90deg,#ff5400,#ff8700,#ffbd00,#ffea00,#eeff00,#cfff00,#b5ff00,#9fff00,#8dff00,#7eff00,#71ff00,#65ff00,#5bff00,#53ff00,#4bff00,#45ff00,#3fff00,#3aff00,#36ff00,#32ff00,#2eff00,#2bff00,#28ff00,#25ff00,#23ff00,#21ff00,#20ff00,#1eff00,#1dff00,#1bff00,#1aff00,#19ff00,#18ff00,#16ff00,#15ff00,#14ff00,#13ff00,#13ff00,#12ff00,#11ff00,#10ff00,#0fff00,#0fff00,#0eff00,#0dff00,#0dff00,#0cff00,#0cff00,#0bff00,#0bff00,#0aff00,#0aff00,#09ff00,#09ff00,#08ff00,#08ff00,#07ff00,#07ff00,#06ff00,#06ff00,#06ff00,#05ff00,#05ff00,#05ff00,#04ff00,#04ff00,#04ff00,#03ff00,#03ff00,#03ff00,#03ff00,#03ff00,#02ff00,#02ff00,#02ff00,#02ff00,#02ff00,#02ff00,#02ff00,#01ff00,#01ff00,#01ff00,#01ff00,#01ff00,#01ff00,#01ff00,#01ff00,#01ff00,#00ff00,#00ff00,#00ff00,#00ff00,#00ff00,#00ff00,#00ff00,#00ff00,#00ff00)"></i><i style="height:1px;background:linear-gradient(90deg,#ff4500,#ff7500,#ffa900,#ffd600,#fffc00,#e2ff00,#c7ff00,#b0ff00,#9cff00,#8cff00,#7dff00,#70ff00,#65ff00,#5cff00,#54ff00,#4dff00,#46ff00,#41ff00,#3cff00,#38ff00,#34ff00,#30ff00,#2dff00,#2aff00,#27ff00,#25ff00,#23ff00,#22ff00,#20ff00,#1eff00,#1dff00,#1cff00,#1aff00,#19ff00,#18ff00,#17ff00,#16ff00,#15ff00,#14ff00,#13ff00,#12ff00,#11ff00,#11ff00,#10ff00,#0fff00,#0eff00,#0eff00,#0dff00,#0cff00,#0cff00,#0bff00,#0bff00,#0aff00,#0aff00,#09ff00,#09ff00,#08ff00,#08ff00,#07ff00,#07ff00,#06ff00,#06ff00,#06ff00,#05ff00,#05ff00,#04ff00,#04ff00,#04ff00,#04ff00,#03ff00,#03ff00,#03ff00,#03ff00,#03ff00,#02ff00,#02ff00,#02ff00,#02ff00,#02ff00,#02ff00,#01ff00,#01ff00,#01ff00,#01ff00,#01ff00,#01ff00,#01ff00,#01ff00,#00ff00,#00ff00,#00ff00,#00ff00,#00ff00,#00ff00,#00ff00,#00ff00,#00ff00)"></i><i style="height:1px;background:linear-gradient(90deg,#ff3a00,#ff6700,#ff9800,#ffc400,#ffea00,#f3ff00,#d7ff00,#bfff00,#aaff00,#99ff00,#89ff00,#7bff00,#70ff00,#65ff00,#5cff00,#54ff00,#4eff00,#48ff00,#42ff00,#3dff00,#39ff00,#35ff00,#31ff00,#2eff00,#2cff00,#29ff00,#27ff00,#25ff00,#23ff00,#22ff00,#20ff00,#1fff00,#1dff00,#1cff00,#1aff00,#19ff00,#18ff00,#17ff00,#16ff00,#15ff00,#14ff00,#13ff00,#12ff00,#11ff00,#11ff00,#10ff00,#0fff00,#0eff00,#0eff00,#0dff00,#0cff00,#0cff00,#0bff00,#0bff00,#0aff00,#09ff00,#09ff00,#08ff00,#08ff00,#07ff00,#07ff00,#07ff00,#06ff00,#06ff00,#05ff00,#05ff00,#05ff00,#04ff00,#04ff00,#04ff00,#03ff00,#03ff00,#03ff00,#03ff00,#03ff00,#02ff00,#02ff00,#02ff00,#02ff00,#02ff00,#02ff00,#01ff00,#01ff00,#01ff00,#01ff00,#01ff00,#01ff00,#01ff00,#01ff00,#00ff00,#00ff00,#00ff00,#00ff00,#00ff00,#00ff00,#00ff00,#00ff00)"></i><i style="height:1px;background:linear-gradient(90deg,#ff3100,#ff5b00,#ff8900,#ffb400,#ffda00,#fffb00,#e7ff00,#ceff00,#b8ff00,#a5ff00,#95ff00,#86ff00,#7aff00,#6eff00,#65ff00,#5cff00,#55ff00,#4eff00,#48ff00,#43ff00,#3eff00,#3aff00,#36ff00,#33ff00,#30ff00,#2dff00,#2bff00,#29ff00,#27ff00,#25ff00,#23ff00,#21ff00,#20ff00,#1eff00,#1dff00,#1cff00,#1aff00,#19ff00,#18ff00,#17ff00,#16ff00,#15ff00,#14ff00,#13ff00,#12ff00,#11ff00,#11ff00,#10ff00,#0fff00,#0eff00,#0eff00,#0dff00,#0cff00,#0cff00,#0bff00,#0aff00,#0aff00,#09ff00,#09ff00,#08ff00,#08ff00,#07ff00,#07ff00,#06ff00,#06ff00,#05ff00,#05ff00,#05ff00,#04ff00,#04ff00,#04ff00,#04ff00,#03ff00,#03ff00,#03ff00,#03ff00,#03ff00,#02ff00,#02ff00,#02ff00,#02ff00,#02ff00,#01ff00,#01ff00,#01ff00,#01ff00,#01ff00,#01ff00,#01ff00,#00ff00,#00ff00,#00ff00,#00ff00,#00ff00,#00ff00,#00ff00,#00ff00)"></i><i style="height:1px;background:linear-gradient(90deg,#ff2900,#ff5000,#ff7d00,#ffa600,#ffcb00,#ffec00,#f5ff00,#dbff00,#c5ff00,#b2ff00,#a0ff00,#91ff00,#83ff00,#77ff00,#6dff00,#64ff00,#5cff00,#55ff00,#4fff00,#49ff00,#44ff00,#3fff00,#3bff00,#37ff00,#34ff00,#31ff00,#2fff00,#2cff00,#2aff00,#28ff00,#26ff00,#24ff00,#23ff00,#21ff00,#20ff00,#1eff00,#1dff00,#1bff00,#1aff00,#19ff00,#18ff00,#17ff00,#16ff00,#15ff00,#14ff00,#13ff00,#12ff00,#11ff00,#10ff00,#10ff00,#0fff00,#0eff00,#0dff00,#0dff00,#0cff00,#0bff00,#0bff00,#0aff00,#09ff00,#09ff00,#08ff00,#08ff00,#07ff00,#07ff00,#06ff00,#06ff00,#06ff00,#05ff00,#05ff00,#04ff00,#04ff00,#04ff00,#04ff00,#03ff00,#03ff00,#03ff00,#03ff00,#03ff00,#02ff00,#02ff00,#02ff00,#02ff00,#02ff00,#01ff00,#01ff00,#01ff00,#01ff00,#01ff00,#01ff00,#01ff00,#00ff00,#00ff00,#00ff00,#00ff00,#00ff00,#00ff00,#00ff00)"></i><i style="height:1px;background:linear-gradient(90deg,#ff2200,#ff4700,#ff7200,#ff9900,#ffbd00,#ffde00,#fffc00,#e8ff00,#d1ff00,#bdff00,#abff00,#9bff00,#8dff00,#80ff00,#75ff00,#6bff00,#63ff00,#5bff00,#55ff00,#4fff00,#49ff00,#44ff00,#3fff00,#3bff00,#38ff00,#35ff00,#32ff00,#30ff00,#2eff00,#2bff00,#29ff00,#27ff00,#25ff00,#24ff00,#22ff00,#21ff00,#1fff00,#1eff00,#1cff00,#1bff00,#1aff00,#19ff00,#18ff00,#16ff00,#15ff00,#14ff00,#14ff00,#13ff00,#12ff00,#11ff00,#10ff00,#0fff00,#0eff00,#0eff00,#0dff00,#0cff00,#0cff00,#0bff00,#0aff00,#0aff00,#09ff00,#08ff00,#08ff00,#07ff00,#07ff00,#06ff00,#06ff00,#06ff00,#05ff00,#05ff00,#05ff00,#04ff00,#04ff00,#04ff00,#03ff00,#03ff00,#03ff00,#03ff00,#03ff00,#02ff00,#02ff00,#02ff00,#02ff00,#01ff00,#01ff00,#01ff00,#01ff00,#01ff00,#01ff00,#01ff00,#00ff00,#00ff00,#00ff00,#00ff00,#00ff00,#00ff00,#00ff00)"></i><i style="height:1px;background:linear-gradient(90deg,#ff1d00,#ff4000,#ff6800,#ff8e00,#ffb100,#ffd200,#ffef00,#f5ff00,#ddff00,#c8ff00,#b6ff00,#a5ff00,#96ff00,#89ff00,#7dff00,#73ff00,#6aff00,#62ff00,#5bff00,#54ff00,#4eff00,#49ff00,#44ff00,#40ff00,#3cff00,#39ff00,#36ff00,#33ff00,#31ff00,#2fff00,#2cff00,#2aff00,#28ff00,#26ff00,#25ff00,#23ff00,#21ff00,#20ff00,#1eff00,#1dff00,#1cff00,#1aff00,#19ff00,#18ff00,#17ff00,#16ff00,#15ff00,#14ff00,#13ff00,#12ff00,#11ff00,#10ff00,#10ff00,#0fff00,#0eff00,#0dff00,#0cff00,#0cff00,#0bff00,#0aff00,#0aff00,#09ff00,#08ff00,#08ff00,#07ff00,#07ff00,#06ff00,#06ff00,#06ff00,#05ff00,#05ff00,#05ff00,#04ff00,#04ff00,#04ff00,#03ff00,#03ff00,#03ff00,#03ff00,#02ff00,#02ff00,#02ff00,#02ff00,#02ff00,#01ff00,#01ff00,#01ff00,#01ff00,#01ff00,#01ff00,#00ff00,#00ff00,#00ff00,#00ff00,#00ff00,#00ff00,#00ff00)"></i><i style="height:1px;background:linear-gradient(90deg,#ff1800,#ff3900,#ff5f00,#ff8400,#ffa700,#ffc600,#ffe400,#fffe00,#e8ff00,#d3ff00,#c0ff00,#aeff00,#9fff00,#91ff00,#85ff00,#7aff00,#71ff00,#68ff00,#61ff00,#5aff00,#53ff00,#4eff00,#49ff00,#44ff00,#40ff00,#3dff00,#3aff00,#37ff00,#34ff00,#32ff00,#2fff00,#2dff00,#2bff00,#29ff00,#27ff00,#25ff00,#24ff00,#22ff00,#21ff00,#1fff00,#1eff00,#1cff00,#1bff00,#1aff00,#19ff00,#18ff00,#16ff00,#15ff00,#14ff00,#13ff00,#12ff00,#12ff00,#11ff00,#10ff00,#0fff00,#0eff00,#0dff00,#0cff00,#0cff00,#0bff00,#0aff00,#0aff00,#09ff00,#08ff00,#08ff00,#07ff00,#07ff00,#06ff00,#06ff00,#06ff00,#05ff00,#05ff00,#05ff00,#04ff00,#04ff00,#04ff00,#03ff00,#03ff00,#03ff00,#03ff00,#02ff00,#02ff00,#02ff00,#02ff00,#02ff00,#01ff00,#01ff00,#01ff00,#01ff00,#01ff00,#01ff00,#00ff00,#00ff00,#00ff00,#00ff00,#00ff00,#00ff00)"></i><i style="height:1px;background:linear-gradient(90deg,#ff1400,#ff3400,#ff5800,#ff7b00,#ff9d00,#ffbc00,#ffd900,#fff300,#f3ff00,#ddff00,#caff00,#b8ff00,#a8ff00,#99ff00,#8dff00,#81ff00,#77ff00,#6eff00,#67ff00,#5fff00,#59ff00,#53ff00,#4dff00,#48ff00,#44ff00,#41ff00,#3dff00,#3aff00,#38ff00,#35ff00,#32ff00,#30ff00,#2eff00,#2cff00,#2aff00,#28ff00,#26ff00,#24ff00,#23ff00,#21ff00,#20ff00,#1eff00,#1dff00,#1bff00,#1aff00,#19ff00,#18ff00,#17ff00,#16ff00,#15ff00,#14ff00,#13ff00,#12ff00,#11ff00,#10ff00,#0fff00,#0eff00,#0dff00,#0cff00,#0cff00,#0bff00,#0aff00,#0aff00,#09ff00,#08ff00,#08ff00,#07ff00,#07ff00,#06ff00,#06ff00,#06ff00,#05ff00,#05ff00,#05ff00,#04ff00,#04ff00,#04ff00,#03ff00,#03ff00,#03ff00,#03ff00,#02ff00,#02ff00,#02ff00,#02ff00,#01ff00,#01ff00,#01ff00,#01ff00,#01ff00,#01ff00,#00ff00,#00ff00,#00ff00,#00ff00,#00ff00,#00ff00)"></i><i style="height:1px;background:linear-gradient(90deg,#ff1100,#ff2f00,#ff5100,#ff7300,#ff9400,#ffb200,#ffcf00,#ffe900,#fdff00,#e7ff00,#d3ff00,#c1ff00,#b0ff00,#a1ff00,#94ff00,#88ff00,#7eff00,#75ff00,#6cff00,#65ff00,#5eff00,#57ff00,#52ff00,#4cff00,#48ff00,#44ff00,#41ff00,#3eff00,#3bff00,#38ff00,#35ff00,#33ff00,#30ff00,#2eff00,#2cff00,#2aff00,#28ff00,#26ff00,#25ff00,#23ff00,#21ff00,#20ff00,#1fff00,#1dff00,#1cff00,#1bff00,#19ff00,#18ff00,#17ff00,#16ff00,#15ff00,#14ff00,#13ff00,#12ff00,#11ff00,#10ff00,#0fff00,#0eff00,#0dff00,#0cff00,#0cff00,#0bff00,#0aff00,#0aff00,#09ff00,#08ff00,#08ff00,#07ff00,#07ff00,#06ff00,#06ff00,#05ff00,#05ff00,#05ff00,#04ff00,#04ff00,#04ff00,#04ff00,#03ff00,#03ff00,#03ff00,#02ff00,#02ff00,#02ff00,#02ff00,#01ff00,#01ff00,#01ff00,#01ff00,#01ff00,#01ff00,#00ff00,#00ff00,#00ff00,#00ff00,#00ff00,#00ff00)"></i><i style="height:1px;background:linear-gradient(90deg,#ff0e00,#ff2b00,#ff4c00,#ff6c00,#ff8c00,#ffa900,#ffc500,#ffe000,#fff800,#f0ff00,#dcff00,#c9ff00,#b8ff00,#a9ff00,#9bff00,#8fff00,#84ff00,#7bff00,#72ff00,#6aff00,#63ff00,#5cff00,#56ff00,#51ff00,#4cff00,#48ff00,#45ff00,#41ff00,#3eff00,#3bff00,#38ff00,#36ff00,#33ff00,#31ff00,#2fff00,#2cff00,#2aff00,#29ff00,#27ff00,#25ff00,#23ff00,#22ff00,#20ff00,#1fff00,#1dff00,#1cff00,#1bff00,#1aff00,#18ff00,#17ff00,#16ff00,#15ff00,#14ff00,#13ff00,#12ff00,#11ff00,#10ff00,#0fff00,#0eff00,#0dff00,#0cff00,#0cff00,#0bff00,#0aff00,#09ff00,#09ff00,#08ff00,#08ff00,#07ff00,#07ff00,#06ff00,#06ff00,#05ff00,#05ff00,#05ff00,#04ff00,#04ff00,#04ff00,#03ff00,#03ff00,#03ff00,#03ff00,#02ff00,#02ff00,#02ff00,#02ff00,#01ff00,#01ff00,#01ff00,#01ff00,#01ff00,#00ff00,#00ff00,#00ff00,#00ff00,#00ff00,#00ff00)"></i><i style="height:1px;background:linear-gradient(90deg,#ff0c00,#ff2700,#ff4700,#ff6600,#ff8400,#ffa100,#ffbd00,#ffd700,#ffef00,#f9ff00,#e4ff00,#d2ff00,#c0ff00,#b1ff00,#a3ff00,#96ff00,#8bff00,#81ff00,#78ff00,#6fff00,#68ff00,#61ff00,#5aff00,#55ff00,#50ff00,#4cff00,#48ff00,#45ff00,#41ff00,#3eff00,#3bff00,#39ff00,#36ff00,#33ff00,#31ff00,#2fff00,#2dff00,#2bff00,#29ff00,#27ff00,#25ff00,#24ff00,#22ff00,#20ff00,#1fff00,#1eff00,#1cff00,#1bff00,#1aff00,#18ff00,#17ff00,#16ff00,#15ff00,#14ff00,#13ff00,#12ff00,#11ff00,#10ff00,#0fff00,#0eff00,#0dff00,#0cff00,#0bff00,#0bff00,#0aff00,#09ff00,#09ff00,#08ff00,#07ff00,#07ff00,#07ff00,#06ff00,#06ff00,#05ff00,#05ff00,#05ff00,#04ff00,#04ff00,#04ff00,#03ff00,#03ff00,#03ff00,#02ff00,#02ff00,#02ff00,#02ff00,#01ff00,#01ff00,#01ff00,#01ff00,#01ff00,#01ff00,#00ff00,#00ff00,#00ff00,#00ff00,#00ff00)"></i><i style="height:1px;background:linear-gradient(90deg,#ff0a00,#ff2400,#ff4200,#ff6000,#ff7e00,#ff9a00,#ffb500,#ffce00,#ffe600,#fffd00,#edff00,#daff00,#c8ff00,#b8ff00,#aaff00,#9dff00,#91ff00,#87ff00,#7dff00,#75ff00,#6dff00,#65ff00,#5fff00,#59ff00,#54ff00,#50ff00,#4cff00,#48ff00,#45ff00,#41ff00,#3eff00,#3bff00,#39ff00,#36ff00,#34ff00,#31ff00,#2fff00,#2dff00,#2bff00,#29ff00,#27ff00,#25ff00,#24ff00,#22ff00,#21ff00,#1fff00,#1eff00,#1cff00,#1bff00,#1aff00,#18ff00,#17ff00,#16ff00,#15ff00,#14ff00,#13ff00,#12ff00,#11ff00,#10ff00,#0fff00,#0eff00,#0dff00,#0cff00,#0bff00,#0aff00,#0aff00,#09ff00,#08ff00,#08ff00,#07ff00,#07ff00,#06ff00,#06ff00,#06ff00,#05ff00,#05ff00,#05ff00,#04ff00,#04ff00,#03ff00,#03ff00,#03ff00,#03ff00,#02ff00,#02ff00,#02ff00,#02ff00,#01ff00,#01ff00,#01ff00,#01ff00,#01ff00,#00ff00,#00ff00,#00ff00,#00ff00,#00ff00)"></i><i style="height:1px;background:linear-gradient(90deg,#ff0900,#ff2100,#ff3e00,#ff5b00,#ff7700,#ff9300,#ffae00,#ffc700,#ffde00,#fff500,#f5ff00,#e1ff00,#cfff00,#bfff00,#b0ff00,#a3ff00,#97ff00,#8cff00,#83ff00,#7aff00,#72ff00,#6aff00,#63ff00,#5dff00,#58ff00,#53ff00,#4fff00,#4bff00,#48ff00,#44ff00,#41ff00,#3eff00,#3bff00,#39ff00,#36ff00,#34ff00,#31ff00,#2fff00,#2dff00,#2bff00,#29ff00,#27ff00,#25ff00,#24ff00,#22ff00,#21ff00,#1fff00,#1eff00,#1cff00,#1bff00,#1aff00,#18ff00,#17ff00,#16ff00,#15ff00,#14ff00,#12ff00,#11ff00,#10ff00,#0fff00,#0eff00,#0dff00,#0dff00,#0cff00,#0bff00,#0aff00,#0aff00,#09ff00,#08ff00,#08ff00,#07ff00,#07ff00,#06ff00,#06ff00,#05ff00,#05ff00,#05ff00,#04ff00,#04ff00,#04ff00,#03ff00,#03ff00,#03ff00,#02ff00,#02ff00,#02ff00,#02ff00,#01ff00,#01ff00,#01ff00,#01ff00,#01ff00,#00ff00,#00ff00,#00ff00,#00ff00,#00ff00)"></i><i style="height:1px;background:linear-gradient(90deg,#ff0700,#ff1f00,#ff3b00,#ff5600,#ff7200,#ff8d00,#ffa700,#ffbf00,#ffd700,#ffed00,#fcff00,#e9ff00,#d7ff00,#c6ff00,#b7ff00,#a9ff00,#9dff00,#92ff00,#88ff00,#7fff00,#76ff00,#6fff00,#67ff00,#61ff00,#5cff00,#57ff00,#53ff00,#4fff00,#4bff00,#47ff00,#44ff00,#41ff00,#3eff00,#3bff00,#38ff00,#36ff00,#33ff00,#31ff00,#2fff00,#2dff00,#2bff00,#29ff00,#27ff00,#25ff00,#24ff00,#22ff00,#20ff00,#1fff00,#1eff00,#1cff00,#1bff00,#19ff00,#18ff00,#17ff00,#16ff00,#14ff00,#13ff00,#12ff00,#11ff00,#10ff00,#0fff00,#0eff00,#0dff00,#0cff00,#0bff00,#0bff00,#0aff00,#09ff00,#09ff00,#08ff00,#08ff00,#07ff00,#07ff00,#06ff00,#06ff00,#05ff00,#05ff00,#05ff00,#04ff00,#04ff00,#03ff00,#03ff00,#03ff00,#02ff00,#02ff00,#02ff00,#02ff00,#01ff00,#01ff00,#01ff00,#01ff00,#01ff00,#00ff00,#00ff00,#00ff00,#00ff00,#00ff00)"></i><i style="height:1px;background:linear-gradient(90deg,#ff0600,#ff1d00,#ff3700,#ff5200,#ff6d00,#ff8700,#ffa000,#ffb900,#ffd000,#ffe600,#fffb00,#f0ff00,#ddff00,#cdff00,#bdff00,#b0ff00,#a3ff00,#98ff00,#8dff00,#84ff00,#7bff00,#73ff00,#6cff00,#65ff00,#5fff00,#5bff00,#56ff00,#52ff00,#4eff00,#4aff00,#47ff00,#44ff00,#41ff00,#3eff00,#3bff00,#38ff00,#36ff00,#33ff00,#31ff00,#2fff00,#2dff00,#2bff00,#29ff00,#27ff00,#25ff00,#24ff00,#22ff00,#20ff00,#1fff00,#1dff00,#1cff00,#1bff00,#19ff00,#18ff00,#17ff00,#15ff00,#14ff00,#13ff00,#12ff00,#11ff00,#10ff00,#0fff00,#0eff00,#0dff00,#0cff00,#0bff00,#0aff00,#0aff00,#09ff00,#08ff00,#08ff00,#07ff00,#07ff00,#06ff00,#06ff00,#06ff00,#05ff00,#05ff00,#04ff00,#04ff00,#04ff00,#03ff00,#03ff00,#03ff00,#02ff00,#02ff00,#02ff00,#01ff00,#01ff00,#01ff00,#01ff00,#01ff00,#00ff00,#00ff00,#00ff00,#00ff00,#00ff00)"></i><i style="height:1px;background:linear-gradient(90deg,#ff0500,#ff1b00,#ff3500,#ff4f00,#ff6800,#ff8200,#ff9a00,#ffb200,#ffc900,#ffdf00,#fff400,#f6ff00,#e4ff00,#d3ff00,#c4ff00,#b6ff00,#a9ff00,#9dff00,#93ff00,#89ff00,#80ff00,#77ff00,#70ff00,#69ff00,#63ff00,#5eff00,#5aff00,#55ff00,#51ff00,#4dff00,#4aff00,#46ff00,#43ff00,#40ff00,#3dff00,#3aff00,#38ff00,#35ff00,#33ff00,#31ff00,#2fff00,#2cff00,#2aff00,#29ff00,#27ff00,#25ff00,#23ff00,#22ff00,#20ff00,#1fff00,#1dff00,#1cff00,#1aff00,#19ff00,#18ff00,#16ff00,#15ff00,#14ff00,#13ff00,#11ff00,#10ff00,#0fff00,#0eff00,#0dff00,#0cff00,#0cff00,#0bff00,#0aff00,#09ff00,#09ff00,#08ff00,#08ff00,#07ff00,#07ff00,#06ff00,#06ff00,#05ff00,#05ff00,#05ff00,#04ff00,#04ff00,#03ff00,#03ff00,#03ff00,#02ff00,#02ff00,#02ff00,#02ff00,#01ff00,#01ff00,#01ff00,#01ff00,#00ff00,#00ff00,#00ff00,#00ff00,#00ff00)"></i><i style="height:1px;background:linear-gradient(90deg,#ff0400,#ff1900,#ff3200,#ff4b00,#ff6400,#ff7d00,#ff9500,#ffac00,#ffc300,#ffd900,#ffed00,#fdff00,#eaff00,#d9ff00,#caff00,#bbff00,#aeff00,#a3ff00,#98ff00,#8eff00,#84ff00,#7cff00,#74ff00,#6dff00,#67ff00,#62ff00,#5dff00,#59ff00,#54ff00,#50ff00,#4dff00,#49ff00,#46ff00,#43ff00,#40ff00,#3dff00,#3aff00,#37ff00,#35ff00,#33ff00,#30ff00,#2eff00,#2cff00,#2aff00,#28ff00,#26ff00,#25ff00,#23ff00,#21ff00,#20ff00,#1eff00,#1dff00,#1bff00,#1aff00,#18ff00,#17ff00,#16ff00,#14ff00,#13ff00,#12ff00,#11ff00,#10ff00,#0fff00,#0eff00,#0dff00,#0cff00,#0bff00,#0aff00,#0aff00,#09ff00,#09ff00,#08ff00,#07ff00,#07ff00,#07ff00,#06ff00,#06ff00,#05ff00,#05ff00,#04ff00,#04ff00,#04ff00,#03ff00,#03ff00,#02ff00,#02ff00,#02ff00,#02ff00,#01ff00,#01ff00,#01ff00,#01ff00,#00ff00,#00ff00,#00ff00,#00ff00,#00ff00)"></i><i style="height:1px;background:linear-gradient(90deg,#ff0400,#ff1800,#ff3000,#ff4800,#ff6000,#ff7800,#ff9000,#ffa700,#ffbd00,#ffd300,#ffe700,#fffb00,#f1ff00,#e0ff00,#d0ff00,#c1ff00,#b4ff00,#a8ff00,#9dff00,#92ff00,#89ff00,#80ff00,#78ff00,#71ff00,#6bff00,#65ff00,#60ff00,#5cff00,#57ff00,#53ff00,#50ff00,#4cff00,#48ff00,#45ff00,#42ff00,#3fff00,#3cff00,#3aff00,#37ff00,#35ff00,#32ff00,#30ff00,#2eff00,#2cff00,#2aff00,#28ff00,#26ff00,#24ff00,#23ff00,#21ff00,#1fff00,#1eff00,#1cff00,#1bff00,#19ff00,#18ff00,#17ff00,#15ff00,#14ff00,#13ff00,#12ff00,#10ff00,#0fff00,#0eff00,#0dff00,#0dff00,#0cff00,#0bff00,#0aff00,#09ff00,#09ff00,#08ff00,#08ff00,#07ff00,#07ff00,#06ff00,#06ff00,#05ff00,#05ff00,#04ff00,#04ff00,#04ff00,#03ff00,#03ff00,#03ff00,#02ff00,#02ff00,#02ff00,#01ff00,#01ff00,#01ff00,#01ff00,#00ff00,#00ff00,#00ff00,#00ff00,#00ff00)"></i><i style="height:1px;background:linear-gradient(90deg,#ff0400,#ff1700,#ff2e00,#ff4500,#ff5d00,#ff7400,#ff8b00,#ffa200,#ffb800,#ffcd00,#ffe100,#fff500,#f7ff00,#e5ff00,#d5ff00,#c7ff00,#b9ff00,#adff00,#a2ff00,#97ff00,#8dff00,#84ff00,#7cff00,#75ff00,#6eff00,#69ff00,#64ff00,#5fff00,#5bff00,#56ff00,#52ff00,#4fff00,#4bff00,#48ff00,#44ff00,#41ff00,#3eff00,#3cff00,#39ff00,#36ff00,#34ff00,#32ff00,#2fff00,#2dff00,#2bff00,#29ff00,#28ff00,#26ff00,#24ff00,#22ff00,#21ff00,#1fff00,#1dff00,#1cff00,#1aff00,#19ff00,#17ff00,#16ff00,#15ff00,#13ff00,#12ff00,#11ff00,#10ff00,#0fff00,#0eff00,#0dff00,#0cff00,#0bff00,#0bff00,#0aff00,#09ff00,#09ff00,#08ff00,#08ff00,#07ff00,#07ff00,#06ff00,#06ff00,#05ff00,#05ff00,#04ff00,#04ff00,#03ff00,#03ff00,#03ff00,#02ff00,#02ff00,#02ff00,#01ff00,#01ff00,#01ff00,#01ff00,#01ff00,#00ff00,#00ff00,#00ff00,#00ff00)"></i><i style="height:1px;background:linear-gradient(90deg,#ff0300,#ff1600,#ff2c00,#ff4300,#ff5a00,#ff7000,#ff8700,#ff9d00,#ffb300,#ffc800,#ffdc00,#ffef00,#fcff00,#ebff00,#dbff00,#ccff00,#beff00,#b2ff00,#a6ff00,#9cff00,#92ff00,#89ff00,#80ff00,#78ff00,#72ff00,#6cff00,#67ff00,#62ff00,#5eff00,#59ff00,#55ff00,#51ff00,#4eff00,#4aff00,#47ff00,#44ff00,#41ff00,#3eff00,#3bff00,#38ff00,#36ff00,#33ff00,#31ff00,#2fff00,#2dff00,#2bff00,#29ff00,#27ff00,#25ff00,#23ff00,#22ff00,#20ff00,#1eff00,#1dff00,#1bff00,#1aff00,#18ff00,#17ff00,#15ff00,#14ff00,#13ff00,#12ff00,#11ff00,#0fff00,#0eff00,#0dff00,#0dff00,#0cff00,#0bff00,#0aff00,#09ff00,#09ff00,#08ff00,#08ff00,#07ff00,#07ff00,#06ff00,#06ff00,#05ff00,#05ff00,#04ff00,#04ff00,#04ff00,#03ff00,#03ff00,#02ff00,#02ff00,#02ff00,#01ff00,#01ff00,#01ff00,#01ff00,#01ff00,#00ff00,#00ff00,#00ff00,#00ff00)"></i><i style="height:1px;background:linear-gradient(90deg,#ff0300,#ff1500,#ff2b00,#ff4100,#ff5700,#ff6d00,#ff8300,#ff9800,#ffae00,#ffc200,#ffd600,#ffea00,#fffc00,#f0ff00,#e0ff00,#d1ff00,#c4ff00,#b7ff00,#abff00,#a0ff00,#96ff00,#8dff00,#84ff00,#7cff00,#76ff00,#70ff00,#6aff00,#65ff00,#61ff00,#5cff00,#58ff00,#54ff00,#50ff00,#4cff00,#49ff00,#46ff00,#43ff00,#40ff00,#3dff00,#3aff00,#38ff00,#35ff00,#33ff00,#31ff00,#2eff00,#2cff00,#2aff00,#28ff00,#26ff00,#25ff00,#23ff00,#21ff00,#1fff00,#1eff00,#1cff00,#1bff00,#19ff00,#18ff00,#16ff00,#15ff00,#14ff00,#12ff00,#11ff00,#10ff00,#0fff00,#0eff00,#0dff00,#0cff00,#0bff00,#0bff00,#0aff00,#09ff00,#09ff00,#08ff00,#08ff00,#07ff00,#06ff00,#06ff00,#05ff00,#05ff00,#05ff00,#04ff00,#04ff00,#03ff00,#03ff00,#03ff00,#02ff00,#02ff00,#02ff00,#01ff00,#01ff00,#01ff00,#01ff00,#00ff00,#00ff00,#00ff00,#00ff00)"></i><i style="height:1px;background:linear-gradient(90deg,#ff0300,#ff1500,#ff2900,#ff3f00,#ff5400,#ff6a00,#ff7f00,#ff9400,#ffa900,#ffbe00,#ffd100,#ffe500,#fff700,#f6ff00,#e5ff00,#d6ff00,#c8ff00,#bcff00,#b0ff00,#a5ff00,#9aff00,#91ff00,#88ff00,#80ff00,#79ff00,#73ff00,#6eff00,#68ff00,#64ff00,#5fff00,#5bff00,#56ff00,#53ff00,#4fff00,#4bff00,#48ff00,#45ff00,#42ff00,#3fff00,#3cff00,#39ff00,#37ff00,#34ff00,#32ff00,#30ff00,#2eff00,#2cff00,#2aff00,#28ff00,#26ff00,#24ff00,#22ff00,#20ff00,#1fff00,#1dff00,#1bff00,#1aff00,#18ff00,#17ff00,#16ff00,#14ff00,#13ff00,#12ff00,#11ff00,#0fff00,#0eff00,#0dff00,#0dff00,#0cff00,#0bff00,#0aff00,#09ff00,#09ff00,#08ff00,#08ff00,#07ff00,#07ff00,#06ff00,#06ff00,#05ff00,#05ff00,#04ff00,#04ff00,#03ff00,#03ff00,#03ff00,#02ff00,#02ff00,#02ff00,#01ff00,#01ff00,#01ff00,#01ff00,#00ff00,#00ff00,#00ff00,#00ff00)"></i><i style="height:1px;background:linear-gradient(90deg,#ff0300,#ff1400,#ff2800,#ff3d00,#ff5200,#ff6700,#ff7c00,#ff9000,#ffa500,#ffb900,#ffcd00,#ffe000,#fff200,#fbff00,#ebff00,#dbff00,#cdff00,#c0ff00,#b4ff00,#a9ff00,#9fff00,#95ff00,#8cff00,#84ff00,#7dff00,#76ff00,#71ff00,#6bff00,#66ff00,#62ff00,#5dff00,#59ff00,#55ff00,#51ff00,#4eff00,#4aff00,#47ff00,#44ff00,#41ff00,#3eff00,#3bff00,#39ff00,#36ff00,#34ff00,#31ff00,#2fff00,#2dff00,#2bff00,#29ff00,#27ff00,#25ff00,#23ff00,#22ff00,#20ff00,#1eff00,#1cff00,#1bff00,#19ff00,#18ff00,#16ff00,#15ff00,#14ff00,#12ff00,#11ff00,#10ff00,#0fff00,#0eff00,#0dff00,#0cff00,#0bff00,#0aff00,#0aff00,#09ff00,#09ff00,#08ff00,#07ff00,#07ff00,#06ff00,#06ff00,#05ff00,#05ff00,#04ff00,#04ff00,#03ff00,#03ff00,#03ff00,#02ff00,#02ff00,#02ff00,#01ff00,#01ff00,#01ff00,#01ff00,#00ff00,#00ff00,#00ff00,#00ff00)"></i><i style="height:1px;background:linear-gradient(90deg,#ff0300,#ff1400,#ff2700,#ff3b00,#ff5000,#ff6400,#ff7800,#ff8d00,#ffa100,#ffb500,#ffc800,#ffdb00,#ffed00,#fffe00,#efff00,#e0ff00,#d2ff00,#c5ff00,#b9ff00,#adff00,#a3ff00,#99ff00,#8fff00,#87ff00,#80ff00,#7aff00,#74ff00,#6eff00,#69ff00,#65ff00,#60ff00,#5cff00,#57ff00,#54ff00,#50ff00,#4cff00,#49ff00,#46ff00,#43ff00,#40ff00,#3dff00,#3aff00,#38ff00,#35ff00,#33ff00,#31ff00,#2eff00,#2cff00,#2aff00,#28ff00,#26ff00,#24ff00,#23ff00,#21ff00,#1fff00,#1dff00,#1cff00,#1aff00,#18ff00,#17ff00,#15ff00,#14ff00,#13ff00,#12ff00,#10ff00,#0fff00,#0eff00,#0dff00,#0cff00,#0cff00,#0bff00,#0aff00,#09ff00,#09ff00,#08ff00,#08ff00,#07ff00,#07ff00,#06ff00,#05ff00,#05ff00,#05ff00,#04ff00,#04ff00,#03ff00,#03ff00,#02ff00,#02ff00,#02ff00,#01ff00,#01ff00,#01ff00,#01ff00,#00ff00,#00ff00,#00ff00,#00ff00)"></i><i style="height:1px;background:linear-gradient(90deg,#ff0400,#ff1300,#ff2700,#ff3a00,#ff4e00,#ff6100,#ff7500,#ff8900,#ff9d00,#ffb000,#ffc400,#ffd600,#ffe800,#fffa00,#f4ff00,#e5ff00,#d7ff00,#c9ff00,#bdff00,#b2ff00,#a7ff00,#9dff00,#93ff00,#8bff00,#83ff00,#7dff00,#77ff00,#71ff00,#6cff00,#67ff00,#63ff00,#5eff00,#5aff00,#56ff00,#52ff00,#4eff00,#4bff00,#48ff00,#45ff00,#42ff00,#3fff00,#3cff00,#39ff00,#37ff00,#34ff00,#32ff00,#30ff00,#2eff00,#2bff00,#29ff00,#27ff00,#25ff00,#24ff00,#22ff00,#20ff00,#1eff00,#1cff00,#1bff00,#19ff00,#18ff00,#16ff00,#15ff00,#13ff00,#12ff00,#11ff00,#10ff00,#0fff00,#0eff00,#0dff00,#0cff00,#0bff00,#0aff00,#0aff00,#09ff00,#09ff00,#08ff00,#07ff00,#07ff00,#06ff00,#06ff00,#05ff00,#05ff00,#04ff00,#04ff00,#03ff00,#03ff00,#02ff00,#02ff00,#02ff00,#01ff00,#01ff00,#01ff00,#01ff00,#00ff00,#00ff00,#00ff00,#00ff00)"></i><i style="height:1px;background:linear-gradient(90deg,#ff0400,#ff1300,#ff2600,#ff3900,#ff4c00,#ff5f00,#ff7300,#ff8600,#ff9900,#ffad00,#ffc000,#ffd200,#ffe400,#fff500,#f9ff00,#e9ff00,#dbff00,#ceff00,#c1ff00,#b6ff00,#abff00,#a0ff00,#97ff00,#8eff00,#87ff00,#80ff00,#7aff00,#74ff00,#6fff00,#6aff00,#65ff00,#61ff00,#5cff00,#58ff00,#54ff00,#51ff00,#4dff00,#4aff00,#46ff00,#43ff00,#40ff00,#3eff00,#3bff00,#38ff00,#36ff00,#33ff00,#31ff00,#2fff00,#2dff00,#2bff00,#29ff00,#27ff00,#25ff00,#23ff00,#21ff00,#1fff00,#1dff00,#1bff00,#1aff00,#18ff00,#17ff00,#15ff00,#14ff00,#13ff00,#11ff00,#10ff00,#0fff00,#0eff00,#0dff00,#0cff00,#0bff00,#0bff00,#0aff00,#09ff00,#09ff00,#08ff00,#08ff00,#07ff00,#06ff00,#06ff00,#05ff00,#05ff00,#04ff00,#04ff00,#03ff00,#03ff00,#03ff00,#02ff00,#02ff00,#01ff00,#01ff00,#01ff00,#01ff00,#00ff00,#00ff00,#00ff00,#00ff00)"></i><i style="height:1px;background:linear-gradient(90deg,#ff0400,#ff1300,#ff2500,#ff3800,#ff4a00,#ff5d00,#ff7000,#ff8300,#ff9600,#ffa900,#ffbc00,#ffce00,#ffe000,#fff100,#fdff00,#eeff00,#dfff00,#d2ff00,#c5ff00,#baff00,#afff00,#a4ff00,#9aff00,#92ff00,#8aff00,#83ff00,#7dff00,#77ff00,#72ff00,#6dff00,#68ff00,#63ff00,#5fff00,#5bff00,#57ff00,#53ff00,#4fff00,#4cff00,#48ff00,#45ff00,#42ff00,#3fff00,#3cff00,#3aff00,#37ff00,#35ff00,#32ff00,#30ff00,#2eff00,#2cff00,#2aff00,#28ff00,#26ff00,#24ff00,#22ff00,#20ff00,#1eff00,#1cff00,#1bff00,#19ff00,#17ff00,#16ff00,#15ff00,#13ff00,#12ff00,#11ff00,#10ff00,#0fff00,#0eff00,#0dff00,#0cff00,#0bff00,#0aff00,#0aff00,#09ff00,#08ff00,#08ff00,#07ff00,#07ff00,#06ff00,#05ff00,#05ff00,#04ff00,#04ff00,#03ff00,#03ff00,#03ff00,#02ff00,#02ff00,#02ff00,#01ff00,#01ff00,#01ff00,#00ff00,#00ff00,#00ff00,#00ff00)"></i><i style="height:1px;background:linear-gradient(90deg,#ff0500,#ff1300,#ff2500,#ff3700,#ff4900,#ff5b00,#ff6e00,#ff8000,#ff9300,#ffa600,#ffb800,#ffca00,#ffdc00,#ffed00,#fffd00,#f2ff00,#e4ff00,#d6ff00,#c9ff00,#beff00,#b2ff00,#a8ff00,#9eff00,#95ff00,#8dff00,#86ff00,#80ff00,#7aff00,#75ff00,#6fff00,#6aff00,#66ff00,#61ff00,#5dff00,#59ff00,#55ff00,#51ff00,#4eff00,#4aff00,#47ff00,#44ff00,#41ff00,#3eff00,#3bff00,#39ff00,#36ff00,#34ff00,#31ff00,#2fff00,#2dff00,#2bff00,#29ff00,#27ff00,#25ff00,#23ff00,#21ff00,#1fff00,#1dff00,#1bff00,#1aff00,#18ff00,#17ff00,#15ff00,#14ff00,#12ff00,#11ff00,#10ff00,#0fff00,#0eff00,#0dff00,#0cff00,#0bff00,#0bff00,#0aff00,#09ff00,#09ff00,#08ff00,#07ff00,#07ff00,#06ff00,#06ff00,#05ff00,#05ff00,#04ff00,#04ff00,#03ff00,#03ff00,#02ff00,#02ff00,#02ff00,#01ff00,#01ff00,#01ff00,#00ff00,#00ff00,#00ff00,#00ff00)"></i><i style="height:1px;background:linear-gradient(90deg,#ff0500,#ff1300,#ff2400,#ff3600,#ff4700,#ff5900,#ff6b00,#ff7e00,#ff9000,#ffa200,#ffb400,#ffc600,#ffd800,#ffe900,#fff900,#f6ff00,#e8ff00,#daff00,#cdff00,#c1ff00,#b6ff00,#abff00,#a1ff00,#98ff00,#90ff00,#8aff00,#83ff00,#7dff00,#77ff00,#72ff00,#6dff00,#68ff00,#63ff00,#5fff00,#5bff00,#57ff00,#53ff00,#50ff00,#4cff00,#49ff00,#46ff00,#43ff00,#40ff00,#3dff00,#3aff00,#38ff00,#35ff00,#33ff00,#30ff00,#2eff00,#2cff00,#2aff00,#28ff00,#25ff00,#23ff00,#22ff00,#20ff00,#1eff00,#1cff00,#1aff00,#19ff00,#17ff00,#16ff00,#14ff00,#13ff00,#12ff00,#10ff00,#0fff00,#0eff00,#0dff00,#0cff00,#0cff00,#0bff00,#0aff00,#09ff00,#09ff00,#08ff00,#08ff00,#07ff00,#06ff00,#06ff00,#05ff00,#05ff00,#04ff00,#04ff00,#03ff00,#03ff00,#02ff00,#02ff00,#02ff00,#01ff00,#01ff00,#01ff00,#00ff00,#00ff00,#00ff00,#00ff00)"></i><i style="height:1px;background:linear-gradient(90deg,#ff0600,#ff1400,#ff2400,#ff3500,#ff4600,#ff5800,#ff6900,#ff7b00,#ff8d00,#ff9f00,#ffb100,#ffc300,#ffd400,#ffe500,#fff500,#faff00,#ecff00,#deff00,#d1ff00,#c5ff00,#baff00,#afff00,#a5ff00,#9cff00,#94ff00,#8dff00,#86ff00,#80ff00,#7aff00,#75ff00,#6fff00,#6bff00,#66ff00,#61ff00,#5dff00,#59ff00,#55ff00,#51ff00,#4eff00,#4bff00,#47ff00,#44ff00,#41ff00,#3eff00,#3cff00,#39ff00,#36ff00,#34ff00,#32ff00,#2fff00,#2dff00,#2bff00,#29ff00,#26ff00,#24ff00,#22ff00,#20ff00,#1fff00,#1dff00,#1bff00,#19ff00,#18ff00,#16ff00,#15ff00,#13ff00,#12ff00,#11ff00,#10ff00,#0fff00,#0eff00,#0dff00,#0cff00,#0bff00,#0aff00,#0aff00,#09ff00,#08ff00,#08ff00,#07ff00,#06ff00,#06ff00,#05ff00,#05ff00,#04ff00,#04ff00,#03ff00,#03ff00,#02ff00,#02ff00,#02ff00,#01ff00,#01ff00,#01ff00,#00ff00,#00ff00,#00ff00,#00ff00)"></i><i style="height:1px;background:linear-gradient(90deg,#ff0600,#ff1400,#ff2400,#ff3400,#ff4500,#ff5600,#ff6700,#ff7900,#ff8b00,#ff9c00,#ffae00,#ffbf00,#ffd000,#ffe100,#fff100,#feff00,#efff00,#e2ff00,#d5ff00,#c9ff00,#bdff00,#b2ff00,#a8ff00,#9fff00,#97ff00,#90ff00,#89ff00,#83ff00,#7dff00,#77ff00,#72ff00,#6dff00,#68ff00,#64ff00,#5fff00,#5bff00,#57ff00,#53ff00,#50ff00,#4cff00,#49ff00,#46ff00,#43ff00,#40ff00,#3dff00,#3aff00,#38ff00,#35ff00,#33ff00,#30ff00,#2eff00,#2cff00,#2aff00,#27ff00,#25ff00,#23ff00,#21ff00,#1fff00,#1dff00,#1cff00,#1aff00,#18ff00,#17ff00,#15ff00,#14ff00,#13ff00,#11ff00,#10ff00,#0fff00,#0eff00,#0dff00,#0cff00,#0bff00,#0bff00,#0aff00,#09ff00,#09ff00,#08ff00,#07ff00,#07ff00,#06ff00,#05ff00,#05ff00,#04ff00,#04ff00,#03ff00,#03ff00,#02ff00,#02ff00,#02ff00,#01ff00,#01ff00,#01ff00,#00ff00,#00ff00,#00ff00,#00ff00)"></i><i style="height:1px;background:linear-gradient(90deg,#ff0700,#ff1400,#ff2400,#ff3400,#ff4400,#ff5500,#ff6600,#ff7700,#ff8800,#ff9a00,#ffab00,#ffbc00,#ffcd00,#ffdd00,#ffed00,#fffc00,#f3ff00,#e5ff00,#d9ff00,#ccff00,#c1ff00,#b6ff00,#abff00,#a2ff00,#9aff00,#92ff00,#8cff00,#85ff00,#80ff00,#7aff00,#74ff00,#6fff00,#6aff00,#66ff00,#61ff00,#5dff00,#59ff00,#55ff00,#52ff00,#4eff00,#4bff00,#47ff00,#44ff00,#41ff00,#3eff00,#3cff00,#39ff00,#36ff00,#34ff00,#32ff00,#2fff00,#2dff00,#2bff00,#28ff00,#26ff00,#24ff00,#22ff00,#20ff00,#1eff00,#1cff00,#1bff00,#19ff00,#17ff00,#16ff00,#14ff00,#13ff00,#12ff00,#10ff00,#0fff00,#0eff00,#0dff00,#0cff00,#0cff00,#0bff00,#0aff00,#0aff00,#09ff00,#08ff00,#07ff00,#07ff00,#06ff00,#06ff00,#05ff00,#04ff00,#04ff00,#03ff00,#03ff00,#03ff00,#02ff00,#02ff00,#01ff00,#01ff00,#01ff00,#01ff00,#00ff00,#00ff00,#00ff00)"></i><i style="height:1px;background:linear-gradient(90deg,#ff0800,#ff1500,#ff2400,#ff3400,#ff4300,#ff5400,#ff6400,#ff7500,#ff8600,#ff9700,#ffa800,#ffb900,#ffca00,#ffda00,#ffea00,#fff900,#f7ff00,#e9ff00,#dcff00,#d0ff00,#c4ff00,#b9ff00,#afff00,#a5ff00,#9dff00,#95ff00,#8fff00,#88ff00,#82ff00,#7cff00,#77ff00,#72ff00,#6dff00,#68ff00,#63ff00,#5fff00,#5bff00,#57ff00,#53ff00,#50ff00,#4cff00,#49ff00,#46ff00,#43ff00,#40ff00,#3dff00,#3aff00,#38ff00,#35ff00,#33ff00,#30ff00,#2eff00,#2cff00,#29ff00,#27ff00,#25ff00,#23ff00,#21ff00,#1fff00,#1dff00,#1bff00,#19ff00,#18ff00,#16ff00,#15ff00,#13ff00,#12ff00,#11ff00,#10ff00,#0fff00,#0eff00,#0dff00,#0cff00,#0bff00,#0aff00,#0aff00,#09ff00,#08ff00,#08ff00,#07ff00,#06ff00,#06ff00,#05ff00,#05ff00,#04ff00,#04ff00,#03ff00,#03ff00,#02ff00,#02ff00,#01ff00,#01ff00,#01ff00,#01ff00,#00ff00,#00ff00,#00ff00)"></i><i style="height:1px;background:linear-gradient(90deg,#ff0900,#ff1500,#ff2400,#ff3300,#ff4300,#ff5300,#ff6300,#ff7300,#ff8400,#ff9500,#ffa500,#ffb600,#ffc700,#ffd700,#ffe600,#fff500,#faff00,#edff00,#e0ff00,#d3ff00,#c8ff00,#bcff00,#b2ff00,#a8ff00,#a0ff00,#98ff00,#91ff00,#8bff00,#85ff00,#7fff00,#79ff00,#74ff00,#6fff00,#6aff00,#65ff00,#61ff00,#5dff00,#59ff00,#55ff00,#51ff00,#4eff00,#4bff00,#47ff00,#44ff00,#41ff00,#3eff00,#3cff00,#39ff00,#36ff00,#34ff00,#31ff00,#2fff00,#2cff00,#2aff00,#28ff00,#26ff00,#24ff00,#22ff00,#20ff00,#1eff00,#1cff00,#1aff00,#18ff00,#17ff00,#15ff00,#14ff00,#12ff00,#11ff00,#10ff00,#0fff00,#0eff00,#0dff00,#0cff00,#0bff00,#0bff00,#0aff00,#09ff00,#09ff00,#08ff00,#07ff00,#06ff00,#06ff00,#05ff00,#05ff00,#04ff00,#04ff00,#03ff00,#03ff00,#02ff00,#02ff00,#01ff00,#01ff00,#01ff00,#01ff00,#00ff00,#00ff00,#00ff00)"></i><i style="height:1px;background:linear-gradient(90deg,#ff0900,#ff1600,#ff2400,#ff3300,#ff4200,#ff5200,#ff6100,#ff7100,#ff8200,#ff9200,#ffa300,#ffb300,#ffc400,#ffd400,#ffe300,#fff200,#feff00,#f0ff00,#e3ff00,#d7ff00,#cbff00,#c0ff00,#b5ff00,#abff00,#a3ff00,#9bff00,#94ff00,#8eff00,#87ff00,#81ff00,#7cff00,#76ff00,#71ff00,#6cff00,#68ff00,#63ff00,#5fff00,#5bff00,#57ff00,#53ff00,#50ff00,#4cff00,#49ff00,#46ff00,#43ff00,#40ff00,#3dff00,#3aff00,#37ff00,#35ff00,#32ff00,#30ff00,#2dff00,#2bff00,#29ff00,#27ff00,#24ff00,#22ff00,#20ff00,#1eff00,#1cff00,#1bff00,#19ff00,#17ff00,#16ff00,#14ff00,#13ff00,#12ff00,#10ff00,#0fff00,#0eff00,#0dff00,#0dff00,#0cff00,#0bff00,#0aff00,#09ff00,#09ff00,#08ff00,#07ff00,#07ff00,#06ff00,#05ff00,#05ff00,#04ff00,#04ff00,#03ff00,#03ff00,#02ff00,#02ff00,#01ff00,#01ff00,#01ff00,#01ff00,#00ff00,#00ff00,#00ff00)"></i><i style="height:1px;background:linear-gradient(90deg,#ff0a00,#ff1600,#ff2400,#ff3300,#ff4200,#ff5100,#ff6000,#ff7000,#ff8000,#ff9000,#ffa000,#ffb100,#ffc100,#ffd100,#ffe000,#ffef00,#fffd00,#f3ff00,#e6ff00,#daff00,#ceff00,#c3ff00,#b8ff00,#aeff00,#a5ff00,#9eff00,#97ff00,#90ff00,#8aff00,#84ff00,#7eff00,#78ff00,#73ff00,#6eff00,#6aff00,#65ff00,#61ff00,#5dff00,#59ff00,#55ff00,#51ff00,#4eff00,#4aff00,#47ff00,#44ff00,#41ff00,#3eff00,#3bff00,#39ff00,#36ff00,#33ff00,#31ff00,#2eff00,#2cff00,#2aff00,#27ff00,#25ff00,#23ff00,#21ff00,#1fff00,#1dff00,#1bff00,#19ff00,#18ff00,#16ff00,#15ff00,#13ff00,#12ff00,#11ff00,#10ff00,#0fff00,#0eff00,#0dff00,#0cff00,#0bff00,#0aff00,#0aff00,#09ff00,#08ff00,#07ff00,#07ff00,#06ff00,#05ff00,#05ff00,#04ff00,#04ff00,#03ff00,#03ff00,#02ff00,#02ff00,#01ff00,#01ff00,#01ff00,#01ff00,#00ff00,#00ff00,#00ff00)"></i><i style="height:1px;background:linear-gradient(90deg,#ff0b00,#ff1700,#ff2500,#ff3300,#ff4100,#ff5000,#ff5f00,#ff6e00,#ff7e00,#ff8e00,#ff9e00,#ffae00,#ffbe00,#ffce00,#ffdd00,#ffec00,#fffa00,#f6ff00,#eaff00,#ddff00,#d1ff00,#c6ff00,#bbff00,#b1ff00,#a8ff00,#a1ff00,#99ff00,#93ff00,#8cff00,#86ff00,#80ff00,#7bff00,#75ff00,#70ff00,#6cff00,#67ff00,#63ff00,#5eff00,#5aff00,#56ff00,#53ff00,#4fff00,#4cff00,#48ff00,#45ff00,#42ff00,#3fff00,#3cff00,#3aff00,#37ff00,#34ff00,#32ff00,#2fff00,#2dff00,#2aff00,#28ff00,#26ff00,#24ff00,#22ff00,#20ff00,#1eff00,#1cff00,#1aff00,#18ff00,#17ff00,#15ff00,#14ff00,#12ff00,#11ff00,#10ff00,#0fff00,#0eff00,#0dff00,#0cff00,#0bff00,#0bff00,#0aff00,#09ff00,#08ff00,#08ff00,#07ff00,#06ff00,#06ff00,#05ff00,#04ff00,#04ff00,#03ff00,#03ff00,#02ff00,#02ff00,#02ff00,#01ff00,#01ff00,#01ff00,#00ff00,#00ff00,#00ff00)"></i><i style="height:2px;background:linear-gradient(90deg,#ff0c00,#ff2500,#ff4100,#ff5e00,#ff7c00,#ff9b00,#ffba00,#ffd900,#fff500,#eeff00,#d6ff00,#bfff00,#acff00,#9dff00,#90ff00,#84ff00,#79ff00,#6fff00,#65ff00,#5dff00,#55ff00,#4eff00,#47ff00,#41ff00,#3bff00,#36ff00,#31ff00,#2cff00,#27ff00,#23ff00,#1fff00,#1bff00,#17ff00,#14ff00,#12ff00,#0fff00,#0dff00,#0cff00,#0aff00,#09ff00,#07ff00,#06ff00,#05ff00,#03ff00,#02ff00,#02ff00,#01ff00,#00ff00,#00ff00)"></i><i style="height:2px;background:linear-gradient(90deg,#ff0e00,#ff2600,#ff4000,#ff5c00,#ff7900,#ff9700,#ffb500,#ffd300,#fff000,#f4ff00,#dcff00,#c5ff00,#b2ff00,#a2ff00,#95ff00,#88ff00,#7dff00,#72ff00,#69ff00,#60ff00,#58ff00,#51ff00,#4aff00,#44ff00,#3eff00,#38ff00,#33ff00,#2dff00,#29ff00,#24ff00,#20ff00,#1cff00,#18ff00,#15ff00,#12ff00,#10ff00,#0eff00,#0cff00,#0bff00,#09ff00,#07ff00,#06ff00,#05ff00,#04ff00,#03ff00,#02ff00,#01ff00,#00ff00,#00ff00)"></i><i style="height:2px;background:linear-gradient(90deg,#ff1000,#ff2700,#ff4000,#ff5b00,#ff7700,#ff9400,#ffb100,#ffce00,#ffea00,#faff00,#e1ff00,#cbff00,#b7ff00,#a7ff00,#99ff00,#8cff00,#81ff00,#76ff00,#6cff00,#63ff00,#5bff00,#54ff00,#4dff00,#46ff00,#40ff00,#3aff00,#34ff00,#2fff00,#2aff00,#25ff00,#21ff00,#1dff00,#19ff00,#16ff00,#13ff00,#11ff00,#0fff00,#0dff00,#0bff00,#09ff00,#08ff00,#06ff00,#05ff00,#04ff00,#03ff00,#02ff00,#01ff00,#00ff00,#00ff00)"></i><i style="height:2px;background:linear-gradient(90deg,#ff1200,#ff2800,#ff4000,#ff5a00,#ff7500,#ff9100,#ffad00,#ffca00,#ffe500,#ffff00,#e7ff00,#d0ff00,#bcff00,#acff00,#9eff00,#91ff00,#85ff00,#7aff00,#70ff00,#67ff00,#5eff00,#56ff00,#4fff00,#48ff00,#42ff00,#3cff00,#36ff00,#31ff00,#2cff00,#27ff00,#22ff00,#1eff00,#1aff00,#17ff00,#14ff00,#11ff00,#0fff00,#0dff00,#0bff00,#0aff00,#08ff00,#06ff00,#05ff00,#04ff00,#03ff00,#02ff00,#01ff00,#00ff00,#00ff00)"></i><i style="height:2px;background:linear-gradient(90deg,#ff1400,#ff2900,#ff4100,#ff5900,#ff7300,#ff8e00,#ffaa00,#ffc600,#ffe100,#fffa00,#ecff00,#d5ff00,#c1ff00,#b0ff00,#a2ff00,#95ff00,#89ff00,#7dff00,#73ff00,#6aff00,#61ff00,#59ff00,#52ff00,#4bff00,#44ff00,#3eff00,#38ff00,#32ff00,#2dff00,#28ff00,#23ff00,#1fff00,#1bff00,#18ff00,#14ff00,#12ff00,#10ff00,#0eff00,#0cff00,#0aff00,#08ff00,#07ff00,#05ff00,#04ff00,#03ff00,#02ff00,#01ff00,#00ff00,#00ff00)"></i><i style="height:2px;background:linear-gradient(90deg,#ff1700,#ff2b00,#ff4100,#ff5900,#ff7200,#ff8c00,#ffa700,#ffc200,#ffdc00,#fff600,#f0ff00,#d9ff00,#c5ff00,#b5ff00,#a6ff00,#99ff00,#8cff00,#81ff00,#77ff00,#6dff00,#64ff00,#5cff00,#54ff00,#4dff00,#46ff00,#40ff00,#3aff00,#34ff00,#2eff00,#29ff00,#24ff00,#20ff00,#1cff00,#18ff00,#15ff00,#12ff00,#10ff00,#0eff00,#0cff00,#0aff00,#09ff00,#07ff00,#05ff00,#04ff00,#03ff00,#02ff00,#01ff00,#00ff00,#00ff00)"></i><i style="height:2px;background:linear-gradient(90deg,#ff1900,#ff2c00,#ff4200,#ff5800,#ff7000,#ff8a00,#ffa400,#ffbe00,#ffd800,#fff100,#f5ff00,#deff00,#c9ff00,#b9ff00,#aaff00,#9cff00,#90ff00,#84ff00,#7aff00,#70ff00,#67ff00,#5eff00,#57ff00,#4fff00,#48ff00,#42ff00,#3cff00,#36ff00,#30ff00,#2aff00,#25ff00,#21ff00,#1dff00,#19ff00,#16ff00,#13ff00,#11ff00,#0fff00,#0dff00,#0bff00,#09ff00,#07ff00,#06ff00,#04ff00,#03ff00,#02ff00,#01ff00,#00ff00,#00ff00)"></i><i style="height:2px;background:linear-gradient(90deg,#ff1b00,#ff2e00,#ff4300,#ff5800,#ff7000,#ff8800,#ffa100,#ffbb00,#ffd500,#ffed00,#f9ff00,#e2ff00,#ceff00,#bdff00,#aeff00,#a0ff00,#93ff00,#88ff00,#7dff00,#73ff00,#6aff00,#61ff00,#59ff00,#51ff00,#4aff00,#44ff00,#3dff00,#37ff00,#31ff00,#2cff00,#27ff00,#22ff00,#1eff00,#1aff00,#16ff00,#14ff00,#11ff00,#0fff00,#0dff00,#0bff00,#09ff00,#07ff00,#06ff00,#04ff00,#03ff00,#02ff00,#01ff00,#00ff00,#00ff00)"></i><i style="height:2px;background:linear-gradient(90deg,#ff1e00,#ff3000,#ff4400,#ff5900,#ff6f00,#ff8700,#ff9f00,#ffb800,#ffd100,#ffe900,#fdff00,#e6ff00,#d2ff00,#c1ff00,#b2ff00,#a4ff00,#97ff00,#8bff00,#80ff00,#76ff00,#6cff00,#63ff00,#5bff00,#54ff00,#4cff00,#46ff00,#3fff00,#39ff00,#33ff00,#2dff00,#28ff00,#23ff00,#1eff00,#1bff00,#17ff00,#14ff00,#12ff00,#0fff00,#0dff00,#0bff00,#09ff00,#08ff00,#06ff00,#04ff00,#03ff00,#02ff00,#01ff00,#00ff00,#00ff00)"></i><i style="height:2px;background:linear-gradient(90deg,#ff2000,#ff3100,#ff4500,#ff5900,#ff6f00,#ff8600,#ff9d00,#ffb600,#ffce00,#ffe600,#fffd00,#eaff00,#d5ff00,#c5ff00,#b5ff00,#a7ff00,#9aff00,#8eff00,#83ff00,#78ff00,#6fff00,#66ff00,#5eff00,#56ff00,#4eff00,#47ff00,#41ff00,#3aff00,#34ff00,#2eff00,#29ff00,#24ff00,#1fff00,#1bff00,#18ff00,#15ff00,#12ff00,#10ff00,#0eff00,#0cff00,#0aff00,#08ff00,#06ff00,#05ff00,#03ff00,#02ff00,#01ff00,#00ff00,#00ff00)"></i><i style="height:2px;background:linear-gradient(90deg,#ff2200,#ff3300,#ff4600,#ff5900,#ff6e00,#ff8500,#ff9c00,#ffb300,#ffcb00,#ffe300,#fffa00,#eeff00,#d9ff00,#c8ff00,#b9ff00,#aaff00,#9dff00,#91ff00,#86ff00,#7bff00,#71ff00,#68ff00,#60ff00,#58ff00,#50ff00,#49ff00,#42ff00,#3cff00,#35ff00,#2fff00,#2aff00,#25ff00,#20ff00,#1cff00,#18ff00,#15ff00,#13ff00,#10ff00,#0eff00,#0cff00,#0aff00,#08ff00,#06ff00,#05ff00,#03ff00,#02ff00,#01ff00,#00ff00,#00ff00)"></i><i style="height:2px;background:linear-gradient(90deg,#ff2500,#ff3500,#ff4700,#ff5a00,#ff6e00,#ff8400,#ff9a00,#ffb100,#ffc800,#ffe000,#fff600,#f1ff00,#ddff00,#ccff00,#bcff00,#aeff00,#a0ff00,#94ff00,#88ff00,#7eff00,#74ff00,#6bff00,#62ff00,#5aff00,#52ff00,#4bff00,#44ff00,#3dff00,#37ff00,#31ff00,#2bff00,#26ff00,#21ff00,#1dff00,#19ff00,#16ff00,#13ff00,#11ff00,#0eff00,#0cff00,#0aff00,#08ff00,#06ff00,#05ff00,#03ff00,#02ff00,#01ff00,#00ff00,#00ff00)"></i><i style="height:2px;background:linear-gradient(90deg,#ff2700,#ff3700,#ff4900,#ff5b00,#ff6e00,#ff8300,#ff9900,#ffaf00,#ffc600,#ffdd00,#fff300,#f5ff00,#e0ff00,#cfff00,#bfff00,#b1ff00,#a3ff00,#97ff00,#8bff00,#80ff00,#76ff00,#6dff00,#64ff00,#5cff00,#54ff00,#4dff00,#45ff00,#3eff00,#38ff00,#32ff00,#2cff00,#27ff00,#22ff00,#1dff00,#1aff00,#16ff00,#14ff00,#11ff00,#0fff00,#0dff00,#0aff00,#08ff00,#07ff00,#05ff00,#04ff00,#02ff00,#01ff00,#00ff00,#00ff00)"></i><i style="height:2px;background:linear-gradient(90deg,#ff2a00,#ff3900,#ff4a00,#ff5c00,#ff6f00,#ff8300,#ff9800,#ffae00,#ffc400,#ffda00,#fff000,#f8ff00,#e3ff00,#d2ff00,#c2ff00,#b4ff00,#a6ff00,#99ff00,#8eff00,#83ff00,#79ff00,#6fff00,#66ff00,#5eff00,#56ff00,#4eff00,#47ff00,#40ff00,#39ff00,#33ff00,#2dff00,#28ff00,#23ff00,#1eff00,#1aff00,#17ff00,#14ff00,#12ff00,#0fff00,#0dff00,#0bff00,#09ff00,#07ff00,#05ff00,#04ff00,#02ff00,#01ff00,#01ff00,#00ff00)"></i><i style="height:2px;background:linear-gradient(90deg,#ff2d00,#ff3b00,#ff4c00,#ff5d00,#ff6f00,#ff8300,#ff9700,#ffac00,#ffc200,#ffd800,#ffed00,#fbff00,#e6ff00,#d5ff00,#c5ff00,#b6ff00,#a9ff00,#9cff00,#90ff00,#85ff00,#7bff00,#71ff00,#68ff00,#60ff00,#58ff00,#50ff00,#48ff00,#41ff00,#3aff00,#34ff00,#2eff00,#28ff00,#23ff00,#1fff00,#1bff00,#17ff00,#15ff00,#12ff00,#10ff00,#0dff00,#0bff00,#09ff00,#07ff00,#05ff00,#04ff00,#02ff00,#01ff00,#01ff00,#00ff00)"></i><i style="height:2px;background:linear-gradient(90deg,#ff2f00,#ff3e00,#ff4d00,#ff5e00,#ff7000,#ff8300,#ff9600,#ffab00,#ffc000,#ffd600,#ffeb00,#fdff00,#e9ff00,#d8ff00,#c8ff00,#b9ff00,#abff00,#9fff00,#93ff00,#87ff00,#7dff00,#73ff00,#6aff00,#61ff00,#59ff00,#52ff00,#4aff00,#43ff00,#3cff00,#35ff00,#2fff00,#29ff00,#24ff00,#20ff00,#1bff00,#18ff00,#15ff00,#12ff00,#10ff00,#0dff00,#0bff00,#09ff00,#07ff00,#05ff00,#04ff00,#02ff00,#01ff00,#01ff00,#00ff00)"></i><i style="height:2px;background:linear-gradient(90deg,#ff3200,#ff4000,#ff4f00,#ff5f00,#ff7000,#ff8300,#ff9600,#ffaa00,#ffbe00,#ffd400,#ffe800,#fffe00,#ebff00,#daff00,#cbff00,#bcff00,#aeff00,#a1ff00,#95ff00,#8aff00,#7fff00,#75ff00,#6cff00,#63ff00,#5bff00,#53ff00,#4bff00,#44ff00,#3dff00,#36ff00,#30ff00,#2aff00,#25ff00,#20ff00,#1cff00,#18ff00,#15ff00,#13ff00,#10ff00,#0eff00,#0bff00,#09ff00,#07ff00,#05ff00,#04ff00,#03ff00,#01ff00,#01ff00,#00ff00)"></i><i style="height:2px;background:linear-gradient(90deg,#ff3400,#ff4200,#ff5100,#ff6000,#ff7100,#ff8300,#ff9600,#ffa900,#ffbd00,#ffd200,#ffe600,#fffc00,#eeff00,#ddff00,#cdff00,#beff00,#b0ff00,#a3ff00,#97ff00,#8cff00,#81ff00,#77ff00,#6eff00,#65ff00,#5dff00,#55ff00,#4dff00,#45ff00,#3eff00,#37ff00,#31ff00,#2bff00,#26ff00,#21ff00,#1dff00,#19ff00,#16ff00,#13ff00,#11ff00,#0eff00,#0cff00,#09ff00,#07ff00,#06ff00,#04ff00,#03ff00,#01ff00,#01ff00,#00ff00)"></i><i style="height:2px;background:linear-gradient(90deg,#ff3700,#ff4400,#ff5300,#ff6200,#ff7200,#ff8400,#ff9500,#ffa800,#ffbc00,#ffd000,#ffe400,#fff900,#f0ff00,#dfff00,#cfff00,#c1ff00,#b3ff00,#a6ff00,#99ff00,#8eff00,#83ff00,#79ff00,#70ff00,#67ff00,#5eff00,#56ff00,#4eff00,#46ff00,#3fff00,#38ff00,#32ff00,#2cff00,#26ff00,#21ff00,#1dff00,#19ff00,#16ff00,#14ff00,#11ff00,#0eff00,#0cff00,#0aff00,#08ff00,#06ff00,#04ff00,#03ff00,#01ff00,#01ff00,#00ff00)"></i><i style="height:2px;background:linear-gradient(90deg,#ff3a00,#ff4700,#ff5500,#ff6300,#ff7300,#ff8400,#ff9500,#ffa800,#ffbb00,#ffcf00,#ffe200,#fff700,#f2ff00,#e1ff00,#d2ff00,#c3ff00,#b5ff00,#a8ff00,#9bff00,#90ff00,#85ff00,#7bff00,#71ff00,#68ff00,#60ff00,#57ff00,#4fff00,#48ff00,#40ff00,#39ff00,#33ff00,#2dff00,#27ff00,#22ff00,#1eff00,#1aff00,#17ff00,#14ff00,#11ff00,#0fff00,#0cff00,#0aff00,#08ff00,#06ff00,#04ff00,#03ff00,#01ff00,#01ff00,#00ff00)"></i><i style="height:2px;background:linear-gradient(90deg,#ff3d00,#ff4900,#ff5700,#ff6500,#ff7400,#ff8500,#ff9500,#ffa700,#ffba00,#ffcd00,#ffe100,#fff500,#f5ff00,#e4ff00,#d4ff00,#c5ff00,#b7ff00,#aaff00,#9dff00,#92ff00,#87ff00,#7dff00,#73ff00,#6aff00,#61ff00,#59ff00,#51ff00,#49ff00,#41ff00,#3aff00,#34ff00,#2dff00,#28ff00,#23ff00,#1eff00,#1aff00,#17ff00,#14ff00,#12ff00,#0fff00,#0cff00,#0aff00,#08ff00,#06ff00,#04ff00,#03ff00,#02ff00,#01ff00,#00ff00)"></i><i style="height:2px;background:linear-gradient(90deg,#ff3f00,#ff4c00,#ff5900,#ff6600,#ff7500,#ff8500,#ff9600,#ffa700,#ffb900,#ffcc00,#ffdf00,#fff400,#f6ff00,#e6ff00,#d6ff00,#c7ff00,#b9ff00,#acff00,#9fff00,#94ff00,#89ff00,#7eff00,#75ff00,#6bff00,#63ff00,#5aff00,#52ff00,#4aff00,#42ff00,#3bff00,#34ff00,#2eff00,#28ff00,#23ff00,#1fff00,#1bff00,#18ff00,#15ff00,#12ff00,#0fff00,#0dff00,#0aff00,#08ff00,#06ff00,#04ff00,#03ff00,#02ff00,#01ff00,#00ff00)"></i><i style="height:2px;background:linear-gradient(90deg,#ff4200,#ff4e00,#ff5b00,#ff6800,#ff7700,#ff8600,#ff9600,#ffa700,#ffb800,#ffcb00,#ffde00,#fff200,#f8ff00,#e7ff00,#d8ff00,#c9ff00,#bbff00,#aeff00,#a1ff00,#95ff00,#8aff00,#80ff00,#76ff00,#6dff00,#64ff00,#5cff00,#53ff00,#4bff00,#43ff00,#3cff00,#35ff00,#2fff00,#29ff00,#24ff00,#1fff00,#1bff00,#18ff00,#15ff00,#12ff00,#0fff00,#0dff00,#0aff00,#08ff00,#06ff00,#04ff00,#03ff00,#02ff00,#01ff00,#00ff00)"></i><i style="height:2px;background:linear-gradient(90deg,#ff4500,#ff5100,#ff5d00,#ff6a00,#ff7800,#ff8700,#ff9600,#ffa700,#ffb800,#ffca00,#ffdd00,#fff000,#faff00,#e9ff00,#d9ff00,#cbff00,#bdff00,#afff00,#a3ff00,#97ff00,#8cff00,#82ff00,#78ff00,#6eff00,#65ff00,#5dff00,#54ff00,#4cff00,#44ff00,#3dff00,#36ff00,#30ff00,#2aff00,#25ff00,#20ff00,#1cff00,#18ff00,#15ff00,#12ff00,#10ff00,#0dff00,#0bff00,#08ff00,#06ff00,#04ff00,#03ff00,#02ff00,#01ff00,#00ff00)"></i><i style="height:2px;background:linear-gradient(90deg,#ff4800,#ff5300,#ff5f00,#ff6c00,#ff7900,#ff8800,#ff9700,#ffa700,#ffb800,#ffc900,#ffdb00,#ffef00,#fcff00,#ebff00,#dbff00,#ccff00,#beff00,#b1ff00,#a5ff00,#99ff00,#8eff00,#83ff00,#79ff00,#70ff00,#67ff00,#5eff00,#56ff00,#4dff00,#45ff00,#3eff00,#37ff00,#30ff00,#2aff00,#25ff00,#20ff00,#1cff00,#19ff00,#16ff00,#13ff00,#10ff00,#0dff00,#0bff00,#08ff00,#06ff00,#05ff00,#03ff00,#02ff00,#01ff00,#00ff00)"></i><i style="height:2px;background:linear-gradient(90deg,#ff4a00,#ff5600,#ff6100,#ff6e00,#ff7b00,#ff8900,#ff9800,#ffa700,#ffb700,#ffc900,#ffda00,#ffee00,#fdff00,#ecff00,#ddff00,#ceff00,#c0ff00,#b3ff00,#a6ff00,#9aff00,#8fff00,#85ff00,#7bff00,#71ff00,#68ff00,#5fff00,#57ff00,#4eff00,#46ff00,#3fff00,#38ff00,#31ff00,#2bff00,#26ff00,#21ff00,#1dff00,#19ff00,#16ff00,#13ff00,#10ff00,#0dff00,#0bff00,#09ff00,#06ff00,#05ff00,#03ff00,#02ff00,#01ff00,#00ff00)"></i><i style="height:2px;background:linear-gradient(90deg,#ff4d00,#ff5800,#ff6400,#ff6f00,#ff7c00,#ff8a00,#ff9800,#ffa700,#ffb700,#ffc800,#ffda00,#ffed00,#feff00,#eeff00,#deff00,#cfff00,#c1ff00,#b4ff00,#a8ff00,#9cff00,#91ff00,#86ff00,#7cff00,#72ff00,#69ff00,#60ff00,#58ff00,#4fff00,#47ff00,#40ff00,#38ff00,#32ff00,#2cff00,#26ff00,#21ff00,#1dff00,#1aff00,#16ff00,#13ff00,#10ff00,#0eff00,#0bff00,#09ff00,#07ff00,#05ff00,#03ff00,#02ff00,#01ff00,#00ff00)"></i><i style="height:2px;background:linear-gradient(90deg,#ff5000,#ff5b00,#ff6600,#ff7100,#ff7e00,#ff8b00,#ff9900,#ffa800,#ffb700,#ffc800,#ffd900,#ffec00,#ffff00,#efff00,#e0ff00,#d1ff00,#c3ff00,#b6ff00,#a9ff00,#9dff00,#92ff00,#87ff00,#7dff00,#74ff00,#6aff00,#62ff00,#59ff00,#50ff00,#48ff00,#40ff00,#39ff00,#32ff00,#2cff00,#27ff00,#22ff00,#1eff00,#1aff00,#17ff00,#14ff00,#11ff00,#0eff00,#0bff00,#09ff00,#07ff00,#05ff00,#03ff00,#02ff00,#01ff00,#00ff00)"></i><i style="height:2px;background:linear-gradient(90deg,#ff5300,#ff5d00,#ff6800,#ff7300,#ff8000,#ff8d00,#ff9a00,#ffa800,#ffb700,#ffc800,#ffd800,#ffeb00,#fffe00,#f0ff00,#e1ff00,#d2ff00,#c4ff00,#b7ff00,#aaff00,#9fff00,#93ff00,#89ff00,#7eff00,#75ff00,#6cff00,#63ff00,#5aff00,#51ff00,#49ff00,#41ff00,#3aff00,#33ff00,#2dff00,#27ff00,#22ff00,#1eff00,#1aff00,#17ff00,#14ff00,#11ff00,#0eff00,#0bff00,#09ff00,#07ff00,#05ff00,#03ff00,#02ff00,#01ff00,#00ff00)"></i><i style="height:2px;background:linear-gradient(90deg,#ff5600,#ff6000,#ff6a00,#ff7500,#ff8100,#ff8e00,#ff9b00,#ffa900,#ffb800,#ffc800,#ffd800,#ffea00,#fffd00,#f1ff00,#e2ff00,#d3ff00,#c6ff00,#b8ff00,#acff00,#a0ff00,#95ff00,#8aff00,#80ff00,#76ff00,#6dff00,#64ff00,#5bff00,#52ff00,#4aff00,#42ff00,#3bff00,#34ff00,#2dff00,#28ff00,#23ff00,#1eff00,#1bff00,#17ff00,#14ff00,#11ff00,#0eff00,#0cff00,#09ff00,#07ff00,#05ff00,#03ff00,#02ff00,#01ff00,#00ff00)"></i><i style="height:2px;background:linear-gradient(90deg,#ff5900,#ff6200,#ff6d00,#ff7700,#ff8300,#ff9000,#ff9c00,#ffa900,#ffb800,#ffc700,#ffd700,#ffe900,#fffc00,#f2ff00,#e3ff00,#d5ff00,#c7ff00,#baff00,#adff00,#a1ff00,#96ff00,#8bff00,#81ff00,#77ff00,#6eff00,#65ff00,#5cff00,#53ff00,#4bff00,#43ff00,#3bff00,#34ff00,#2eff00,#28ff00,#23ff00,#1fff00,#1bff00,#18ff00,#14ff00,#11ff00,#0eff00,#0cff00,#09ff00,#07ff00,#05ff00,#03ff00,#02ff00,#01ff00,#00ff00)"></i><i style="height:2px;background:linear-gradient(90deg,#ff5b00,#ff6500,#ff6f00,#ff7a00,#ff8500,#ff9100,#ff9d00,#ffaa00,#ffb800,#ffc700,#ffd700,#ffe900,#fffb00,#f3ff00,#e4ff00,#d6ff00,#c8ff00,#bbff00,#aeff00,#a2ff00,#97ff00,#8cff00,#82ff00,#78ff00,#6fff00,#66ff00,#5dff00,#54ff00,#4cff00,#44ff00,#3cff00,#35ff00,#2fff00,#29ff00,#24ff00,#1fff00,#1bff00,#18ff00,#15ff00,#12ff00,#0fff00,#0cff00,#09ff00,#07ff00,#05ff00,#03ff00,#02ff00,#01ff00,#00ff00)"></i><i style="height:2px;background:linear-gradient(90deg,#ff5e00,#ff6800,#ff7200,#ff7c00,#ff8700,#ff9300,#ff9e00,#ffab00,#ffb900,#ffc800,#ffd700,#ffe800,#fffa00,#f4ff00,#e5ff00,#d7ff00,#c9ff00,#bcff00,#afff00,#a3ff00,#98ff00,#8dff00,#83ff00,#79ff00,#70ff00,#67ff00,#5eff00,#55ff00,#4cff00,#44ff00,#3dff00,#36ff00,#2fff00,#29ff00,#24ff00,#20ff00,#1cff00,#18ff00,#15ff00,#12ff00,#0fff00,#0cff00,#09ff00,#07ff00,#05ff00,#03ff00,#02ff00,#01ff00,#00ff00)"></i><i style="height:2px;background:linear-gradient(90deg,#ff6100,#ff6a00,#ff7400,#ff7e00,#ff8900,#ff9400,#ffa000,#ffac00,#ffb900,#ffc800,#ffd700,#ffe800,#fffa00,#f5ff00,#e6ff00,#d7ff00,#caff00,#bdff00,#b0ff00,#a4ff00,#99ff00,#8eff00,#84ff00,#7aff00,#71ff00,#68ff00,#5eff00,#56ff00,#4dff00,#45ff00,#3dff00,#36ff00,#30ff00,#2aff00,#24ff00,#20ff00,#1cff00,#19ff00,#15ff00,#12ff00,#0fff00,#0cff00,#0aff00,#07ff00,#05ff00,#03ff00,#02ff00,#01ff00,#00ff00)"></i><i style="height:2px;background:linear-gradient(90deg,#ff6400,#ff6d00,#ff7700,#ff8000,#ff8b00,#ff9600,#ffa100,#ffad00,#ffba00,#ffc800,#ffd700,#ffe700,#fff900,#f5ff00,#e6ff00,#d8ff00,#cbff00,#beff00,#b1ff00,#a5ff00,#9aff00,#8fff00,#85ff00,#7bff00,#72ff00,#68ff00,#5fff00,#56ff00,#4eff00,#46ff00,#3eff00,#37ff00,#30ff00,#2aff00,#25ff00,#20ff00,#1cff00,#19ff00,#15ff00,#12ff00,#0fff00,#0cff00,#0aff00,#07ff00,#05ff00,#03ff00,#02ff00,#01ff00,#00ff00)"></i><i style="height:2px;background:linear-gradient(90deg,#ff6700,#ff7000,#ff7900,#ff8200,#ff8d00,#ff9800,#ffa200,#ffae00,#ffbb00,#ffc900,#ffd700,#ffe700,#fff900,#f6ff00,#e7ff00,#d9ff00,#cbff00,#beff00,#b2ff00,#a6ff00,#9bff00,#90ff00,#86ff00,#7cff00,#72ff00,#69ff00,#60ff00,#57ff00,#4eff00,#46ff00,#3eff00,#37ff00,#31ff00,#2bff00,#25ff00,#21ff00,#1dff00,#19ff00,#16ff00,#12ff00,#0fff00,#0cff00,#0aff00,#07ff00,#05ff00,#03ff00,#02ff00,#01ff00,#00ff00)"></i><i style="height:2px;background:linear-gradient(90deg,#ff6a00,#ff7300,#ff7c00,#ff8500,#ff8f00,#ff9900,#ffa400,#ffaf00,#ffbb00,#ffc900,#ffd700,#ffe700,#fff900,#f6ff00,#e8ff00,#daff00,#ccff00,#bfff00,#b3ff00,#a7ff00,#9cff00,#91ff00,#87ff00,#7dff00,#73ff00,#6aff00,#61ff00,#58ff00,#4fff00,#47ff00,#3fff00,#38ff00,#31ff00,#2bff00,#26ff00,#21ff00,#1dff00,#19ff00,#16ff00,#13ff00,#10ff00,#0dff00,#0aff00,#07ff00,#05ff00,#03ff00,#02ff00,#01ff00,#00ff00)"></i><i style="height:2px;background:linear-gradient(90deg,#ff6d00,#ff7500,#ff7e00,#ff8700,#ff9100,#ff9b00,#ffa500,#ffb000,#ffbc00,#ffca00,#ffd700,#ffe700,#fff800,#f7ff00,#e8ff00,#daff00,#cdff00,#c0ff00,#b4ff00,#a8ff00,#9cff00,#92ff00,#87ff00,#7dff00,#74ff00,#6bff00,#61ff00,#58ff00,#50ff00,#47ff00,#40ff00,#38ff00,#32ff00,#2bff00,#26ff00,#21ff00,#1dff00,#1aff00,#16ff00,#13ff00,#10ff00,#0dff00,#0aff00,#08ff00,#05ff00,#03ff00,#02ff00,#01ff00,#00ff00)"></i><i style="height:2px;background:linear-gradient(90deg,#ff7000,#ff7800,#ff8100,#ff8900,#ff9300,#ff9d00,#ffa700,#ffb100,#ffbd00,#ffca00,#ffd800,#ffe700,#fff800,#f7ff00,#e8ff00,#dbff00,#cdff00,#c0ff00,#b4ff00,#a8ff00,#9dff00,#92ff00,#88ff00,#7eff00,#75ff00,#6bff00,#62ff00,#59ff00,#50ff00,#48ff00,#40ff00,#39ff00,#32ff00,#2cff00,#26ff00,#22ff00,#1eff00,#1aff00,#16ff00,#13ff00,#10ff00,#0dff00,#0aff00,#08ff00,#05ff00,#04ff00,#02ff00,#01ff00,#00ff00)"></i><i style="height:2px;background:linear-gradient(90deg,#ff7300,#ff7b00,#ff8300,#ff8c00,#ff9500,#ff9f00,#ffa800,#ffb300,#ffbe00,#ffcb00,#ffd800,#ffe700,#fff800,#f7ff00,#e9ff00,#dbff00,#ceff00,#c1ff00,#b5ff00,#a9ff00,#9eff00,#93ff00,#89ff00,#7fff00,#75ff00,#6cff00,#63ff00,#5aff00,#51ff00,#49ff00,#41ff00,#39ff00,#32ff00,#2cff00,#27ff00,#22ff00,#1eff00,#1aff00,#17ff00,#13ff00,#10ff00,#0dff00,#0aff00,#08ff00,#05ff00,#04ff00,#02ff00,#01ff00,#00ff00)"></i><i style="height:2px;background:linear-gradient(90deg,#ff7600,#ff7e00,#ff8600,#ff8e00,#ff9700,#ffa100,#ffaa00,#ffb400,#ffbf00,#ffcc00,#ffd800,#ffe800,#fff800,#f7ff00,#e9ff00,#dbff00,#ceff00,#c1ff00,#b5ff00,#aaff00,#9eff00,#94ff00,#89ff00,#7fff00,#76ff00,#6dff00,#63ff00,#5aff00,#52ff00,#49ff00,#41ff00,#3aff00,#33ff00,#2dff00,#27ff00,#22ff00,#1eff00,#1aff00,#17ff00,#13ff00,#10ff00,#0dff00,#0aff00,#08ff00,#06ff00,#04ff00,#02ff00,#01ff00,#00ff00)"></i><i style="height:2px;background:linear-gradient(90deg,#ff7900,#ff8000,#ff8800,#ff9000,#ff9900,#ffa300,#ffac00,#ffb600,#ffc000,#ffcd00,#ffd900,#ffe800,#fff800,#f7ff00,#e9ff00,#dcff00,#cfff00,#c2ff00,#b6ff00,#aaff00,#9fff00,#94ff00,#8aff00,#80ff00,#77ff00,#6dff00,#64ff00,#5bff00,#52ff00,#4aff00,#42ff00,#3aff00,#33ff00,#2dff00,#27ff00,#22ff00,#1eff00,#1bff00,#17ff00,#14ff00,#10ff00,#0dff00,#0aff00,#08ff00,#06ff00,#04ff00,#02ff00,#01ff00,#00ff00)"></i><i style="height:2px;background:linear-gradient(90deg,#ff7b00,#ff8300,#ff8b00,#ff9300,#ff9b00,#ffa500,#ffad00,#ffb700,#ffc200,#ffce00,#ffda00,#ffe800,#fff900,#f7ff00,#e9ff00,#dcff00,#cfff00,#c2ff00,#b6ff00,#abff00,#9fff00,#95ff00,#8bff00,#81ff00,#77ff00,#6eff00,#65ff00,#5bff00,#53ff00,#4aff00,#42ff00,#3aff00,#34ff00,#2dff00,#28ff00,#23ff00,#1fff00,#1bff00,#17ff00,#14ff00,#10ff00,#0dff00,#0bff00,#08ff00,#06ff00,#04ff00,#02ff00,#01ff00,#00ff00)"></i><i style="height:2px;background:linear-gradient(90deg,#ff7e00,#ff8600,#ff8e00,#ff9500,#ff9e00,#ffa700,#ffaf00,#ffb800,#ffc300,#ffce00,#ffda00,#ffe900,#fff900,#f7ff00,#e9ff00,#dcff00,#cfff00,#c3ff00,#b7ff00,#abff00,#a0ff00,#95ff00,#8bff00,#81ff00,#78ff00,#6eff00,#65ff00,#5cff00,#53ff00,#4bff00,#42ff00,#3bff00,#34ff00,#2eff00,#28ff00,#23ff00,#1fff00,#1bff00,#17ff00,#14ff00,#11ff00,#0dff00,#0bff00,#08ff00,#06ff00,#04ff00,#02ff00,#01ff00,#00ff00)"></i><i style="height:2px;background:linear-gradient(90deg,#ff8100,#ff8900,#ff9000,#ff9800,#ffa000,#ffa900,#ffb100,#ffba00,#ffc400,#ffd000,#ffdb00,#ffe900,#fff900,#f7ff00,#e9ff00,#dcff00,#cfff00,#c3ff00,#b7ff00,#abff00,#a0ff00,#96ff00,#8bff00,#82ff00,#78ff00,#6fff00,#66ff00,#5cff00,#53ff00,#4bff00,#43ff00,#3bff00,#34ff00,#2eff00,#28ff00,#23ff00,#1fff00,#1bff00,#18ff00,#14ff00,#11ff00,#0eff00,#0bff00,#08ff00,#06ff00,#04ff00,#02ff00,#01ff00,#00ff00)"></i><i style="height:2px;background:linear-gradient(90deg,#ff8400,#ff8c00,#ff9300,#ff9a00,#ffa200,#ffab00,#ffb300,#ffbc00,#ffc600,#ffd100,#ffdc00,#ffea00,#fffa00,#f7ff00,#e9ff00,#dcff00,#cfff00,#c3ff00,#b7ff00,#acff00,#a1ff00,#96ff00,#8cff00,#82ff00,#79ff00,#6fff00,#66ff00,#5dff00,#54ff00,#4bff00,#43ff00,#3cff00,#35ff00,#2eff00,#28ff00,#23ff00,#1fff00,#1bff00,#18ff00,#14ff00,#11ff00,#0eff00,#0bff00,#08ff00,#06ff00,#04ff00,#02ff00,#01ff00,#00ff00)"></i><i style="height:2px;background:linear-gradient(90deg,#ff8700,#ff8e00,#ff9500,#ff9d00,#ffa400,#ffad00,#ffb500,#ffbd00,#ffc700,#ffd200,#ffdd00,#ffeb00,#fffa00,#f6ff00,#e9ff00,#dcff00,#cfff00,#c3ff00,#b7ff00,#acff00,#a1ff00,#96ff00,#8cff00,#82ff00,#79ff00,#70ff00,#66ff00,#5dff00,#54ff00,#4cff00,#44ff00,#3cff00,#35ff00,#2eff00,#29ff00,#24ff00,#1fff00,#1cff00,#18ff00,#14ff00,#11ff00,#0eff00,#0bff00,#08ff00,#06ff00,#04ff00,#02ff00,#01ff00,#00ff00)"></i><i style="height:2px;background:linear-gradient(90deg,#ff8a00,#ff9100,#ff9800,#ff9f00,#ffa700,#ffaf00,#ffb700,#ffbf00,#ffc800,#ffd300,#ffde00,#ffeb00,#fffa00,#f6ff00,#e9ff00,#dcff00,#cfff00,#c3ff00,#b7ff00,#acff00,#a1ff00,#97ff00,#8dff00,#83ff00,#79ff00,#70ff00,#67ff00,#5eff00,#55ff00,#4cff00,#44ff00,#3cff00,#35ff00,#2fff00,#29ff00,#24ff00,#20ff00,#1cff00,#18ff00,#14ff00,#11ff00,#0eff00,#0bff00,#08ff00,#06ff00,#04ff00,#02ff00,#01ff00,#00ff00)"></i><i style="height:2px;background:linear-gradient(90deg,#ff8d00,#ff9400,#ff9b00,#ffa200,#ffa900,#ffb100,#ffb900,#ffc100,#ffca00,#ffd400,#ffdf00,#ffec00,#fffb00,#f5ff00,#e8ff00,#dcff00,#cfff00,#c3ff00,#b8ff00,#acff00,#a1ff00,#97ff00,#8dff00,#83ff00,#7aff00,#70ff00,#67ff00,#5eff00,#55ff00,#4cff00,#44ff00,#3dff00,#35ff00,#2fff00,#29ff00,#24ff00,#20ff00,#1cff00,#18ff00,#15ff00,#11ff00,#0eff00,#0bff00,#08ff00,#06ff00,#04ff00,#02ff00,#01ff00,#00ff00)"></i><i style="height:2px;background:linear-gradient(90deg,#ff9000,#ff9700,#ff9e00,#ffa400,#ffac00,#ffb300,#ffbb00,#ffc300,#ffcb00,#ffd600,#ffe000,#ffed00,#fffc00,#f5ff00,#e8ff00,#dbff00,#cfff00,#c3ff00,#b8ff00,#acff00,#a2ff00,#97ff00,#8dff00,#83ff00,#7aff00,#71ff00,#67ff00,#5eff00,#55ff00,#4dff00,#45ff00,#3dff00,#36ff00,#2fff00,#29ff00,#24ff00,#20ff00,#1cff00,#18ff00,#15ff00,#11ff00,#0eff00,#0bff00,#08ff00,#06ff00,#04ff00,#02ff00,#01ff00,#00ff00)"></i><i style="height:2px;background:linear-gradient(90deg,#ff9300,#ff9a00,#ffa000,#ffa700,#ffae00,#ffb600,#ffbd00,#ffc400,#ffcd00,#ffd700,#ffe100,#ffee00,#fffc00,#f4ff00,#e8ff00,#dbff00,#cfff00,#c3ff00,#b8ff00,#acff00,#a2ff00,#97ff00,#8dff00,#84ff00,#7aff00,#71ff00,#68ff00,#5fff00,#56ff00,#4dff00,#45ff00,#3dff00,#36ff00,#2fff00,#2aff00,#24ff00,#20ff00,#1cff00,#18ff00,#15ff00,#11ff00,#0eff00,#0bff00,#08ff00,#06ff00,#04ff00,#02ff00,#01ff00,#00ff00)"></i><i style="height:2px;background:linear-gradient(90deg,#ff9600,#ff9d00,#ffa300,#ffa900,#ffb000,#ffb800,#ffbf00,#ffc600,#ffcf00,#ffd800,#ffe200,#ffef00,#fffd00,#f4ff00,#e7ff00,#dbff00,#cfff00,#c3ff00,#b7ff00,#acff00,#a2ff00,#97ff00,#8dff00,#84ff00,#7aff00,#71ff00,#68ff00,#5fff00,#56ff00,#4dff00,#45ff00,#3dff00,#36ff00,#30ff00,#2aff00,#25ff00,#20ff00,#1cff00,#19ff00,#15ff00,#11ff00,#0eff00,#0bff00,#08ff00,#06ff00,#04ff00,#02ff00,#01ff00,#00ff00)"></i><i style="height:2px;background:linear-gradient(90deg,#ff9900,#ff9f00,#ffa600,#ffac00,#ffb300,#ffba00,#ffc100,#ffc800,#ffd000,#ffda00,#ffe300,#fff000,#fffe00,#f3ff00,#e7ff00,#daff00,#ceff00,#c3ff00,#b7ff00,#acff00,#a2ff00,#97ff00,#8eff00,#84ff00,#7bff00,#71ff00,#68ff00,#5fff00,#56ff00,#4dff00,#45ff00,#3eff00,#36ff00,#30ff00,#2aff00,#25ff00,#20ff00,#1dff00,#19ff00,#15ff00,#12ff00,#0eff00,#0bff00,#08ff00,#06ff00,#04ff00,#02ff00,#01ff00,#00ff00)"></i><i style="height:2px;background:linear-gradient(90deg,#ff9c00,#ffa200,#ffa800,#ffaf00,#ffb500,#ffbc00,#ffc300,#ffca00,#ffd200,#ffdb00,#ffe500,#fff100,#ffff00,#f2ff00,#e6ff00,#daff00,#ceff00,#c2ff00,#b7ff00,#acff00,#a2ff00,#97ff00,#8eff00,#84ff00,#7bff00,#72ff00,#68ff00,#5fff00,#56ff00,#4eff00,#45ff00,#3eff00,#37ff00,#30ff00,#2aff00,#25ff00,#21ff00,#1dff00,#19ff00,#15ff00,#12ff00,#0eff00,#0bff00,#09ff00,#06ff00,#04ff00,#02ff00,#01ff00,#00ff00)"></i><i style="height:2px;background:linear-gradient(90deg,#ff9f00,#ffa500,#ffab00,#ffb100,#ffb800,#ffbf00,#ffc500,#ffcc00,#ffd400,#ffdd00,#ffe600,#fff200,#feff00,#f2ff00,#e5ff00,#d9ff00,#cdff00,#c2ff00,#b7ff00,#acff00,#a2ff00,#97ff00,#8eff00,#84ff00,#7bff00,#72ff00,#69ff00,#5fff00,#56ff00,#4eff00,#46ff00,#3eff00,#37ff00,#30ff00,#2aff00,#25ff00,#21ff00,#1dff00,#19ff00,#15ff00,#12ff00,#0eff00,#0bff00,#09ff00,#06ff00,#04ff00,#02ff00,#01ff00,#00ff00)"></i><i style="height:2px;background:linear-gradient(90deg,#ffa200,#ffa800,#ffae00,#ffb400,#ffba00,#ffc100,#ffc700,#ffce00,#ffd600,#ffde00,#ffe700,#fff300,#fdff00,#f1ff00,#e5ff00,#d9ff00,#cdff00,#c2ff00,#b7ff00,#acff00,#a1ff00,#97ff00,#8eff00,#84ff00,#7bff00,#72ff00,#69ff00,#60ff00,#57ff00,#4eff00,#46ff00,#3eff00,#37ff00,#30ff00,#2aff00,#25ff00,#21ff00,#1dff00,#19ff00,#15ff00,#12ff00,#0fff00,#0bff00,#09ff00,#06ff00,#04ff00,#02ff00,#01ff00,#00ff00)"></i><i style="height:2px;background:linear-gradient(90deg,#ffa500,#ffab00,#ffb100,#ffb600,#ffbd00,#ffc300,#ffc900,#ffd000,#ffd700,#ffe000,#ffe900,#fff400,#fcff00,#f0ff00,#e4ff00,#d8ff00,#cdff00,#c1ff00,#b6ff00,#acff00,#a1ff00,#97ff00,#8eff00,#84ff00,#7bff00,#72ff00,#69ff00,#60ff00,#57ff00,#4eff00,#46ff00,#3eff00,#37ff00,#30ff00,#2bff00,#25ff00,#21ff00,#1dff00,#19ff00,#15ff00,#12ff00,#0fff00,#0bff00,#09ff00,#06ff00,#04ff00,#02ff00,#01ff00,#00ff00)"></i><i style="height:2px;background:linear-gradient(90deg,#ffa800,#ffae00,#ffb400,#ffb900,#ffbf00,#ffc600,#ffcc00,#ffd200,#ffd900,#ffe200,#ffea00,#fff500,#fbff00,#efff00,#e3ff00,#d7ff00,#ccff00,#c1ff00,#b6ff00,#abff00,#a1ff00,#97ff00,#8dff00,#84ff00,#7bff00,#72ff00,#69ff00,#60ff00,#57ff00,#4eff00,#46ff00,#3eff00,#37ff00,#31ff00,#2bff00,#25ff00,#21ff00,#1dff00,#19ff00,#16ff00,#12ff00,#0fff00,#0cff00,#09ff00,#06ff00,#04ff00,#02ff00,#01ff00,#00ff00)"></i><i style="height:2px;background:linear-gradient(90deg,#ffab00,#ffb100,#ffb600,#ffbc00,#ffc200,#ffc800,#ffce00,#ffd400,#ffdb00,#ffe300,#ffec00,#fff700,#faff00,#eeff00,#e2ff00,#d7ff00,#cbff00,#c0ff00,#b6ff00,#abff00,#a1ff00,#97ff00,#8dff00,#84ff00,#7bff00,#72ff00,#69ff00,#60ff00,#57ff00,#4eff00,#46ff00,#3fff00,#37ff00,#31ff00,#2bff00,#26ff00,#21ff00,#1dff00,#19ff00,#16ff00,#12ff00,#0fff00,#0cff00,#09ff00,#06ff00,#04ff00,#02ff00,#01ff00,#00ff00)"></i><i style="height:2px;background:linear-gradient(90deg,#ffae00,#ffb400,#ffb900,#ffbe00,#ffc400,#ffca00,#ffd000,#ffd600,#ffdd00,#ffe500,#ffed00,#fff800,#f9ff00,#edff00,#e1ff00,#d6ff00,#cbff00,#c0ff00,#b5ff00,#abff00,#a1ff00,#97ff00,#8dff00,#84ff00,#7bff00,#72ff00,#69ff00,#60ff00,#57ff00,#4fff00,#46ff00,#3fff00,#37ff00,#31ff00,#2bff00,#26ff00,#21ff00,#1dff00,#19ff00,#16ff00,#12ff00,#0fff00,#0cff00,#09ff00,#06ff00,#04ff00,#02ff00,#01ff00,#00ff00)"></i><i style="height:2px;background:linear-gradient(90deg,#ffb100,#ffb700,#ffbc00,#ffc100,#ffc700,#ffcd00,#ffd200,#ffd800,#ffdf00,#ffe700,#ffef00,#fff900,#f8ff00,#ecff00,#e0ff00,#d5ff00,#caff00,#bfff00,#b5ff00,#aaff00,#a0ff00,#96ff00,#8dff00,#84ff00,#7bff00,#72ff00,#69ff00,#60ff00,#57ff00,#4fff00,#46ff00,#3fff00,#37ff00,#31ff00,#2bff00,#26ff00,#21ff00,#1dff00,#19ff00,#16ff00,#12ff00,#0fff00,#0cff00,#09ff00,#06ff00,#04ff00,#02ff00,#01ff00,#00ff00)"></i><i style="height:2px;background:linear-gradient(90deg,#ffb400,#ffb900,#ffbf00,#ffc400,#ffc900,#ffcf00,#ffd500,#ffda00,#ffe100,#ffe900,#fff000,#fffb00,#f6ff00,#ebff00,#dfff00,#d4ff00,#c9ff00,#bfff00,#b4ff00,#aaff00,#a0ff00,#96ff00,#8dff00,#84ff00,#7bff00,#72ff00,#69ff00,#60ff00,#57ff00,#4fff00,#46ff00,#3fff00,#38ff00,#31ff00,#2bff00,#26ff00,#21ff00,#1dff00,#1aff00,#16ff00,#12ff00,#0fff00,#0cff00,#09ff00,#06ff00,#04ff00,#02ff00,#01ff00,#00ff00)"></i><i style="height:2px;background:linear-gradient(90deg,#ffb700,#ffbc00,#ffc200,#ffc700,#ffcc00,#ffd200,#ffd700,#ffdc00,#ffe300,#ffea00,#fff200,#fffc00,#f5ff00,#eaff00,#deff00,#d3ff00,#c9ff00,#beff00,#b4ff00,#a9ff00,#9fff00,#96ff00,#8cff00,#83ff00,#7aff00,#72ff00,#69ff00,#60ff00,#57ff00,#4fff00,#46ff00,#3fff00,#38ff00,#31ff00,#2bff00,#26ff00,#21ff00,#1dff00,#1aff00,#16ff00,#12ff00,#0fff00,#0cff00,#09ff00,#06ff00,#04ff00,#02ff00,#01ff00,#00ff00)"></i><i style="height:2px;background:linear-gradient(90deg,#ffba00,#ffbf00,#ffc400,#ffc900,#ffcf00,#ffd400,#ffd900,#ffdf00,#ffe500,#ffec00,#fff400,#fffe00,#f4ff00,#e9ff00,#ddff00,#d2ff00,#c8ff00,#bdff00,#b3ff00,#a9ff00,#9fff00,#95ff00,#8cff00,#83ff00,#7aff00,#71ff00,#69ff00,#60ff00,#57ff00,#4fff00,#47ff00,#3fff00,#38ff00,#31ff00,#2bff00,#26ff00,#22ff00,#1eff00,#1aff00,#16ff00,#12ff00,#0fff00,#0cff00,#09ff00,#06ff00,#04ff00,#02ff00,#01ff00,#00ff00)"></i><i style="height:2px;background:linear-gradient(90deg,#ffbd00,#ffc200,#ffc700,#ffcc00,#ffd100,#ffd700,#ffdc00,#ffe100,#ffe700,#ffee00,#fff500,#ffff00,#f3ff00,#e7ff00,#dcff00,#d2ff00,#c7ff00,#bcff00,#b2ff00,#a8ff00,#9fff00,#95ff00,#8cff00,#83ff00,#7aff00,#71ff00,#68ff00,#60ff00,#57ff00,#4fff00,#47ff00,#3fff00,#38ff00,#31ff00,#2bff00,#26ff00,#22ff00,#1eff00,#1aff00,#16ff00,#12ff00,#0fff00,#0cff00,#09ff00,#06ff00,#04ff00,#02ff00,#01ff00,#00ff00)"></i><i style="height:2px;background:linear-gradient(90deg,#ffc000,#ffc500,#ffca00,#ffcf00,#ffd400,#ffd900,#ffde00,#ffe300,#ffe900,#fff000,#fff700,#fdff00,#f1ff00,#e6ff00,#dbff00,#d1ff00,#c6ff00,#bcff00,#b2ff00,#a8ff00,#9eff00,#95ff00,#8bff00,#83ff00,#7aff00,#71ff00,#68ff00,#60ff00,#57ff00,#4fff00,#46ff00,#3fff00,#38ff00,#31ff00,#2bff00,#26ff00,#22ff00,#1eff00,#1aff00,#16ff00,#12ff00,#0fff00,#0cff00,#09ff00,#06ff00,#04ff00,#02ff00,#01ff00,#00ff00)"></i><i style="height:2px;background:linear-gradient(90deg,#ffc300,#ffc800,#ffcd00,#ffd100,#ffd600,#ffdc00,#ffe000,#ffe500,#ffeb00,#fff200,#fff900,#fcff00,#f0ff00,#e5ff00,#daff00,#cfff00,#c5ff00,#bbff00,#b1ff00,#a7ff00,#9eff00,#94ff00,#8bff00,#82ff00,#7aff00,#71ff00,#68ff00,#5fff00,#57ff00,#4eff00,#46ff00,#3fff00,#38ff00,#31ff00,#2bff00,#26ff00,#22ff00,#1eff00,#1aff00,#16ff00,#12ff00,#0fff00,#0cff00,#09ff00,#06ff00,#04ff00,#02ff00,#01ff00,#00ff00)"></i><i style="height:2px;background:linear-gradient(90deg,#ffc600,#ffcb00,#ffd000,#ffd400,#ffd900,#ffde00,#ffe300,#ffe800,#ffed00,#fff400,#fffb00,#faff00,#eeff00,#e3ff00,#d9ff00,#ceff00,#c4ff00,#baff00,#b0ff00,#a6ff00,#9dff00,#94ff00,#8bff00,#82ff00,#79ff00,#71ff00,#68ff00,#5fff00,#57ff00,#4eff00,#46ff00,#3fff00,#38ff00,#31ff00,#2bff00,#26ff00,#22ff00,#1eff00,#1aff00,#16ff00,#12ff00,#0fff00,#0cff00,#09ff00,#06ff00,#04ff00,#02ff00,#01ff00,#00ff00)"></i><i style="height:2px;background:linear-gradient(90deg,#ffc900,#ffce00,#ffd300,#ffd700,#ffdc00,#ffe100,#ffe500,#ffea00,#ffef00,#fff600,#fffd00,#f8ff00,#edff00,#e2ff00,#d8ff00,#cdff00,#c3ff00,#b9ff00,#afff00,#a6ff00,#9cff00,#93ff00,#8aff00,#81ff00,#79ff00,#70ff00,#68ff00,#5fff00,#57ff00,#4eff00,#46ff00,#3fff00,#38ff00,#31ff00,#2bff00,#26ff00,#22ff00,#1eff00,#1aff00,#16ff00,#12ff00,#0fff00,#0cff00,#09ff00,#06ff00,#04ff00,#02ff00,#01ff00,#00ff00)"></i><i style="height:2px;background:linear-gradient(90deg,#ffcc00,#ffd100,#ffd500,#ffda00,#ffde00,#ffe300,#ffe800,#ffec00,#fff200,#fff800,#fffe00,#f7ff00,#ebff00,#e1ff00,#d6ff00,#ccff00,#c2ff00,#b8ff00,#aeff00,#a5ff00,#9cff00,#93ff00,#8aff00,#81ff00,#79ff00,#70ff00,#67ff00,#5fff00,#56ff00,#4eff00,#46ff00,#3fff00,#38ff00,#31ff00,#2bff00,#26ff00,#22ff00,#1eff00,#1aff00,#16ff00,#12ff00,#0fff00,#0cff00,#09ff00,#06ff00,#04ff00,#02ff00,#01ff00,#00ff00)"></i><i style="height:2px;background:linear-gradient(90deg,#ffcf00,#ffd400,#ffd800,#ffdc00,#ffe100,#ffe600,#ffea00,#ffef00,#fff400,#fffa00,#feff00,#f5ff00,#eaff00,#dfff00,#d5ff00,#cbff00,#c1ff00,#b7ff00,#aeff00,#a4ff00,#9bff00,#92ff00,#89ff00,#81ff00,#78ff00,#70ff00,#67ff00,#5fff00,#56ff00,#4eff00,#46ff00,#3fff00,#38ff00,#31ff00,#2bff00,#26ff00,#22ff00,#1eff00,#1aff00,#16ff00,#12ff00,#0fff00,#0cff00,#09ff00,#06ff00,#04ff00,#02ff00,#01ff00,#00ff00)"></i><i style="height:2px;background:linear-gradient(90deg,#ffd200,#ffd700,#ffdb00,#ffdf00,#ffe400,#ffe900,#ffed00,#fff100,#fff600,#fffc00,#fcff00,#f3ff00,#e8ff00,#deff00,#d4ff00,#caff00,#c0ff00,#b6ff00,#adff00,#a3ff00,#9aff00,#91ff00,#89ff00,#80ff00,#78ff00,#6fff00,#67ff00,#5eff00,#56ff00,#4eff00,#46ff00,#3eff00,#37ff00,#31ff00,#2bff00,#26ff00,#22ff00,#1eff00,#1aff00,#16ff00,#12ff00,#0fff00,#0cff00,#09ff00,#06ff00,#04ff00,#02ff00,#01ff00,#00ff00)"></i><i style="height:2px;background:linear-gradient(90deg,#ffd500,#ffda00,#ffde00,#ffe200,#ffe600,#ffeb00,#ffef00,#fff300,#fff800,#fffe00,#faff00,#f1ff00,#e6ff00,#dcff00,#d2ff00,#c8ff00,#bfff00,#b5ff00,#acff00,#a3ff00,#9aff00,#91ff00,#88ff00,#80ff00,#77ff00,#6fff00,#67ff00,#5eff00,#56ff00,#4eff00,#46ff00,#3eff00,#37ff00,#31ff00,#2bff00,#26ff00,#22ff00,#1eff00,#1aff00,#16ff00,#12ff00,#0fff00,#0cff00,#09ff00,#06ff00,#04ff00,#02ff00,#01ff00,#00ff00)"></i><i style="height:3px;background:linear-gradient(90deg,#ffd900,#ffdd00,#ffe200,#ffe600,#ffea00,#ffee00,#fff200,#fff600,#fffb00,#fdff00,#f7ff00,#efff00,#e4ff00,#daff00,#d1ff00,#c7ff00,#bdff00,#b4ff00,#abff00,#a1ff00,#99ff00,#90ff00,#87ff00,#7fff00,#77ff00,#6eff00,#66ff00,#5eff00,#55ff00,#4dff00,#46ff00,#3eff00,#37ff00,#31ff00,#2bff00,#26ff00,#22ff00,#1eff00,#1aff00,#16ff00,#12ff00,#0fff00,#0cff00,#09ff00,#06ff00,#04ff00,#02ff00,#01ff00,#00ff00)"></i><i style="height:3px;background:linear-gradient(90deg,#ffde00,#ffe200,#ffe600,#ffea00,#ffee00,#fff200,#fff600,#fffa00,#fffe00,#faff00,#f4ff00,#ecff00,#e2ff00,#d8ff00,#ceff00,#c5ff00,#bbff00,#b2ff00,#a9ff00,#a0ff00,#97ff00,#8fff00,#86ff00,#7eff00,#76ff00,#6eff00,#65ff00,#5dff00,#55ff00,#4dff00,#45ff00,#3eff00,#37ff00,#31ff00,#2bff00,#26ff00,#21ff00,#1eff00,#1aff00,#16ff00,#12ff00,#0fff00,#0cff00,#09ff00,#06ff00,#04ff00,#02ff00,#01ff00,#00ff00)"></i><i style="height:3px;background:linear-gradient(90deg,#ffe200,#ffe600,#ffea00,#ffee00,#fff200,#fff600,#fffa00,#fffd00,#fcff00,#f7ff00,#f1ff00,#e9ff00,#dfff00,#d6ff00,#ccff00,#c3ff00,#baff00,#b0ff00,#a7ff00,#9fff00,#96ff00,#8eff00,#85ff00,#7dff00,#75ff00,#6dff00,#65ff00,#5dff00,#55ff00,#4dff00,#45ff00,#3eff00,#37ff00,#30ff00,#2bff00,#26ff00,#21ff00,#1dff00,#1aff00,#16ff00,#12ff00,#0fff00,#0cff00,#09ff00,#06ff00,#04ff00,#02ff00,#01ff00,#00ff00)"></i><i style="height:3px;background:linear-gradient(90deg,#ffe700,#ffeb00,#ffef00,#fff200,#fff600,#fffa00,#fffe00,#fdff00,#f9ff00,#f3ff00,#eeff00,#e6ff00,#dcff00,#d3ff00,#caff00,#c1ff00,#b8ff00,#afff00,#a6ff00,#9dff00,#95ff00,#8cff00,#84ff00,#7cff00,#74ff00,#6cff00,#64ff00,#5cff00,#54ff00,#4cff00,#45ff00,#3dff00,#37ff00,#30ff00,#2bff00,#26ff00,#21ff00,#1dff00,#1aff00,#16ff00,#12ff00,#0fff00,#0cff00,#09ff00,#06ff00,#04ff00,#02ff00,#01ff00,#00ff00)"></i><i style="height:3px;background:linear-gradient(90deg,#ffeb00,#ffef00,#fff300,#fff600,#fffa00,#fffe00,#fdff00,#f9ff00,#f5ff00,#f0ff00,#ebff00,#e3ff00,#daff00,#d1ff00,#c7ff00,#beff00,#b6ff00,#adff00,#a4ff00,#9cff00,#93ff00,#8bff00,#83ff00,#7bff00,#73ff00,#6bff00,#63ff00,#5bff00,#53ff00,#4cff00,#44ff00,#3dff00,#36ff00,#30ff00,#2aff00,#25ff00,#21ff00,#1dff00,#19ff00,#16ff00,#12ff00,#0fff00,#0cff00,#09ff00,#06ff00,#04ff00,#02ff00,#01ff00,#00ff00)"></i><i style="height:3px;background:linear-gradient(90deg,#fff000,#fff400,#fff700,#fffb00,#fffe00,#fcff00,#f9ff00,#f5ff00,#f1ff00,#edff00,#e8ff00,#e0ff00,#d7ff00,#ceff00,#c5ff00,#bcff00,#b3ff00,#abff00,#a2ff00,#9aff00,#92ff00,#8aff00,#82ff00,#7aff00,#72ff00,#6aff00,#63ff00,#5bff00,#53ff00,#4bff00,#44ff00,#3dff00,#36ff00,#30ff00,#2aff00,#25ff00,#21ff00,#1dff00,#19ff00,#16ff00,#12ff00,#0fff00,#0cff00,#09ff00,#06ff00,#04ff00,#02ff00,#01ff00,#00ff00)"></i><i style="height:3px;background:linear-gradient(90deg,#fff400,#fff800,#fffc00,#ffff00,#fcff00,#f8ff00,#f5ff00,#f2ff00,#eeff00,#e9ff00,#e4ff00,#ddff00,#d4ff00,#cbff00,#c3ff00,#baff00,#b1ff00,#a9ff00,#a1ff00,#98ff00,#90ff00,#88ff00,#80ff00,#79ff00,#71ff00,#6aff00,#62ff00,#5aff00,#52ff00,#4bff00,#43ff00,#3cff00,#36ff00,#2fff00,#2aff00,#25ff00,#21ff00,#1dff00,#19ff00,#16ff00,#12ff00,#0fff00,#0cff00,#09ff00,#06ff00,#04ff00,#02ff00,#01ff00,#00ff00)"></i><i style="height:3px;background:linear-gradient(90deg,#fff900,#fffd00,#feff00,#fbff00,#f7ff00,#f4ff00,#f1ff00,#eeff00,#eaff00,#e6ff00,#e1ff00,#daff00,#d1ff00,#c9ff00,#c0ff00,#b8ff00,#afff00,#a7ff00,#9fff00,#97ff00,#8fff00,#87ff00,#7fff00,#77ff00,#70ff00,#69ff00,#61ff00,#59ff00,#52ff00,#4aff00,#43ff00,#3cff00,#35ff00,#2fff00,#2aff00,#25ff00,#21ff00,#1dff00,#19ff00,#15ff00,#12ff00,#0fff00,#0cff00,#09ff00,#06ff00,#04ff00,#02ff00,#01ff00,#00ff00)"></i><i style="height:3px;background:linear-gradient(90deg,#fffe00,#fdff00,#faff00,#f7ff00,#f3ff00,#f0ff00,#edff00,#eaff00,#e6ff00,#e2ff00,#deff00,#d7ff00,#ceff00,#c6ff00,#bdff00,#b5ff00,#adff00,#a5ff00,#9dff00,#95ff00,#8dff00,#85ff00,#7eff00,#76ff00,#6fff00,#68ff00,#60ff00,#58ff00,#51ff00,#49ff00,#42ff00,#3bff00,#35ff00,#2fff00,#29ff00,#25ff00,#20ff00,#1dff00,#19ff00,#15ff00,#12ff00,#0fff00,#0cff00,#09ff00,#06ff00,#04ff00,#02ff00,#01ff00,#00ff00)"></i><i style="height:3px;background:linear-gradient(90deg,#fcff00,#f8ff00,#f5ff00,#f2ff00,#efff00,#ecff00,#e9ff00,#e6ff00,#e3ff00,#dfff00,#daff00,#d4ff00,#cbff00,#c3ff00,#bbff00,#b3ff00,#abff00,#a3ff00,#9bff00,#93ff00,#8bff00,#84ff00,#7cff00,#75ff00,#6eff00,#66ff00,#5fff00,#57ff00,#50ff00,#49ff00,#42ff00,#3bff00,#34ff00,#2eff00,#29ff00,#24ff00,#20ff00,#1cff00,#19ff00,#15ff00,#12ff00,#0eff00,#0bff00,#09ff00,#06ff00,#04ff00,#02ff00,#01ff00,#00ff00)"></i><i style="height:3px;background:linear-gradient(90deg,#f7ff00,#f4ff00,#f1ff00,#eeff00,#ebff00,#e8ff00,#e5ff00,#e2ff00,#dfff00,#dbff00,#d7ff00,#d1ff00,#c8ff00,#c0ff00,#b8ff00,#b0ff00,#a8ff00,#a0ff00,#99ff00,#91ff00,#89ff00,#82ff00,#7bff00,#74ff00,#6cff00,#65ff00,#5eff00,#57ff00,#4fff00,#48ff00,#41ff00,#3aff00,#34ff00,#2eff00,#29ff00,#24ff00,#20ff00,#1cff00,#19ff00,#15ff00,#12ff00,#0eff00,#0bff00,#09ff00,#06ff00,#04ff00,#02ff00,#01ff00,#00ff00)"></i><i style="height:3px;background:linear-gradient(90deg,#f3ff00,#efff00,#ecff00,#eaff00,#e7ff00,#e3ff00,#e1ff00,#deff00,#dbff00,#d7ff00,#d3ff00,#cdff00,#c5ff00,#bdff00,#b5ff00,#aeff00,#a6ff00,#9eff00,#97ff00,#8fff00,#88ff00,#80ff00,#79ff00,#72ff00,#6bff00,#64ff00,#5dff00,#56ff00,#4eff00,#47ff00,#40ff00,#3aff00,#33ff00,#2eff00,#28ff00,#24ff00,#20ff00,#1cff00,#18ff00,#15ff00,#11ff00,#0eff00,#0bff00,#09ff00,#06ff00,#04ff00,#02ff00,#01ff00,#00ff00)"></i><i style="height:3px;background:linear-gradient(90deg,#eeff00,#ebff00,#e8ff00,#e5ff00,#e2ff00,#dfff00,#ddff00,#daff00,#d7ff00,#d4ff00,#d0ff00,#caff00,#c2ff00,#baff00,#b3ff00,#abff00,#a3ff00,#9cff00,#94ff00,#8dff00,#86ff00,#7fff00,#78ff00,#71ff00,#6aff00,#63ff00,#5cff00,#55ff00,#4eff00,#46ff00,#40ff00,#39ff00,#33ff00,#2dff00,#28ff00,#23ff00,#1fff00,#1cff00,#18ff00,#15ff00,#11ff00,#0eff00,#0bff00,#08ff00,#06ff00,#04ff00,#02ff00,#01ff00,#00ff00)"></i><i style="height:3px;background:linear-gradient(90deg,#eaff00,#e6ff00,#e4ff00,#e1ff00,#deff00,#dbff00,#d9ff00,#d7ff00,#d4ff00,#d0ff00,#ccff00,#c7ff00,#bfff00,#b7ff00,#b0ff00,#a8ff00,#a1ff00,#9aff00,#92ff00,#8bff00,#84ff00,#7dff00,#76ff00,#6fff00,#68ff00,#62ff00,#5bff00,#54ff00,#4dff00,#46ff00,#3fff00,#39ff00,#32ff00,#2dff00,#28ff00,#23ff00,#1fff00,#1bff00,#18ff00,#14ff00,#11ff00,#0eff00,#0bff00,#08ff00,#06ff00,#04ff00,#02ff00,#01ff00,#00ff00)"></i><i style="height:3px;background:linear-gradient(90deg,#e5ff00,#e2ff00,#dfff00,#ddff00,#daff00,#d7ff00,#d5ff00,#d3ff00,#d0ff00,#ccff00,#c9ff00,#c3ff00,#bbff00,#b4ff00,#adff00,#a6ff00,#9eff00,#97ff00,#90ff00,#89ff00,#82ff00,#7bff00,#74ff00,#6eff00,#67ff00,#60ff00,#59ff00,#53ff00,#4cff00,#45ff00,#3eff00,#38ff00,#32ff00,#2cff00,#27ff00,#23ff00,#1fff00,#1bff00,#18ff00,#14ff00,#11ff00,#0eff00,#0bff00,#08ff00,#06ff00,#04ff00,#02ff00,#01ff00,#00ff00)"></i><i style="height:3px;background:linear-gradient(90deg,#e0ff00,#ddff00,#dbff00,#d8ff00,#d6ff00,#d3ff00,#d1ff00,#cfff00,#ccff00,#c8ff00,#c5ff00,#c0ff00,#b8ff00,#b1ff00,#aaff00,#a3ff00,#9cff00,#95ff00,#8eff00,#87ff00,#80ff00,#79ff00,#73ff00,#6cff00,#66ff00,#5fff00,#58ff00,#51ff00,#4bff00,#44ff00,#3dff00,#37ff00,#31ff00,#2cff00,#27ff00,#22ff00,#1eff00,#1bff00,#17ff00,#14ff00,#11ff00,#0eff00,#0bff00,#08ff00,#06ff00,#04ff00,#02ff00,#01ff00,#00ff00)"></i><i style="height:3px;background:linear-gradient(90deg,#dcff00,#d9ff00,#d6ff00,#d4ff00,#d1ff00,#cfff00,#cdff00,#cbff00,#c8ff00,#c5ff00,#c1ff00,#bcff00,#b5ff00,#aeff00,#a7ff00,#a0ff00,#99ff00,#92ff00,#8bff00,#85ff00,#7eff00,#77ff00,#71ff00,#6aff00,#64ff00,#5eff00,#57ff00,#50ff00,#4aff00,#43ff00,#3dff00,#36ff00,#31ff00,#2bff00,#26ff00,#22ff00,#1eff00,#1bff00,#17ff00,#14ff00,#11ff00,#0eff00,#0bff00,#08ff00,#06ff00,#04ff00,#02ff00,#01ff00,#00ff00)"></i><i style="height:3px;background:linear-gradient(90deg,#d7ff00,#d4ff00,#d2ff00,#d0ff00,#cdff00,#cbff00,#c9ff00,#c7ff00,#c4ff00,#c1ff00,#beff00,#b9ff00,#b2ff00,#abff00,#a4ff00,#9dff00,#96ff00,#90ff00,#89ff00,#82ff00,#7cff00,#75ff00,#6fff00,#69ff00,#62ff00,#5cff00,#56ff00,#4fff00,#49ff00,#42ff00,#3cff00,#36ff00,#30ff00,#2bff00,#26ff00,#21ff00,#1eff00,#1aff00,#17ff00,#14ff00,#10ff00,#0dff00,#0bff00,#08ff00,#06ff00,#04ff00,#02ff00,#01ff00,#00ff00)"></i><i style="height:3px;background:linear-gradient(90deg,#d3ff00,#d0ff00,#ceff00,#cbff00,#c9ff00,#c6ff00,#c4ff00,#c3ff00,#c0ff00,#bdff00,#baff00,#b5ff00,#aeff00,#a8ff00,#a1ff00,#9aff00,#94ff00,#8dff00,#87ff00,#80ff00,#7aff00,#73ff00,#6dff00,#67ff00,#61ff00,#5bff00,#54ff00,#4eff00,#47ff00,#41ff00,#3bff00,#35ff00,#2fff00,#2aff00,#25ff00,#21ff00,#1dff00,#1aff00,#17ff00,#13ff00,#10ff00,#0dff00,#0bff00,#08ff00,#06ff00,#04ff00,#02ff00,#01ff00,#00ff00)"></i><i style="height:3px;background:linear-gradient(90deg,#ceff00,#cbff00,#c9ff00,#c7ff00,#c5ff00,#c2ff00,#c0ff00,#beff00,#bcff00,#b9ff00,#b6ff00,#b2ff00,#abff00,#a4ff00,#9eff00,#97ff00,#91ff00,#8bff00,#84ff00,#7eff00,#78ff00,#71ff00,#6bff00,#65ff00,#5fff00,#59ff00,#53ff00,#4dff00,#46ff00,#40ff00,#3aff00,#34ff00,#2fff00,#29ff00,#25ff00,#21ff00,#1dff00,#1aff00,#16ff00,#13ff00,#10ff00,#0dff00,#0aff00,#08ff00,#06ff00,#04ff00,#02ff00,#01ff00,#00ff00)"></i><i style="height:3px;background:linear-gradient(90deg,#c9ff00,#c7ff00,#c5ff00,#c2ff00,#c0ff00,#beff00,#bcff00,#baff00,#b8ff00,#b5ff00,#b3ff00,#aeff00,#a7ff00,#a1ff00,#9bff00,#94ff00,#8eff00,#88ff00,#82ff00,#7cff00,#75ff00,#6fff00,#69ff00,#63ff00,#5eff00,#58ff00,#52ff00,#4bff00,#45ff00,#3fff00,#39ff00,#33ff00,#2eff00,#29ff00,#24ff00,#20ff00,#1cff00,#19ff00,#16ff00,#13ff00,#10ff00,#0dff00,#0aff00,#08ff00,#06ff00,#04ff00,#02ff00,#01ff00,#00ff00)"></i><i style="height:3px;background:linear-gradient(90deg,#c5ff00,#c2ff00,#c0ff00,#beff00,#bcff00,#baff00,#b8ff00,#b6ff00,#b4ff00,#b1ff00,#afff00,#aaff00,#a4ff00,#9eff00,#98ff00,#91ff00,#8bff00,#85ff00,#7fff00,#79ff00,#73ff00,#6dff00,#67ff00,#62ff00,#5cff00,#56ff00,#50ff00,#4aff00,#44ff00,#3eff00,#38ff00,#33ff00,#2dff00,#28ff00,#24ff00,#20ff00,#1cff00,#19ff00,#16ff00,#13ff00,#10ff00,#0dff00,#0aff00,#08ff00,#05ff00,#04ff00,#02ff00,#01ff00,#00ff00)"></i><i style="height:3px;background:linear-gradient(90deg,#c0ff00,#beff00,#bcff00,#baff00,#b8ff00,#b5ff00,#b4ff00,#b2ff00,#b0ff00,#aeff00,#abff00,#a7ff00,#a0ff00,#9aff00,#94ff00,#8eff00,#88ff00,#83ff00,#7dff00,#77ff00,#71ff00,#6bff00,#65ff00,#60ff00,#5aff00,#55ff00,#4fff00,#49ff00,#43ff00,#3dff00,#37ff00,#32ff00,#2cff00,#28ff00,#23ff00,#1fff00,#1cff00,#18ff00,#15ff00,#12ff00,#0fff00,#0dff00,#0aff00,#08ff00,#05ff00,#04ff00,#02ff00,#01ff00,#00ff00)"></i><i style="height:3px;background:linear-gradient(90deg,#bcff00,#b9ff00,#b7ff00,#b5ff00,#b3ff00,#b1ff00,#b0ff00,#aeff00,#acff00,#aaff00,#a7ff00,#a3ff00,#9dff00,#97ff00,#91ff00,#8bff00,#86ff00,#80ff00,#7aff00,#74ff00,#6fff00,#69ff00,#63ff00,#5eff00,#58ff00,#53ff00,#4dff00,#47ff00,#42ff00,#3cff00,#36ff00,#31ff00,#2cff00,#27ff00,#22ff00,#1fff00,#1bff00,#18ff00,#15ff00,#12ff00,#0fff00,#0cff00,#0aff00,#07ff00,#05ff00,#03ff00,#02ff00,#01ff00,#00ff00)"></i><i style="height:3px;background:linear-gradient(90deg,#b7ff00,#b5ff00,#b3ff00,#b1ff00,#afff00,#adff00,#abff00,#aaff00,#a8ff00,#a6ff00,#a3ff00,#9fff00,#99ff00,#94ff00,#8eff00,#88ff00,#83ff00,#7dff00,#77ff00,#72ff00,#6cff00,#67ff00,#61ff00,#5cff00,#57ff00,#51ff00,#4cff00,#46ff00,#40ff00,#3bff00,#35ff00,#30ff00,#2bff00,#26ff00,#22ff00,#1eff00,#1bff00,#18ff00,#15ff00,#12ff00,#0fff00,#0cff00,#0aff00,#07ff00,#05ff00,#03ff00,#02ff00,#01ff00,#00ff00)"></i><i style="height:3px;background:linear-gradient(90deg,#b2ff00,#b0ff00,#aeff00,#adff00,#abff00,#a9ff00,#a7ff00,#a6ff00,#a4ff00,#a2ff00,#9fff00,#9cff00,#96ff00,#90ff00,#8bff00,#85ff00,#80ff00,#7aff00,#75ff00,#6fff00,#6aff00,#65ff00,#5fff00,#5aff00,#55ff00,#50ff00,#4aff00,#45ff00,#3fff00,#3aff00,#34ff00,#2fff00,#2aff00,#25ff00,#21ff00,#1dff00,#1aff00,#17ff00,#14ff00,#11ff00,#0fff00,#0cff00,#09ff00,#07ff00,#05ff00,#03ff00,#02ff00,#01ff00,#00ff00)"></i><i style="height:3px;background:linear-gradient(90deg,#aeff00,#acff00,#aaff00,#a8ff00,#a6ff00,#a4ff00,#a3ff00,#a2ff00,#a0ff00,#9eff00,#9cff00,#98ff00,#92ff00,#8dff00,#88ff00,#82ff00,#7dff00,#77ff00,#72ff00,#6dff00,#68ff00,#62ff00,#5dff00,#58ff00,#53ff00,#4eff00,#49ff00,#43ff00,#3eff00,#38ff00,#33ff00,#2eff00,#29ff00,#25ff00,#21ff00,#1dff00,#1aff00,#17ff00,#14ff00,#11ff00,#0eff00,#0cff00,#09ff00,#07ff00,#05ff00,#03ff00,#02ff00,#01ff00,#00ff00)"></i><i style="height:3px;background:linear-gradient(90deg,#a9ff00,#a7ff00,#a5ff00,#a4ff00,#a2ff00,#a0ff00,#9fff00,#9eff00,#9cff00,#9aff00,#98ff00,#94ff00,#8fff00,#89ff00,#84ff00,#7fff00,#7aff00,#75ff00,#6fff00,#6aff00,#65ff00,#60ff00,#5bff00,#56ff00,#51ff00,#4cff00,#47ff00,#42ff00,#3cff00,#37ff00,#32ff00,#2dff00,#28ff00,#24ff00,#20ff00,#1cff00,#19ff00,#16ff00,#13ff00,#11ff00,#0eff00,#0cff00,#09ff00,#07ff00,#05ff00,#03ff00,#02ff00,#01ff00,#00ff00)"></i><i style="height:3px;background:linear-gradient(90deg,#a5ff00,#a3ff00,#a1ff00,#9fff00,#9eff00,#9cff00,#9bff00,#99ff00,#98ff00,#96ff00,#94ff00,#90ff00,#8bff00,#86ff00,#81ff00,#7cff00,#77ff00,#72ff00,#6dff00,#68ff00,#63ff00,#5eff00,#59ff00,#54ff00,#4fff00,#4aff00,#45ff00,#40ff00,#3bff00,#36ff00,#31ff00,#2cff00,#27ff00,#23ff00,#1fff00,#1cff00,#19ff00,#16ff00,#13ff00,#10ff00,#0eff00,#0bff00,#09ff00,#07ff00,#05ff00,#03ff00,#02ff00,#01ff00,#00ff00)"></i><i style="height:3px;background:linear-gradient(90deg,#a0ff00,#9eff00,#9cff00,#9bff00,#99ff00,#98ff00,#96ff00,#95ff00,#94ff00,#92ff00,#90ff00,#8cff00,#87ff00,#82ff00,#7eff00,#79ff00,#74ff00,#6fff00,#6aff00,#65ff00,#60ff00,#5bff00,#57ff00,#52ff00,#4dff00,#49ff00,#44ff00,#3fff00,#3aff00,#35ff00,#30ff00,#2bff00,#27ff00,#22ff00,#1eff00,#1bff00,#18ff00,#15ff00,#13ff00,#10ff00,#0dff00,#0bff00,#09ff00,#07ff00,#05ff00,#03ff00,#02ff00,#01ff00,#00ff00)"></i><i style="height:3px;background:linear-gradient(90deg,#9bff00,#9aff00,#98ff00,#96ff00,#95ff00,#93ff00,#92ff00,#91ff00,#90ff00,#8eff00,#8cff00,#89ff00,#84ff00,#7fff00,#7aff00,#75ff00,#71ff00,#6cff00,#67ff00,#62ff00,#5eff00,#59ff00,#54ff00,#50ff00,#4bff00,#47ff00,#42ff00,#3dff00,#38ff00,#33ff00,#2fff00,#2aff00,#26ff00,#22ff00,#1eff00,#1aff00,#18ff00,#15ff00,#12ff00,#10ff00,#0dff00,#0bff00,#09ff00,#06ff00,#05ff00,#03ff00,#02ff00,#01ff00,#00ff00)"></i><i style="height:3px;background:linear-gradient(90deg,#97ff00,#95ff00,#93ff00,#92ff00,#90ff00,#8fff00,#8eff00,#8dff00,#8bff00,#8aff00,#88ff00,#85ff00,#80ff00,#7bff00,#77ff00,#72ff00,#6dff00,#69ff00,#64ff00,#60ff00,#5bff00,#57ff00,#52ff00,#4eff00,#49ff00,#45ff00,#40ff00,#3cff00,#37ff00,#32ff00,#2dff00,#29ff00,#25ff00,#21ff00,#1dff00,#1aff00,#17ff00,#14ff00,#12ff00,#0fff00,#0dff00,#0bff00,#08ff00,#06ff00,#05ff00,#03ff00,#02ff00,#01ff00,#00ff00)"></i><i style="height:3px;background:linear-gradient(90deg,#92ff00,#91ff00,#8fff00,#8eff00,#8cff00,#8bff00,#8aff00,#89ff00,#87ff00,#86ff00,#84ff00,#81ff00,#7cff00,#78ff00,#73ff00,#6fff00,#6aff00,#66ff00,#61ff00,#5dff00,#59ff00,#54ff00,#50ff00,#4cff00,#47ff00,#43ff00,#3fff00,#3aff00,#35ff00,#31ff00,#2cff00,#28ff00,#24ff00,#20ff00,#1cff00,#19ff00,#16ff00,#14ff00,#11ff00,#0fff00,#0dff00,#0aff00,#08ff00,#06ff00,#04ff00,#03ff00,#02ff00,#01ff00,#00ff00)"></i><i style="height:3px;background:linear-gradient(90deg,#8eff00,#8cff00,#8bff00,#89ff00,#88ff00,#86ff00,#85ff00,#84ff00,#83ff00,#81ff00,#80ff00,#7dff00,#78ff00,#74ff00,#70ff00,#6cff00,#67ff00,#63ff00,#5fff00,#5aff00,#56ff00,#52ff00,#4eff00,#49ff00,#45ff00,#41ff00,#3dff00,#38ff00,#34ff00,#2fff00,#2bff00,#27ff00,#23ff00,#1fff00,#1cff00,#18ff00,#16ff00,#13ff00,#11ff00,#0fff00,#0cff00,#0aff00,#08ff00,#06ff00,#04ff00,#03ff00,#02ff00,#01ff00,#00ff00)"></i><i style="height:3px;background:linear-gradient(90deg,#89ff00,#87ff00,#86ff00,#85ff00,#83ff00,#82ff00,#81ff00,#80ff00,#7fff00,#7dff00,#7cff00,#79ff00,#75ff00,#71ff00,#6cff00,#68ff00,#64ff00,#60ff00,#5cff00,#58ff00,#53ff00,#4fff00,#4bff00,#47ff00,#43ff00,#3fff00,#3bff00,#37ff00,#32ff00,#2eff00,#2aff00,#26ff00,#22ff00,#1eff00,#1bff00,#18ff00,#15ff00,#13ff00,#10ff00,#0eff00,#0cff00,#0aff00,#08ff00,#06ff00,#04ff00,#03ff00,#02ff00,#01ff00,#00ff00)"></i><i style="height:3px;background:linear-gradient(90deg,#84ff00,#83ff00,#82ff00,#80ff00,#7fff00,#7eff00,#7dff00,#7cff00,#7bff00,#79ff00,#78ff00,#75ff00,#71ff00,#6dff00,#69ff00,#65ff00,#61ff00,#5dff00,#59ff00,#55ff00,#51ff00,#4dff00,#49ff00,#45ff00,#41ff00,#3dff00,#39ff00,#35ff00,#31ff00,#2dff00,#29ff00,#25ff00,#21ff00,#1dff00,#1aff00,#17ff00,#15ff00,#12ff00,#10ff00,#0eff00,#0cff00,#09ff00,#08ff00,#06ff00,#04ff00,#03ff00,#01ff00,#01ff00,#00ff00)"></i><i style="height:3px;background:linear-gradient(90deg,#80ff00,#7eff00,#7dff00,#7cff00,#7bff00,#79ff00,#78ff00,#78ff00,#77ff00,#75ff00,#74ff00,#71ff00,#6dff00,#69ff00,#65ff00,#62ff00,#5eff00,#5aff00,#56ff00,#52ff00,#4eff00,#4aff00,#47ff00,#43ff00,#3fff00,#3bff00,#37ff00,#33ff00,#2fff00,#2bff00,#27ff00,#23ff00,#20ff00,#1cff00,#19ff00,#16ff00,#14ff00,#12ff00,#0fff00,#0dff00,#0bff00,#09ff00,#07ff00,#06ff00,#04ff00,#03ff00,#01ff00,#01ff00,#00ff00)"></i><i style="height:3px;background:linear-gradient(90deg,#7bff00,#7aff00,#79ff00,#77ff00,#76ff00,#75ff00,#74ff00,#73ff00,#72ff00,#71ff00,#70ff00,#6dff00,#69ff00,#66ff00,#62ff00,#5eff00,#5aff00,#57ff00,#53ff00,#4fff00,#4cff00,#48ff00,#44ff00,#41ff00,#3dff00,#39ff00,#36ff00,#32ff00,#2eff00,#2aff00,#26ff00,#22ff00,#1fff00,#1bff00,#18ff00,#16ff00,#13ff00,#11ff00,#0fff00,#0dff00,#0bff00,#09ff00,#07ff00,#05ff00,#04ff00,#03ff00,#01ff00,#01ff00,#00ff00)"></i><i style="height:3px;background:linear-gradient(90deg,#77ff00,#75ff00,#74ff00,#73ff00,#72ff00,#71ff00,#70ff00,#6fff00,#6eff00,#6dff00,#6cff00,#69ff00,#65ff00,#62ff00,#5eff00,#5bff00,#57ff00,#54ff00,#50ff00,#4cff00,#49ff00,#45ff00,#42ff00,#3eff00,#3bff00,#37ff00,#34ff00,#30ff00,#2cff00,#28ff00,#25ff00,#21ff00,#1eff00,#1bff00,#18ff00,#15ff00,#13ff00,#11ff00,#0eff00,#0cff00,#0aff00,#09ff00,#07ff00,#05ff00,#04ff00,#02ff00,#01ff00,#01ff00,#00ff00)"></i><i style="height:3px;background:linear-gradient(90deg,#72ff00,#71ff00,#70ff00,#6eff00,#6dff00,#6cff00,#6cff00,#6bff00,#6aff00,#69ff00,#67ff00,#65ff00,#62ff00,#5eff00,#5bff00,#57ff00,#54ff00,#50ff00,#4dff00,#4aff00,#46ff00,#43ff00,#3fff00,#3cff00,#39ff00,#35ff00,#32ff00,#2eff00,#2bff00,#27ff00,#23ff00,#20ff00,#1dff00,#1aff00,#17ff00,#14ff00,#12ff00,#10ff00,#0eff00,#0cff00,#0aff00,#08ff00,#07ff00,#05ff00,#04ff00,#02ff00,#01ff00,#01ff00,#00ff00)"></i><i style="height:3px;background:linear-gradient(90deg,#6dff00,#6cff00,#6bff00,#6aff00,#69ff00,#68ff00,#67ff00,#67ff00,#66ff00,#64ff00,#63ff00,#61ff00,#5eff00,#5bff00,#57ff00,#54ff00,#51ff00,#4dff00,#4aff00,#47ff00,#43ff00,#40ff00,#3dff00,#3aff00,#37ff00,#33ff00,#30ff00,#2cff00,#29ff00,#26ff00,#22ff00,#1fff00,#1cff00,#19ff00,#16ff00,#13ff00,#11ff00,#0fff00,#0dff00,#0cff00,#0aff00,#08ff00,#06ff00,#05ff00,#03ff00,#02ff00,#01ff00,#00ff00,#00ff00)"></i><i style="height:3px;background:linear-gradient(90deg,#69ff00,#68ff00,#67ff00,#66ff00,#65ff00,#64ff00,#63ff00,#62ff00,#61ff00,#60ff00,#5fff00,#5dff00,#5aff00,#57ff00,#54ff00,#51ff00,#4dff00,#4aff00,#47ff00,#44ff00,#41ff00,#3eff00,#3bff00,#37ff00,#34ff00,#31ff00,#2eff00,#2bff00,#27ff00,#24ff00,#21ff00,#1eff00,#1bff00,#18ff00,#15ff00,#13ff00,#11ff00,#0fff00,#0dff00,#0bff00,#09ff00,#08ff00,#06ff00,#05ff00,#03ff00,#02ff00,#01ff00,#00ff00,#00ff00)"></i><i style="height:3px;background:linear-gradient(90deg,#64ff00,#63ff00,#62ff00,#61ff00,#60ff00,#5fff00,#5fff00,#5eff00,#5dff00,#5cff00,#5bff00,#59ff00,#56ff00,#53ff00,#50ff00,#4dff00,#4aff00,#47ff00,#44ff00,#41ff00,#3eff00,#3bff00,#38ff00,#35ff00,#32ff00,#2fff00,#2cff00,#29ff00,#26ff00,#23ff00,#1fff00,#1cff00,#19ff00,#17ff00,#14ff00,#12ff00,#10ff00,#0eff00,#0cff00,#0bff00,#09ff00,#07ff00,#06ff00,#04ff00,#03ff00,#02ff00,#01ff00,#00ff00,#00ff00)"></i><i style="height:3px;background:linear-gradient(90deg,#60ff00,#5eff00,#5eff00,#5dff00,#5cff00,#5bff00,#5aff00,#5aff00,#59ff00,#58ff00,#57ff00,#55ff00,#52ff00,#4fff00,#4cff00,#4aff00,#47ff00,#44ff00,#41ff00,#3eff00,#3bff00,#38ff00,#36ff00,#33ff00,#30ff00,#2dff00,#2aff00,#27ff00,#24ff00,#21ff00,#1eff00,#1bff00,#18ff00,#16ff00,#13ff00,#11ff00,#0fff00,#0eff00,#0cff00,#0aff00,#09ff00,#07ff00,#06ff00,#04ff00,#03ff00,#02ff00,#01ff00,#00ff00,#00ff00)"></i><i style="height:3px;background:linear-gradient(90deg,#5bff00,#5aff00,#59ff00,#58ff00,#57ff00,#56ff00,#56ff00,#55ff00,#55ff00,#54ff00,#53ff00,#51ff00,#4eff00,#4cff00,#49ff00,#46ff00,#43ff00,#41ff00,#3eff00,#3bff00,#38ff00,#36ff00,#33ff00,#30ff00,#2eff00,#2bff00,#28ff00,#25ff00,#22ff00,#20ff00,#1dff00,#1aff00,#17ff00,#15ff00,#12ff00,#10ff00,#0fff00,#0dff00,#0bff00,#0aff00,#08ff00,#07ff00,#05ff00,#04ff00,#03ff00,#02ff00,#01ff00,#00ff00,#00ff00)"></i><i style="height:3px;background:linear-gradient(90deg,#56ff00,#55ff00,#54ff00,#54ff00,#53ff00,#52ff00,#52ff00,#51ff00,#50ff00,#50ff00,#4fff00,#4dff00,#4aff00,#48ff00,#45ff00,#43ff00,#40ff00,#3dff00,#3bff00,#38ff00,#36ff00,#33ff00,#31ff00,#2eff00,#2cff00,#29ff00,#26ff00,#24ff00,#21ff00,#1eff00,#1bff00,#19ff00,#16ff00,#14ff00,#12ff00,#10ff00,#0eff00,#0cff00,#0bff00,#09ff00,#08ff00,#06ff00,#05ff00,#04ff00,#03ff00,#02ff00,#01ff00,#00ff00,#00ff00)"></i><i style="height:3px;background:linear-gradient(90deg,#52ff00,#51ff00,#50ff00,#4fff00,#4eff00,#4eff00,#4dff00,#4dff00,#4cff00,#4bff00,#4aff00,#49ff00,#46ff00,#44ff00,#42ff00,#3fff00,#3dff00,#3aff00,#38ff00,#35ff00,#33ff00,#30ff00,#2eff00,#2cff00,#29ff00,#27ff00,#24ff00,#22ff00,#1fff00,#1cff00,#1aff00,#17ff00,#15ff00,#13ff00,#11ff00,#0fff00,#0dff00,#0cff00,#0aff00,#09ff00,#07ff00,#06ff00,#05ff00,#04ff00,#03ff00,#02ff00,#01ff00,#00ff00,#00ff00)"></i><i style="height:3px;background:linear-gradient(90deg,#4dff00,#4cff00,#4bff00,#4bff00,#4aff00,#49ff00,#49ff00,#48ff00,#48ff00,#47ff00,#46ff00,#45ff00,#42ff00,#40ff00,#3eff00,#3cff00,#39ff00,#37ff00,#35ff00,#32ff00,#30ff00,#2eff00,#2cff00,#29ff00,#27ff00,#25ff00,#22ff00,#20ff00,#1dff00,#1bff00,#18ff00,#16ff00,#14ff00,#12ff00,#10ff00,#0eff00,#0dff00,#0bff00,#0aff00,#08ff00,#07ff00,#06ff00,#05ff00,#03ff00,#03ff00,#02ff00,#01ff00,#00ff00,#00ff00)"></i><i style="height:3px;background:linear-gradient(90deg,#48ff00,#48ff00,#47ff00,#46ff00,#46ff00,#45ff00,#45ff00,#44ff00,#44ff00,#43ff00,#42ff00,#41ff00,#3fff00,#3cff00,#3aff00,#38ff00,#36ff00,#34ff00,#32ff00,#2fff00,#2dff00,#2bff00,#29ff00,#27ff00,#25ff00,#23ff00,#20ff00,#1eff00,#1cff00,#19ff00,#17ff00,#15ff00,#13ff00,#11ff00,#0fff00,#0dff00,#0cff00,#0aff00,#09ff00,#08ff00,#07ff00,#05ff00,#04ff00,#03ff00,#02ff00,#02ff00,#01ff00,#00ff00,#00ff00)"></i><i style="height:3px;background:linear-gradient(90deg,#44ff00,#43ff00,#42ff00,#42ff00,#41ff00,#41ff00,#40ff00,#40ff00,#3fff00,#3fff00,#3eff00,#3dff00,#3bff00,#39ff00,#37ff00,#35ff00,#33ff00,#31ff00,#2eff00,#2cff00,#2aff00,#28ff00,#26ff00,#24ff00,#22ff00,#20ff00,#1eff00,#1cff00,#1aff00,#18ff00,#16ff00,#14ff00,#12ff00,#10ff00,#0eff00,#0cff00,#0bff00,#0aff00,#09ff00,#07ff00,#06ff00,#05ff00,#04ff00,#03ff00,#02ff00,#01ff00,#01ff00,#00ff00,#00ff00)"></i><i style="height:3px;background:linear-gradient(90deg,#3fff00,#3fff00,#3eff00,#3dff00,#3dff00,#3cff00,#3cff00,#3cff00,#3bff00,#3aff00,#3aff00,#39ff00,#37ff00,#35ff00,#33ff00,#31ff00,#2fff00,#2dff00,#2bff00,#29ff00,#28ff00,#26ff00,#24ff00,#22ff00,#20ff00,#1eff00,#1cff00,#1aff00,#18ff00,#16ff00,#14ff00,#12ff00,#10ff00,#0fff00,#0dff00,#0cff00,#0aff00,#09ff00,#08ff00,#07ff00,#06ff00,#05ff00,#04ff00,#03ff00,#02ff00,#01ff00,#01ff00,#00ff00,#00ff00)"></i><i style="height:3px;background:linear-gradient(90deg,#3bff00,#3aff00,#39ff00,#39ff00,#38ff00,#38ff00,#37ff00,#37ff00,#37ff00,#36ff00,#36ff00,#34ff00,#33ff00,#31ff00,#2fff00,#2dff00,#2cff00,#2aff00,#28ff00,#26ff00,#25ff00,#23ff00,#21ff00,#20ff00,#1eff00,#1cff00,#1aff00,#18ff00,#16ff00,#15ff00,#13ff00,#11ff00,#0fff00,#0eff00,#0cff00,#0bff00,#0aff00,#09ff00,#07ff00,#06ff00,#05ff00,#04ff00,#04ff00,#03ff00,#02ff00,#01ff00,#01ff00,#00ff00,#00ff00)"></i><i style="height:3px;background:linear-gradient(90deg,#36ff00,#35ff00,#35ff00,#34ff00,#34ff00,#33ff00,#33ff00,#33ff00,#32ff00,#32ff00,#31ff00,#30ff00,#2fff00,#2dff00,#2cff00,#2aff00,#28ff00,#27ff00,#25ff00,#23ff00,#22ff00,#20ff00,#1fff00,#1dff00,#1bff00,#1aff00,#18ff00,#16ff00,#15ff00,#13ff00,#11ff00,#10ff00,#0eff00,#0dff00,#0bff00,#0aff00,#09ff00,#08ff00,#07ff00,#06ff00,#05ff00,#04ff00,#03ff00,#02ff00,#02ff00,#01ff00,#01ff00,#00ff00,#00ff00)"></i><i style="height:3px;background:linear-gradient(90deg,#31ff00,#31ff00,#30ff00,#30ff00,#2fff00,#2fff00,#2fff00,#2fff00,#2eff00,#2eff00,#2dff00,#2cff00,#2bff00,#29ff00,#28ff00,#26ff00,#25ff00,#23ff00,#22ff00,#20ff00,#1fff00,#1eff00,#1cff00,#1bff00,#19ff00,#18ff00,#16ff00,#15ff00,#13ff00,#11ff00,#10ff00,#0eff00,#0dff00,#0cff00,#0aff00,#09ff00,#08ff00,#07ff00,#06ff00,#05ff00,#05ff00,#04ff00,#03ff00,#02ff00,#02ff00,#01ff00,#01ff00,#00ff00,#00ff00)"></i><i style="height:3px;background:linear-gradient(90deg,#2dff00,#2cff00,#2cff00,#2bff00,#2bff00,#2bff00,#2aff00,#2aff00,#2aff00,#29ff00,#29ff00,#28ff00,#27ff00,#25ff00,#24ff00,#23ff00,#21ff00,#20ff00,#1fff00,#1dff00,#1cff00,#1bff00,#19ff00,#18ff00,#17ff00,#15ff00,#14ff00,#13ff00,#11ff00,#10ff00,#0eff00,#0dff00,#0cff00,#0aff00,#09ff00,#08ff00,#07ff00,#07ff00,#06ff00,#05ff00,#04ff00,#03ff00,#03ff00,#02ff00,#01ff00,#01ff00,#01ff00,#00ff00,#00ff00)"></i><i style="height:3px;background:linear-gradient(90deg,#28ff00,#28ff00,#27ff00,#27ff00,#27ff00,#26ff00,#26ff00,#26ff00,#26ff00,#25ff00,#25ff00,#24ff00,#23ff00,#22ff00,#20ff00,#1fff00,#1eff00,#1dff00,#1cff00,#1aff00,#19ff00,#18ff00,#17ff00,#16ff00,#15ff00,#13ff00,#12ff00,#11ff00,#0fff00,#0eff00,#0dff00,#0cff00,#0bff00,#09ff00,#08ff00,#07ff00,#07ff00,#06ff00,#05ff00,#04ff00,#04ff00,#03ff00,#02ff00,#02ff00,#01ff00,#01ff00,#00ff00,#00ff00,#00ff00)"></i><i style="height:3px;background:linear-gradient(90deg,#24ff00,#23ff00,#23ff00,#23ff00,#22ff00,#22ff00,#22ff00,#21ff00,#21ff00,#21ff00,#21ff00,#20ff00,#1fff00,#1eff00,#1dff00,#1cff00,#1bff00,#1aff00,#18ff00,#17ff00,#16ff00,#15ff00,#14ff00,#13ff00,#12ff00,#11ff00,#10ff00,#0fff00,#0eff00,#0dff00,#0bff00,#0aff00,#09ff00,#08ff00,#07ff00,#07ff00,#06ff00,#05ff00,#05ff00,#04ff00,#03ff00,#03ff00,#02ff00,#02ff00,#01ff00,#01ff00,#00ff00,#00ff00,#00ff00)"></i><i style="height:3px;background:linear-gradient(90deg,#1fff00,#1fff00,#1eff00,#1eff00,#1eff00,#1dff00,#1dff00,#1dff00,#1dff00,#1dff00,#1cff00,#1cff00,#1bff00,#1aff00,#19ff00,#18ff00,#17ff00,#16ff00,#15ff00,#14ff00,#13ff00,#13ff00,#12ff00,#11ff00,#10ff00,#0fff00,#0eff00,#0dff00,#0cff00,#0bff00,#0aff00,#09ff00,#08ff00,#07ff00,#06ff00,#06ff00,#05ff00,#05ff00,#04ff00,#03ff00,#03ff00,#02ff00,#02ff00,#01ff00,#01ff00,#01ff00,#00ff00,#00ff00,#00ff00)"></i><i style="height:3px;background:linear-gradient(90deg,#1aff00,#1aff00,#1aff00,#1aff00,#19ff00,#19ff00,#19ff00,#19ff00,#19ff00,#18ff00,#18ff00,#18ff00,#17ff00,#16ff00,#15ff00,#14ff00,#14ff00,#13ff00,#12ff00,#11ff00,#11ff00,#10ff00,#0fff00,#0eff00,#0dff00,#0dff00,#0cff00,#0bff00,#0aff00,#09ff00,#08ff00,#08ff00,#07ff00,#06ff00,#05ff00,#05ff00,#04ff00,#04ff00,#03ff00,#03ff00,#02ff00,#02ff00,#02ff00,#01ff00,#01ff00,#01ff00,#00ff00,#00ff00,#00ff00)"></i><i style="height:3px;background:linear-gradient(90deg,#16ff00,#15ff00,#15ff00,#15ff00,#15ff00,#15ff00,#15ff00,#14ff00,#14ff00,#14ff00,#14ff00,#13ff00,#13ff00,#12ff00,#12ff00,#11ff00,#10ff00,#10ff00,#0fff00,#0eff00,#0eff00,#0dff00,#0cff00,#0cff00,#0bff00,#0aff00,#0aff00,#09ff00,#08ff00,#08ff00,#07ff00,#06ff00,#06ff00,#05ff00,#05ff00,#04ff00,#04ff00,#03ff00,#03ff00,#02ff00,#02ff00,#02ff00,#01ff00,#01ff00,#01ff00,#00ff00,#00ff00,#00ff00,#00ff00)"></i><i style="height:3px;background:linear-gradient(90deg,#11ff00,#11ff00,#11ff00,#11ff00,#10ff00,#10ff00,#10ff00,#10ff00,#10ff00,#10ff00,#10ff00,#0fff00,#0fff00,#0eff00,#0eff00,#0dff00,#0dff00,#0cff00,#0cff00,#0bff00,#0bff00,#0aff00,#0aff00,#09ff00,#09ff00,#08ff00,#08ff00,#07ff00,#07ff00,#06ff00,#06ff00,#05ff00,#04ff00,#04ff00,#04ff00,#03ff00,#03ff00,#03ff00,#02ff00,#02ff00,#02ff00,#01ff00,#01ff00,#01ff00,#01ff00,#00ff00,#00ff00,#00ff00,#00ff00)"></i><i style="height:3px;background:linear-gradient(90deg,#0cff00,#0cff00,#0cff00,#0cff00,#0cff00,#0cff00,#0cff00,#0cff00,#0cff00,#0cff00,#0bff00,#0bff00,#0bff00,#0aff00,#0aff00,#0aff00,#09ff00,#09ff00,#09ff00,#08ff00,#08ff00,#07ff00,#07ff00,#07ff00,#06ff00,#06ff00,#06ff00,#05ff00,#05ff00,#04ff00,#04ff00,#04ff00,#03ff00,#03ff00,#03ff00,#02ff00,#02ff00,#02ff00,#02ff00,#01ff00,#01ff00,#01ff00,#01ff00,#01ff00,#00ff00,#00ff00,#00ff00,#00ff00,#00ff00)"></i><i style="height:3px;background:linear-gradient(90deg,#08ff00,#08ff00,#08ff00,#08ff00,#08ff00,#07ff00,#07ff00,#07ff00,#07ff00,#07ff00,#07ff00,#07ff00,#07ff00,#07ff00,#06ff00,#06ff00,#06ff00,#06ff00,#05ff00,#05ff00,#05ff00,#05ff00,#04ff00,#04ff00,#04ff00,#04ff00,#04ff00,#03ff00,#03ff00,#03ff00,#03ff00,#02ff00,#02ff00,#02ff00,#02ff00,#01ff00,#01ff00,#01ff00,#01ff00,#01ff00,#01ff00,#01ff00,#00ff00,#00ff00,#00ff00,#00ff00,#00ff00,#00ff00,#00ff00)"></i><i style="height:3px;background:linear-gradient(90deg,#03ff00,#03ff00,#03ff00,#03ff00,#03ff00,#03ff00,#03ff00,#03ff00,#03ff00,#03ff00,#03ff00,#03ff00,#03ff00,#03ff00,#03ff00,#03ff00,#02ff00,#02ff00,#02ff00,#02ff00,#02ff00,#02ff00,#02ff00,#02ff00,#02ff00,#02ff00,#01ff00,#01ff00,#01ff00,#01ff00,#01ff00,#01ff00,#01ff00,#01ff00,#01ff00,#01ff00,#01ff00,#00ff00,#00ff00,#00ff00,#00ff00,#00ff00,#00ff00,#00ff00,#00ff00,#00ff00,#00ff00,#00ff00,#00ff00)"></i><i style="height:1px;background:linear-gradient(90deg,#00ff00,#00ff00,#00ff00,#00ff00,#00ff00,#00ff00,#00ff00,#00ff00,#00ff00,#00ff00,#00ff00,#00ff00,#00ff00,#00ff00,#00ff00,#00ff00,#00ff00,#00ff00,#00ff00,#00ff00,#00ff00,#00ff00,#00ff00,#00ff00,#00ff00,#00ff00,#00ff00,#00ff00,#00ff00,#00ff00,#00ff00,#00ff00,#00ff00,#00ff00,#00ff00,#00ff00,#00ff00,#00ff00,#00ff00,#00ff00,#00ff00,#00ff00,#00ff00,#00ff00,#00ff00,#00ff00,#00ff00,#00ff00,#00ff00)"></i></div>
<div id="cb"></div>
<svg width="1794" height="1797" viewBox="0 0 1794 1797">
<path d="M254.2 11.1H1657.3V650.1H254.2Z M259.8 16.6V644.9H1650.3V16.6Z" fill="#000" fill-rule="evenodd"/>
<ellipse cx="935.2" cy="405.5" rx="137.3" ry="135.6" fill="#ccffff"/>
<rect x="298.3" y="376.5" width="364.7" height="38.1" fill="#ffcc00"/>
<rect x="-182.4" y="-19" width="364.7" height="38.1" fill="#ffcc00" transform="translate(1370.8 380.2) rotate(-29.8)"/>
<line x1="312" y1="396.3" x2="1525.8" y2="396.3" stroke="#000" stroke-width="3.8" stroke-dasharray="26.1 1.8" stroke-dashoffset="19.1"/>
<circle cx="312.3" cy="396.1" r="10.7" fill="#000"/>
<circle cx="651.2" cy="396.1" r="10.7" fill="#000"/>
<circle cx="1515" cy="297.7" r="10.7" fill="#000"/>
<circle cx="1224.6" cy="463.6" r="10.7" fill="#000"/>
<line x1="935.3" y1="300" x2="935.3" y2="389" stroke="#f00" stroke-width="4.2"/>
<line x1="935.3" y1="429.4" x2="935.3" y2="520" stroke="#00f" stroke-width="4.2"/>
<polygon points="935.3,279.4 946.6,300.8 924.0,300.8" fill="#f00"/>
<polygon points="935.3,541.0 946.6,517.3 924.0,517.3" fill="#00f"/>
<path d="M674.6 355.6C679.1 351.2 692.5 336.3 701.4 328.9C710.3 321.5 719.2 315.8 728.1 311.0C737.0 306.2 746.0 302.8 754.9 300.3C763.8 297.8 772.7 296.7 781.6 295.9C790.5 295.1 801.0 295.4 808.4 295.5C815.8 295.6 818.8 295.6 826.2 296.8C833.6 298.1 844.1 300.6 853.0 303.0C861.9 305.4 872.3 308.6 879.7 311.0C887.1 313.4 894.6 316.2 897.6 317.3" fill="none" stroke="#f00" stroke-width="5"/>
<polygon points="654.1,376.1 665.7,349.4 681.7,362.8" fill="#f00"/>
<polygon points="921.7,328.9 901.1,307.5 891.3,326.2" fill="#f00"/>
<path d="M976.9 318.9C980.0 318.1 989.5 315.3 995.8 314.0C1002.1 312.7 1008.5 311.9 1014.8 311.3C1021.1 310.7 1027.4 310.5 1033.7 310.4C1040.0 310.3 1046.4 310.3 1052.7 310.8C1059.0 311.3 1065.3 312.1 1071.6 313.2C1077.9 314.3 1084.3 315.6 1090.6 317.4C1096.9 319.2 1103.2 321.5 1109.5 324.0C1115.8 326.5 1122.2 329.3 1128.5 332.5C1134.8 335.7 1141.1 338.9 1147.4 343.0C1153.7 347.1 1160.1 351.7 1166.4 357.2C1172.7 362.7 1180.7 370.4 1185.4 376.1C1190.1 381.8 1191.7 385.6 1194.8 391.3C1197.9 397.0 1201.8 405.2 1204.3 410.3C1206.8 415.4 1209.0 419.7 1210.0 421.6" fill="none" stroke="#f00" stroke-width="5"/>
<polygon points="948.4,325.0 974.0,308.9 977.8,328.8" fill="#f00"/>
<polygon points="1219.9,444.4 1200.5,422.6 1220.4,415.6" fill="#f00"/>
<path d="M672.8 438.4C674.6 440.9 678.7 447.7 683.5 453.5C688.3 459.3 695.4 467.5 701.4 473.1C707.4 478.8 713.3 483.2 719.2 487.4C725.1 491.6 731.0 495.1 737.0 498.1C743.0 501.1 748.9 503.3 754.9 505.2C760.9 507.1 766.8 508.6 772.7 509.7C778.6 510.8 784.5 511.5 790.5 512.0C796.5 512.5 802.4 512.8 808.4 512.7C814.4 512.6 820.2 512.1 826.2 511.5C832.2 510.9 838.2 510.0 844.1 508.8C850.0 507.6 856.0 505.9 861.9 504.4C867.8 502.9 874.0 501.3 879.7 499.9C885.4 498.5 893.3 496.6 896.0 496.0" fill="none" stroke="#00f" stroke-width="5"/>
<polygon points="657.6,415.2 681.7,433.0 663.0,443.7" fill="#00f"/>
<polygon points="921.7,489.2 894.0,488.3 899.4,507.9" fill="#00f"/>
<path d="M974.0 504.8C977.4 506.8 987.2 512.9 994.1 516.5C1001.0 520.1 1008.2 523.9 1015.3 526.7C1022.4 529.5 1029.4 531.6 1036.5 533.4C1043.6 535.2 1050.6 536.5 1057.7 537.3C1064.8 538.1 1071.9 538.3 1078.9 538.3C1086.0 538.3 1093.0 538.3 1100.0 537.3C1107.0 536.3 1114.1 534.6 1121.2 532.4C1128.3 530.2 1135.3 527.2 1142.4 523.9C1149.5 520.5 1156.5 516.7 1163.6 512.3C1170.7 507.9 1179.4 501.0 1184.8 497.4C1190.2 493.8 1194.1 491.6 1196.0 490.5" fill="none" stroke="#00f" stroke-width="5"/>
<polygon points="949.7,488.5 980.4,496.4 967.7,513.3" fill="#00f"/>
<polygon points="1215.5,473.1 1188.0,484.7 1203.8,500.6" fill="#00f"/>
<circle cx="935.3" cy="333.5" r="14.6" fill="#f00"/>
<circle cx="935.3" cy="485.4" r="14.6" fill="#00f"/>
<path d="M436 333V278M436 333H506M436 333L398 363.5" stroke="#000" stroke-width="6.4" fill="none"/>
<polygon points="435.6,256.3 448.4,281.5 422.8,281.5" fill="#000"/>
<polygon points="527.5,333.0 503.0,321.6 503.0,344.6" fill="#000"/>
<polygon points="380.3,377.6 391.5,353.7 407.5,370.9" fill="#000"/>
<circle cx="436.1" cy="333" r="8.6" fill="#000"/>
<path d="M1461 350Q1483.2 369.5 1454.6 395" fill="none" stroke="#000" stroke-width="6.4"/>
<path d="M312.7 805.5H1539.3a3 3 0 0 1 3 3V1580.1a3 3 0 0 1 -3 3H312.7a3 3 0 0 1 -3 -3V808.5a3 3 0 0 1 3 -3Z M316.9 814.5V1574.5H1533.5V814.5Z" fill="#000" fill-rule="evenodd"/>
<path d="M315 1483.5h8M1536 1483.5h-6.5M315 1387.4h16.3M1536 1387.4h-15.5M315 1291.3h8M1536 1291.3h-6.5M315 1195.2h16.3M1536 1195.2h-15.5M315 1099.1h8M1536 1099.1h-6.5M315 1003.0h16.3M1536 1003.0h-15.5M315 906.9h8M1536 906.9h-6.5M620.0 813v5.6M620.0 1577v-5.6M926.0 813v14.3M926.0 1577v-14.3M1232.1 813v5.6M1232.1 1577v-5.6" stroke="#000" stroke-width="7" stroke-linecap="round" fill="none"/>
<path d="M316 1162.1h9c6 0.5 8.6 4 8.6 7.5c0 4-3 6.5-8 7.5l-4 0.8h-5.6z" fill="#000"/>
<path d="M317.5 1211.3h6c6 1 10 4.5 10 8.5c0 3.5-3 6-6 6.5l-3 0.8h-7z" fill="#808080"/>
<text transform="matrix(1.0000 0 0 1.0532 21.81 86.88)" font-size="98.64">A</text>
<text transform="matrix(1.0000 0 0 1.0267 28.64 1000.80)" font-size="102.06">B</text>
<text transform="matrix(1.0000 0 0 1.0371 882.14 162.64)" font-size="63.56">QD</text>
<text transform="matrix(1.0000 0 0 0.9753 1553.89 795.72)" font-size="74.13">J (e/h)</text>
<text transform="matrix(1.0000 0 0 1.0004 190.57 832.25)" font-size="74.62">2.0</text>
<text transform="matrix(1.0000 0 0 1.0662 194.22 1024.54)" font-size="71.69">1.5</text>
<text transform="matrix(1.0000 0 0 1.0511 194.22 1215.85)" font-size="71.69">1.0</text>
<text transform="matrix(1.0000 0 0 1.0446 193.61 1409.05)" font-size="72.14">0.5</text>
<text transform="matrix(1.0000 0 0 1.0257 193.61 1600.96)" font-size="72.37">0.0</text>
<text transform="matrix(1.0000 0 0 0.9988 261.74 1654.06)" font-size="73.89">0.0</text>
<text transform="matrix(1.0000 0 0 1.0231 875.01 1654.06)" font-size="72.14">0.5</text>
<text transform="matrix(1.0000 0 0 1.0273 1488.61 1654.06)" font-size="71.84">1.0</text>
<text transform="matrix(1.0000 0 0 0.9794 1717.36 890.82)" font-size="69.75">-6</text>
<text transform="matrix(1.0000 0 0 0.9953 1717.34 1131.20)" font-size="70.19">-2</text>
<text transform="matrix(1.0000 0 0 0.9870 1717.22 1372.30)" font-size="71.65">2</text>
<text transform="matrix(1.0000 0 0 0.9229 1715.86 1611.61)" font-size="74.78">6</text>
<text class="serif" transform="matrix(1.0000 0 0 0.9418 874.46 1777.76)" font-size="78.67">θ/π</text>
<text class="si" transform="matrix(1.0000 0 0 0.9057 456.80 286.90)" font-size="69.61">z</text>
<text class="si" transform="matrix(1.0000 0 0 1.0487 542.33 349.90)" font-size="56.79">y</text>
<text class="si" transform="matrix(1.0000 0 0 0.9000 356.53 361.53)" font-size="69.96">x</text>
<text class="si" transform="matrix(1.0000 0 0 0.9000 1487.62 389.63)" font-size="75.29">θ</text>
<text class="si" transform="matrix(1.0000 0 0 0.9000 301.42 456.18)" font-size="62.89">γ</text>
<text class="si" transform="matrix(1.0000 0 0 1.1200 326.84 470.63)" font-size="28.21">L2</text>
<text class="si" transform="matrix(1.0000 0 0 0.9000 607.20 455.17)" font-size="64.14">γ</text>
<text class="si" transform="matrix(1.0000 0 0 1.1200 631.64 468.94)" font-size="25.13">L1</text>
<text class="si" transform="matrix(1.0000 0 0 0.9000 1428.89 288.49)" font-size="63.03">γ</text>
<text class="si" transform="matrix(1.0000 0 0 1.0841 1450.24 301.15)" font-size="27.33">R1</text>
<text class="si" transform="matrix(1.0000 0 0 0.9000 1224.84 516.25)" font-size="59.14">γ</text>
<text class="si" transform="matrix(1.0000 0 0 0.9229 1248.45 527.96)" font-size="30.96">R2</text>
<text class="si" transform="matrix(1.0000 0 0 0.9000 737.91 359.56)" font-size="62.54">λ</text>
<text class="si" transform="matrix(1.0000 0 0 1.0958 765.87 376.10)" font-size="27.31">L</text>
<text class="serif" transform="matrix(1.0000 0 0 0.9000 778.35 376.59)" font-size="61.22">↑</text>
<text class="si" transform="matrix(1.0000 0 0 0.9000 738.67 484.01)" font-size="67.67">λ</text>
<text class="si" transform="matrix(1.0000 0 0 1.1200 767.59 499.78)" font-size="27.62">L</text>
<text class="serif" transform="matrix(1.0000 0 0 0.9000 780.78 500.67)" font-size="60.50">↓</text>
<text class="si" transform="matrix(1.0000 0 0 0.9000 1085.23 366.70)" font-size="62.18">λ</text>
<text class="si" transform="matrix(1.0000 0 0 0.9112 1109.66 381.66)" font-size="31.67">R</text>
<text class="serif" transform="matrix(1.0000 0 0 0.9000 1124.21 382.16)" font-size="62.54">↑</text>
<text class="si" transform="matrix(1.0000 0 0 0.9000 1091.58 505.42)" font-size="57.78">λ</text>
<text class="si" transform="matrix(1.0000 0 0 1.0353 1117.14 522.75)" font-size="28.17">R</text>
<text class="serif" transform="matrix(1.0000 0 0 0.9000 1128.12 524.41)" font-size="61.51">↓</text>
<text class="serif" transform="translate(130.22 1240.37) rotate(-90) scale(1 1.0235)" font-size="73.41">ϕ/π</text>
</svg>
</body></html>
